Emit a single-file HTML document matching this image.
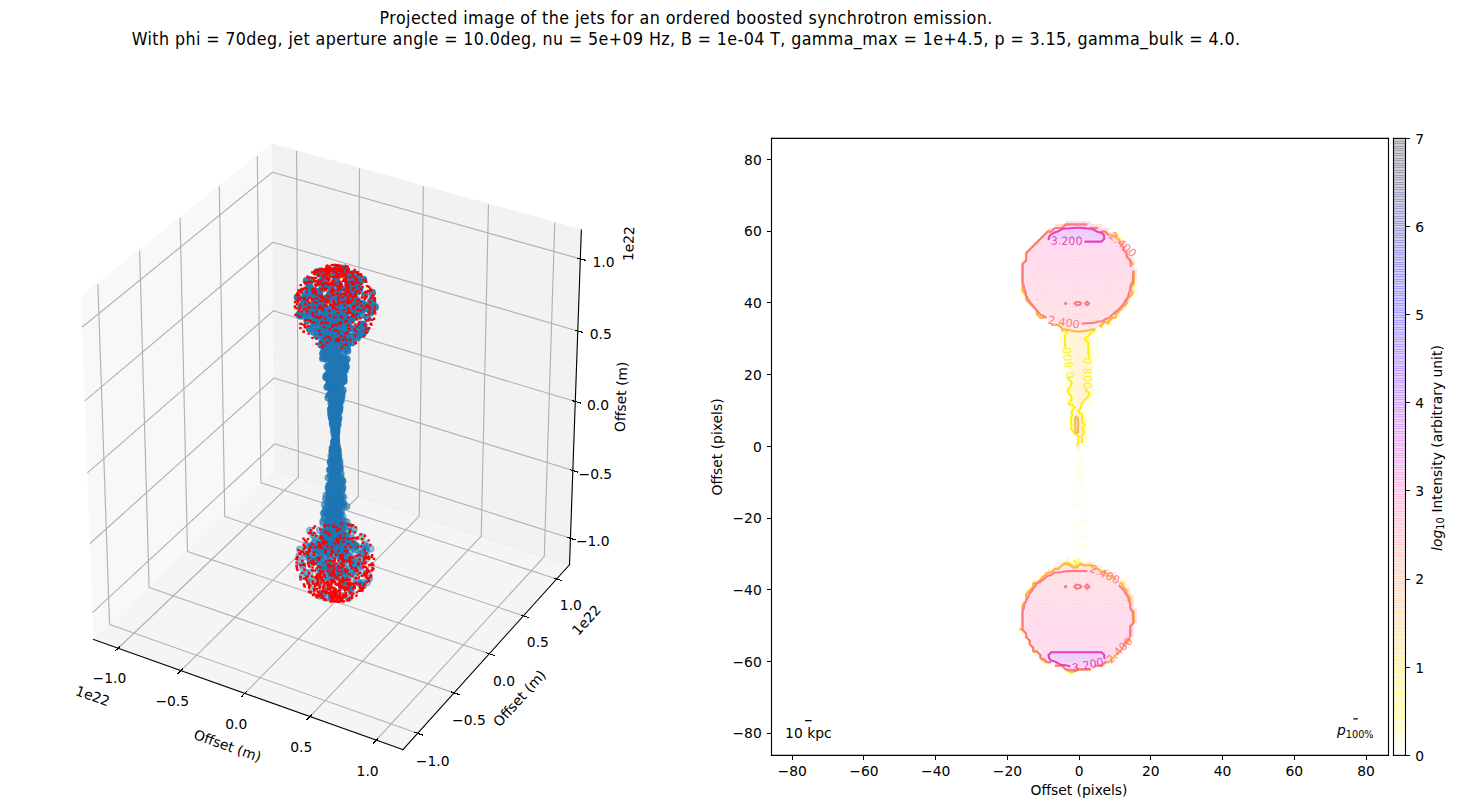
<!DOCTYPE html>
<html lang="en"><head><meta charset="utf-8"><title>Projected image of the jets</title>
<style>html,body{margin:0;padding:0;background:#fff;overflow:hidden}svg{display:block}text{font-family:"DejaVu Sans","Liberation Sans",sans-serif}</style>
</head><body>
<svg width="1457" height="808" viewBox="0 0 1049.04 581.76"> <defs> <style type="text/css">*{stroke-linejoin: round; stroke-linecap: butt}</style> </defs> <g id="figure_1"> <g id="patch_1"> <path d="M 0 581.76 L 1049.04 581.76 L 1049.04 0 L 0 0 z " style="fill: #ffffff"/> </g> <g id="patch_2"> <path d="M -2.86 581.37 L 472.73 581.37 L 472.73 61.42 L -2.86 61.42 z " style="fill: #ffffff"/> </g> <g id="pane3d_1"> <g id="patch_3"> <path d="M 67.36 460.45 L 197.96 338.09 L 195.86 103.87 L 58.29 214.30 " style="fill: #f2f2f2; opacity: 0.5; stroke: #f2f2f2; stroke-linejoin: miter"/> </g> </g> <g id="pane3d_2"> <g id="patch_4"> <path d="M 197.96 338.09 L 410.05 406.58 L 418.57 165.59 L 195.86 103.87 " style="fill: #e6e6e6; opacity: 0.5; stroke: #e6e6e6; stroke-linejoin: miter"/> </g> </g> <g id="pane3d_3"> <g id="patch_5"> <path d="M 67.36 460.45 L 290.07 539.75 L 410.05 406.58 L 197.96 338.09 " style="fill: #ececec; opacity: 0.5; stroke: #ececec; stroke-linejoin: miter"/> </g> </g> <g id="grid3d_1"> <g id="Line3DCollection_1"> <path d="M 85.03 466.74 L 214.83 343.54 L 213.55 108.77 " style="fill: none; stroke: #b0b0b0; stroke-width: 0.8"/> <path d="M 130.23 482.84 L 257.97 357.47 L 258.79 121.31 " style="fill: none; stroke: #b0b0b0; stroke-width: 0.8"/> <path d="M 176.27 499.23 L 301.84 371.64 L 304.83 134.07 " style="fill: none; stroke: #b0b0b0; stroke-width: 0.8"/> <path d="M 223.16 515.93 L 346.47 386.05 L 351.71 147.06 " style="fill: none; stroke: #b0b0b0; stroke-width: 0.8"/> <path d="M 270.92 532.93 L 391.87 400.71 L 399.43 160.28 " style="fill: none; stroke: #b0b0b0; stroke-width: 0.8"/> </g> </g> <g id="grid3d_2"> <g id="Line3DCollection_2"> <path d="M 70.46 204.53 L 78.88 449.66 L 300.68 527.97 " style="fill: none; stroke: #b0b0b0; stroke-width: 0.8"/> <path d="M 100.53 180.39 L 107.36 422.97 L 326.90 498.87 " style="fill: none; stroke: #b0b0b0; stroke-width: 0.8"/> <path d="M 129.66 157.01 L 135.00 397.08 L 352.30 470.68 " style="fill: none; stroke: #b0b0b0; stroke-width: 0.8"/> <path d="M 157.89 134.35 L 161.82 371.95 L 376.92 443.35 " style="fill: none; stroke: #b0b0b0; stroke-width: 0.8"/> <path d="M 185.25 112.38 L 187.86 347.55 L 400.80 416.85 " style="fill: none; stroke: #b0b0b0; stroke-width: 0.8"/> </g> </g> <g id="grid3d_3"> <g id="Line3DCollection_3"> <path d="M 410.73 387.56 L 197.79 319.56 L 66.64 441.05 " style="fill: none; stroke: #b0b0b0; stroke-width: 0.8"/> <path d="M 412.45 338.80 L 197.37 272.12 L 64.81 391.30 " style="fill: none; stroke: #b0b0b0; stroke-width: 0.8"/> <path d="M 414.21 289.05 L 196.93 223.75 L 62.94 340.50 " style="fill: none; stroke: #b0b0b0; stroke-width: 0.8"/> <path d="M 416.00 238.26 L 196.49 174.41 L 61.02 288.61 " style="fill: none; stroke: #b0b0b0; stroke-width: 0.8"/> <path d="M 417.83 186.41 L 196.04 124.08 L 59.07 235.60 " style="fill: none; stroke: #b0b0b0; stroke-width: 0.8"/> </g> </g> <g id="axis3d_1"> <g id="line2d_1"> <path d="M 67.36 460.45 L 290.07 539.75 " style="fill: none; stroke: #000000; stroke-width: 0.8; stroke-linecap: square"/> </g> <g id="xtick_1"> <g shape-rendering="crispEdges" id="line2d_2"> <path d="M 86.14 465.69 L 82.79 468.86 " style="fill: none; stroke: #000000; stroke-width: 0.8; stroke-linecap: square"/> </g> <g id="text_1" transform="translate(-0.36 1.44)"> <text style="font-size: 10px; font-family: 'DejaVu Sans','Liberation Sans',sans-serif; text-anchor: middle" x="79.18" y="490.63" transform="rotate(-0 79.18 490.63)">−1.0</text> </g> </g> <g id="xtick_2"> <g shape-rendering="crispEdges" id="line2d_3"> <path d="M 131.33 481.76 L 128.03 485.00 " style="fill: none; stroke: #000000; stroke-width: 0.8; stroke-linecap: square"/> </g> <g id="text_2" transform="translate(-0.36 1.44)"> <text style="font-size: 10px; font-family: 'DejaVu Sans','Liberation Sans',sans-serif; text-anchor: middle" x="124.38" y="506.90" transform="rotate(-0 124.38 506.90)">−0.5</text> </g> </g> <g id="xtick_3"> <g shape-rendering="crispEdges" id="line2d_4"> <path d="M 177.35 498.13 L 174.11 501.43 " style="fill: none; stroke: #000000; stroke-width: 0.8; stroke-linecap: square"/> </g> <g id="text_3" transform="translate(-0.36 1.44)"> <text style="font-size: 10px; font-family: 'DejaVu Sans','Liberation Sans',sans-serif; text-anchor: middle" x="170.42" y="523.46" transform="rotate(-0 170.42 523.46)">0.0</text> </g> </g> <g id="xtick_4"> <g shape-rendering="crispEdges" id="line2d_5"> <path d="M 224.22 514.81 L 221.03 518.17 " style="fill: none; stroke: #000000; stroke-width: 0.8; stroke-linecap: square"/> </g> <g id="text_4" transform="translate(-0.36 1.44)"> <text style="font-size: 10px; font-family: 'DejaVu Sans','Liberation Sans',sans-serif; text-anchor: middle" x="217.30" y="540.32" transform="rotate(-0 217.30 540.32)">0.5</text> </g> </g> <g id="xtick_5"> <g shape-rendering="crispEdges" id="line2d_6"> <path d="M 271.96 531.79 L 268.83 535.21 " style="fill: none; stroke: #000000; stroke-width: 0.8; stroke-linecap: square"/> </g> <g id="text_5" transform="translate(-0.36 1.44)"> <text style="font-size: 10px; font-family: 'DejaVu Sans','Liberation Sans',sans-serif; text-anchor: middle" x="265.06" y="557.50" transform="rotate(-0 265.06 557.50)">1.0</text> </g> </g> <g id="text_6" transform="translate(0.00 1.87)"> <text style="font-size: 10px; font-family: 'DejaVu Sans','Liberation Sans',sans-serif; text-anchor: start" x="53.70" y="498.37" transform="rotate(-340.40 53.70 498.37)">1e22</text> </g> <g id="text_7" transform="translate(0.00 2.23)"> <text style="font-size: 10px; font-family: 'DejaVu Sans','Liberation Sans',sans-serif; text-anchor: middle" x="162.60" y="538.02" transform="rotate(-340.40 162.60 538.02)">Offset (m)</text> </g> </g> <g id="axis3d_2"> <g id="line2d_7"> <path d="M 410.05 406.58 L 290.07 539.75 " style="fill: none; stroke: #000000; stroke-width: 0.8; stroke-linecap: square"/> </g> <g id="xtick_6"> <g shape-rendering="crispEdges" id="line2d_8"> <path d="M 298.83 527.32 L 304.39 529.28 " style="fill: none; stroke: #000000; stroke-width: 0.8; stroke-linecap: square"/> </g> <g id="text_8" transform="translate(0.72 1.51)"> <text style="font-size: 10px; font-family: 'DejaVu Sans','Liberation Sans',sans-serif; text-anchor: middle" x="310.82" y="549.81" transform="rotate(-0 310.82 549.81)">−1.0</text> </g> </g> <g id="xtick_7"> <g shape-rendering="crispEdges" id="line2d_9"> <path d="M 325.07 498.24 L 330.57 500.14 " style="fill: none; stroke: #000000; stroke-width: 0.8; stroke-linecap: square"/> </g> <g id="text_9" transform="translate(0.72 1.51)"> <text style="font-size: 10px; font-family: 'DejaVu Sans','Liberation Sans',sans-serif; text-anchor: middle" x="336.87" y="520.50" transform="rotate(-0 336.87 520.50)">−0.5</text> </g> </g> <g id="xtick_8"> <g shape-rendering="crispEdges" id="line2d_10"> <path d="M 350.49 470.06 L 355.93 471.91 " style="fill: none; stroke: #000000; stroke-width: 0.8; stroke-linecap: square"/> </g> <g id="text_10" transform="translate(0.72 1.51)"> <text style="font-size: 10px; font-family: 'DejaVu Sans','Liberation Sans',sans-serif; text-anchor: middle" x="362.11" y="492.09" transform="rotate(-0 362.11 492.09)">0.0</text> </g> </g> <g id="xtick_9"> <g shape-rendering="crispEdges" id="line2d_11"> <path d="M 375.13 442.76 L 380.51 444.54 " style="fill: none; stroke: #000000; stroke-width: 0.8; stroke-linecap: square"/> </g> <g id="text_11" transform="translate(0.72 1.51)"> <text style="font-size: 10px; font-family: 'DejaVu Sans','Liberation Sans',sans-serif; text-anchor: middle" x="386.57" y="464.56" transform="rotate(-0 386.57 464.56)">0.5</text> </g> </g> <g id="xtick_10"> <g shape-rendering="crispEdges" id="line2d_12"> <path d="M 399.03 416.28 L 404.35 418.01 " style="fill: none; stroke: #000000; stroke-width: 0.8; stroke-linecap: square"/> </g> <g id="text_12" transform="translate(0.72 1.51)"> <text style="font-size: 10px; font-family: 'DejaVu Sans','Liberation Sans',sans-serif; text-anchor: middle" x="410.30" y="437.87" transform="rotate(-0 410.30 437.87)">1.0</text> </g> </g> <g id="text_13" transform="translate(0.65 2.02)"> <text style="font-size: 10px; font-family: 'DejaVu Sans','Liberation Sans',sans-serif; text-anchor: end" x="432.61" y="437.42" transform="rotate(-47.98 432.61 437.42)">1e22</text> </g> <g id="text_14" transform="translate(1.01 2.66)"> <text style="font-size: 10px; font-family: 'DejaVu Sans','Liberation Sans',sans-serif; text-anchor: middle" x="375.66" y="502.55" transform="rotate(-47.98 375.66 502.55)">Offset (m)</text> </g> </g> <g id="axis3d_3"> <g id="line2d_13"> <path d="M 410.05 406.58 L 418.57 165.59 " style="fill: none; stroke: #000000; stroke-width: 0.8; stroke-linecap: square"/> </g> <g id="xtick_11"> <g shape-rendering="crispEdges" id="line2d_14"> <path d="M 408.95 386.99 L 414.28 388.69 " style="fill: none; stroke: #000000; stroke-width: 0.8; stroke-linecap: square"/> </g> <g id="text_15" transform="translate(1.30 0.50)"> <text style="font-size: 10px; font-family: 'DejaVu Sans','Liberation Sans',sans-serif; text-anchor: middle" x="425.50" y="392.86" transform="rotate(-0 425.50 392.86)">−1.0</text> </g> </g> <g id="xtick_12"> <g shape-rendering="crispEdges" id="line2d_15"> <path d="M 410.65 338.25 L 416.04 339.92 " style="fill: none; stroke: #000000; stroke-width: 0.8; stroke-linecap: square"/> </g> <g id="text_16" transform="translate(1.30 0.50)"> <text style="font-size: 10px; font-family: 'DejaVu Sans','Liberation Sans',sans-serif; text-anchor: middle" x="427.37" y="344.15" transform="rotate(-0 427.37 344.15)">−0.5</text> </g> </g> <g id="xtick_13"> <g shape-rendering="crispEdges" id="line2d_16"> <path d="M 412.39 288.51 L 417.83 290.14 " style="fill: none; stroke: #000000; stroke-width: 0.8; stroke-linecap: square"/> </g> <g id="text_17" transform="translate(1.30 0.50)"> <text style="font-size: 10px; font-family: 'DejaVu Sans','Liberation Sans',sans-serif; text-anchor: middle" x="429.28" y="294.44" transform="rotate(-0 429.28 294.44)">0.0</text> </g> </g> <g id="xtick_14"> <g shape-rendering="crispEdges" id="line2d_17"> <path d="M 414.17 237.73 L 419.66 239.33 " style="fill: none; stroke: #000000; stroke-width: 0.8; stroke-linecap: square"/> </g> <g id="text_18" transform="translate(1.30 0.50)"> <text style="font-size: 10px; font-family: 'DejaVu Sans','Liberation Sans',sans-serif; text-anchor: middle" x="431.23" y="243.70" transform="rotate(-0 431.23 243.70)">0.5</text> </g> </g> <g id="xtick_15"> <g shape-rendering="crispEdges" id="line2d_18"> <path d="M 415.98 185.89 L 421.54 187.45 " style="fill: none; stroke: #000000; stroke-width: 0.8; stroke-linecap: square"/> </g> <g id="text_19" transform="translate(1.30 0.50)"> <text style="font-size: 10px; font-family: 'DejaVu Sans','Liberation Sans',sans-serif; text-anchor: middle" x="433.22" y="191.90" transform="rotate(-0 433.22 191.90)">1.0</text> </g> </g> <g id="text_20" transform="translate(1.80 1.80)"> <text style="font-size: 10px; font-family: 'DejaVu Sans','Liberation Sans',sans-serif; text-anchor: end" x="454.85" y="161.15" transform="rotate(-87.97 454.85 161.15)">1e22</text> </g> <g id="text_21" transform="translate(1.08 1.44)"> <text style="font-size: 10px; font-family: 'DejaVu Sans','Liberation Sans',sans-serif; text-anchor: middle" x="449.68" y="284.36" transform="rotate(-87.97 449.68 284.36)">Offset (m)</text> </g> </g> <g id="axes_1"/> <g id="scatter3d"><g fill="#1f77b4" stroke="#1f77b4" stroke-width="1"><circle cx="237.69" cy="412.72" r="2.24" fill-opacity=".30" stroke-opacity=".30"/><circle cx="230.21" cy="397.5" r="2.24" fill-opacity=".31" stroke-opacity=".31"/><circle cx="249.74" cy="398.08" r="2.24" fill-opacity=".31" stroke-opacity=".31"/><circle cx="236.58" cy="389.41" r="2.24" fill-opacity=".31" stroke-opacity=".31"/><circle cx="248.66" cy="414.49" r="2.24" fill-opacity=".31" stroke-opacity=".31"/><circle cx="248" cy="418.33" r="2.24" fill-opacity=".31" stroke-opacity=".31"/><circle cx="242.74" cy="396.29" r="2.24" fill-opacity=".31" stroke-opacity=".31"/><circle cx="236.86" cy="416.05" r="2.24" fill-opacity=".32" stroke-opacity=".32"/><circle cx="255.34" cy="407.28" r="2.24" fill-opacity=".32" stroke-opacity=".32"/><circle cx="240.26" cy="384.71" r="2.24" fill-opacity=".32" stroke-opacity=".32"/><circle cx="225.39" cy="395.49" r="2.24" fill-opacity=".32" stroke-opacity=".32"/><circle cx="243.39" cy="410.08" r="2.24" fill-opacity=".32" stroke-opacity=".32"/><circle cx="242.5" cy="415.67" r="2.24" fill-opacity=".32" stroke-opacity=".32"/><circle cx="250.22" cy="413.86" r="2.24" fill-opacity=".32" stroke-opacity=".32"/><circle cx="238.46" cy="413.44" r="2.24" fill-opacity=".32" stroke-opacity=".32"/><circle cx="251.17" cy="390.17" r="2.24" fill-opacity=".32" stroke-opacity=".32"/><circle cx="237" cy="390.93" r="2.24" fill-opacity=".32" stroke-opacity=".32"/><circle cx="249.26" cy="385.25" r="2.24" fill-opacity=".33" stroke-opacity=".33"/><circle cx="244.96" cy="395.83" r="2.24" fill-opacity=".33" stroke-opacity=".33"/><circle cx="230.43" cy="394.04" r="2.24" fill-opacity=".33" stroke-opacity=".33"/><circle cx="255.75" cy="406.95" r="2.24" fill-opacity=".33" stroke-opacity=".33"/><circle cx="232.74" cy="415.5" r="2.24" fill-opacity=".33" stroke-opacity=".33"/><circle cx="261.12" cy="398.33" r="2.24" fill-opacity=".33" stroke-opacity=".33"/><circle cx="245.35" cy="414.29" r="2.24" fill-opacity=".33" stroke-opacity=".33"/><circle cx="260.13" cy="411.18" r="2.24" fill-opacity=".33" stroke-opacity=".33"/><circle cx="244.28" cy="382.85" r="2.24" fill-opacity=".33" stroke-opacity=".33"/><circle cx="234.44" cy="408.7" r="2.24" fill-opacity=".33" stroke-opacity=".33"/><circle cx="229.43" cy="412.27" r="2.24" fill-opacity=".34" stroke-opacity=".34"/><circle cx="245.65" cy="413.52" r="2.24" fill-opacity=".34" stroke-opacity=".34"/><circle cx="227.05" cy="394.36" r="2.24" fill-opacity=".34" stroke-opacity=".34"/><circle cx="254.23" cy="410.73" r="2.24" fill-opacity=".34" stroke-opacity=".34"/><circle cx="237.93" cy="393.72" r="2.24" fill-opacity=".34" stroke-opacity=".34"/><circle cx="255.93" cy="393.93" r="2.24" fill-opacity=".34" stroke-opacity=".34"/><circle cx="245.5" cy="404" r="2.24" fill-opacity=".34" stroke-opacity=".34"/><circle cx="227.53" cy="400.6" r="2.24" fill-opacity=".35" stroke-opacity=".35"/><circle cx="249.57" cy="385.88" r="2.24" fill-opacity=".35" stroke-opacity=".35"/><circle cx="237.46" cy="416.76" r="2.24" fill-opacity=".35" stroke-opacity=".35"/><circle cx="263.95" cy="397.32" r="2.24" fill-opacity=".35" stroke-opacity=".35"/><circle cx="230.65" cy="410.53" r="2.24" fill-opacity=".35" stroke-opacity=".35"/><circle cx="257.65" cy="418.6" r="2.24" fill-opacity=".35" stroke-opacity=".35"/><circle cx="258.92" cy="406.07" r="2.24" fill-opacity=".35" stroke-opacity=".35"/><circle cx="253.94" cy="407.35" r="2.24" fill-opacity=".35" stroke-opacity=".35"/><circle cx="258.59" cy="399.46" r="2.24" fill-opacity=".35" stroke-opacity=".35"/><circle cx="233.74" cy="385.38" r="2.24" fill-opacity=".35" stroke-opacity=".35"/><circle cx="224.11" cy="403.91" r="2.24" fill-opacity=".36" stroke-opacity=".36"/><circle cx="248.09" cy="411.06" r="2.24" fill-opacity=".36" stroke-opacity=".36"/><circle cx="226.67" cy="404.5" r="2.24" fill-opacity=".36" stroke-opacity=".36"/><circle cx="253.06" cy="422.45" r="2.24" fill-opacity=".36" stroke-opacity=".36"/><circle cx="248.23" cy="389.46" r="2.24" fill-opacity=".36" stroke-opacity=".36"/><circle cx="247.36" cy="419.77" r="2.24" fill-opacity=".36" stroke-opacity=".36"/><circle cx="246.54" cy="420.01" r="2.24" fill-opacity=".36" stroke-opacity=".36"/><circle cx="239.23" cy="388.88" r="2.24" fill-opacity=".36" stroke-opacity=".36"/><circle cx="236.25" cy="396.21" r="2.24" fill-opacity=".36" stroke-opacity=".36"/><circle cx="235.65" cy="421.58" r="2.24" fill-opacity=".36" stroke-opacity=".36"/><circle cx="252.27" cy="424.69" r="2.24" fill-opacity=".37" stroke-opacity=".37"/><circle cx="243.04" cy="411.46" r="2.24" fill-opacity=".37" stroke-opacity=".37"/><circle cx="245.75" cy="421.43" r="2.24" fill-opacity=".37" stroke-opacity=".37"/><circle cx="226.24" cy="404.2" r="2.24" fill-opacity=".37" stroke-opacity=".37"/><circle cx="261.06" cy="396.16" r="2.24" fill-opacity=".37" stroke-opacity=".37"/><circle cx="229.94" cy="405.85" r="2.24" fill-opacity=".37" stroke-opacity=".37"/><circle cx="218.15" cy="409.16" r="2.24" fill-opacity=".37" stroke-opacity=".37"/><circle cx="237.98" cy="413.26" r="2.24" fill-opacity=".37" stroke-opacity=".37"/><circle cx="255.91" cy="411.77" r="2.24" fill-opacity=".37" stroke-opacity=".37"/><circle cx="244.66" cy="399.3" r="2.24" fill-opacity=".38" stroke-opacity=".38"/><circle cx="217.61" cy="406.88" r="2.24" fill-opacity=".38" stroke-opacity=".38"/><circle cx="263.51" cy="402.64" r="2.24" fill-opacity=".38" stroke-opacity=".38"/><circle cx="230.36" cy="408.97" r="2.24" fill-opacity=".38" stroke-opacity=".38"/><circle cx="227.22" cy="387.5" r="2.24" fill-opacity=".38" stroke-opacity=".38"/><circle cx="241.36" cy="384.16" r="2.24" fill-opacity=".38" stroke-opacity=".38"/><circle cx="246.25" cy="418.85" r="2.24" fill-opacity=".38" stroke-opacity=".38"/><circle cx="255.09" cy="392.62" r="2.24" fill-opacity=".38" stroke-opacity=".38"/><circle cx="238.39" cy="414.13" r="2.24" fill-opacity=".38" stroke-opacity=".38"/><circle cx="239.89" cy="427.63" r="2.24" fill-opacity=".39" stroke-opacity=".39"/><circle cx="250.83" cy="379.44" r="2.24" fill-opacity=".39" stroke-opacity=".39"/><circle cx="245.23" cy="410.98" r="2.24" fill-opacity=".39" stroke-opacity=".39"/><circle cx="232.17" cy="397.44" r="2.24" fill-opacity=".39" stroke-opacity=".39"/><circle cx="226.11" cy="393.7" r="2.24" fill-opacity=".39" stroke-opacity=".39"/><circle cx="229.16" cy="392.1" r="2.24" fill-opacity=".39" stroke-opacity=".39"/><circle cx="246.73" cy="377.71" r="2.24" fill-opacity=".39" stroke-opacity=".39"/><circle cx="235.92" cy="393.48" r="2.24" fill-opacity=".39" stroke-opacity=".39"/><circle cx="254.26" cy="401.66" r="2.24" fill-opacity=".39" stroke-opacity=".39"/><circle cx="233.57" cy="407.1" r="2.24" fill-opacity=".39" stroke-opacity=".39"/><circle cx="241.8" cy="387.76" r="2.24" fill-opacity=".39" stroke-opacity=".39"/><circle cx="220.02" cy="400.97" r="2.24" fill-opacity=".39" stroke-opacity=".39"/><circle cx="248.77" cy="419" r="2.24" fill-opacity=".39" stroke-opacity=".39"/><circle cx="256.12" cy="393.47" r="2.24" fill-opacity=".39" stroke-opacity=".39"/><circle cx="244.16" cy="387.25" r="2.24" fill-opacity=".39" stroke-opacity=".39"/><circle cx="254.13" cy="411.33" r="2.24" fill-opacity=".39" stroke-opacity=".39"/><circle cx="264.43" cy="419.38" r="2.24" fill-opacity=".39" stroke-opacity=".39"/><circle cx="254.31" cy="391.71" r="2.24" fill-opacity=".40" stroke-opacity=".40"/><circle cx="249.11" cy="414.26" r="2.24" fill-opacity=".40" stroke-opacity=".40"/><circle cx="223.11" cy="381.91" r="2.24" fill-opacity=".40" stroke-opacity=".40"/><circle cx="251.66" cy="403.29" r="2.24" fill-opacity=".40" stroke-opacity=".40"/><circle cx="234.01" cy="407.45" r="2.24" fill-opacity=".40" stroke-opacity=".40"/><circle cx="228.81" cy="419.84" r="2.24" fill-opacity=".40" stroke-opacity=".40"/><circle cx="245.15" cy="394.91" r="2.24" fill-opacity=".40" stroke-opacity=".40"/><circle cx="240.95" cy="414.28" r="2.24" fill-opacity=".40" stroke-opacity=".40"/><circle cx="263.29" cy="400.69" r="2.24" fill-opacity=".40" stroke-opacity=".40"/><circle cx="236.96" cy="390.43" r="2.24" fill-opacity=".40" stroke-opacity=".40"/><circle cx="261.6" cy="421.78" r="2.24" fill-opacity=".40" stroke-opacity=".40"/><circle cx="240.08" cy="389.81" r="2.24" fill-opacity=".40" stroke-opacity=".40"/><circle cx="231.52" cy="414.16" r="2.24" fill-opacity=".40" stroke-opacity=".40"/><circle cx="239.92" cy="392.51" r="2.24" fill-opacity=".40" stroke-opacity=".40"/><circle cx="223.66" cy="405.78" r="2.24" fill-opacity=".40" stroke-opacity=".40"/><circle cx="254.88" cy="395.04" r="2.24" fill-opacity=".40" stroke-opacity=".40"/><circle cx="243.26" cy="380.09" r="2.24" fill-opacity=".40" stroke-opacity=".40"/><circle cx="227.68" cy="392.99" r="2.24" fill-opacity=".40" stroke-opacity=".40"/><circle cx="240.81" cy="393.11" r="2.24" fill-opacity=".40" stroke-opacity=".40"/><circle cx="243.19" cy="426.9" r="2.24" fill-opacity=".41" stroke-opacity=".41"/><circle cx="244.5" cy="396.68" r="2.24" fill-opacity=".41" stroke-opacity=".41"/><circle cx="260.55" cy="386.58" r="2.24" fill-opacity=".41" stroke-opacity=".41"/><circle cx="232.34" cy="427.13" r="2.24" fill-opacity=".41" stroke-opacity=".41"/><circle cx="243.22" cy="392.04" r="2.24" fill-opacity=".41" stroke-opacity=".41"/><circle cx="264.97" cy="412.29" r="2.24" fill-opacity=".41" stroke-opacity=".41"/><circle cx="237.99" cy="388.68" r="2.24" fill-opacity=".41" stroke-opacity=".41"/><circle cx="242.44" cy="415.24" r="2.24" fill-opacity=".41" stroke-opacity=".41"/><circle cx="215.82" cy="395.44" r="2.24" fill-opacity=".41" stroke-opacity=".41"/><circle cx="251.61" cy="408.68" r="2.24" fill-opacity=".41" stroke-opacity=".41"/><circle cx="250.87" cy="393.64" r="2.24" fill-opacity=".41" stroke-opacity=".41"/><circle cx="241.53" cy="389.38" r="2.24" fill-opacity=".41" stroke-opacity=".41"/><circle cx="242.3" cy="394.08" r="2.24" fill-opacity=".41" stroke-opacity=".41"/><circle cx="238.18" cy="389.35" r="2.24" fill-opacity=".41" stroke-opacity=".41"/><circle cx="251.41" cy="378.86" r="2.24" fill-opacity=".41" stroke-opacity=".41"/><circle cx="234.9" cy="392.76" r="2.24" fill-opacity=".41" stroke-opacity=".41"/><circle cx="223.3" cy="412.1" r="2.24" fill-opacity=".41" stroke-opacity=".41"/><circle cx="262.64" cy="391.74" r="2.24" fill-opacity=".41" stroke-opacity=".41"/><circle cx="248.35" cy="393.91" r="2.24" fill-opacity=".41" stroke-opacity=".41"/><circle cx="240.27" cy="384.6" r="2.24" fill-opacity=".41" stroke-opacity=".41"/><circle cx="232.03" cy="424.45" r="2.24" fill-opacity=".41" stroke-opacity=".41"/><circle cx="239.72" cy="388.57" r="2.24" fill-opacity=".41" stroke-opacity=".41"/><circle cx="238.75" cy="389.74" r="2.24" fill-opacity=".41" stroke-opacity=".41"/><circle cx="241.65" cy="394.92" r="2.24" fill-opacity=".41" stroke-opacity=".41"/><circle cx="231.68" cy="405.35" r="2.24" fill-opacity=".42" stroke-opacity=".42"/><circle cx="260.62" cy="402.34" r="2.24" fill-opacity=".42" stroke-opacity=".42"/><circle cx="246.52" cy="395.24" r="2.24" fill-opacity=".42" stroke-opacity=".42"/><circle cx="266.98" cy="395.05" r="2.24" fill-opacity=".42" stroke-opacity=".42"/><circle cx="252.63" cy="425.85" r="2.24" fill-opacity=".42" stroke-opacity=".42"/><circle cx="240.05" cy="396.04" r="2.24" fill-opacity=".42" stroke-opacity=".42"/><circle cx="238.24" cy="410.32" r="2.24" fill-opacity=".42" stroke-opacity=".42"/><circle cx="224.65" cy="392.52" r="2.24" fill-opacity=".42" stroke-opacity=".42"/><circle cx="234.3" cy="410.72" r="2.24" fill-opacity=".42" stroke-opacity=".42"/><circle cx="243.75" cy="382.4" r="2.24" fill-opacity=".42" stroke-opacity=".42"/><circle cx="243.15" cy="387.73" r="2.24" fill-opacity=".42" stroke-opacity=".42"/><circle cx="265.95" cy="416.58" r="2.24" fill-opacity=".42" stroke-opacity=".42"/><circle cx="243.41" cy="390.1" r="2.24" fill-opacity=".42" stroke-opacity=".42"/><circle cx="222.58" cy="393.79" r="2.24" fill-opacity=".42" stroke-opacity=".42"/><circle cx="235.5" cy="403.68" r="2.24" fill-opacity=".42" stroke-opacity=".42"/><circle cx="242.12" cy="385.43" r="2.24" fill-opacity=".42" stroke-opacity=".42"/><circle cx="243.82" cy="392.11" r="2.24" fill-opacity=".42" stroke-opacity=".42"/><circle cx="238.42" cy="430.63" r="2.24" fill-opacity=".42" stroke-opacity=".42"/><circle cx="254.52" cy="413.92" r="2.24" fill-opacity=".42" stroke-opacity=".42"/><circle cx="240.61" cy="397.06" r="2.24" fill-opacity=".42" stroke-opacity=".42"/><circle cx="261.91" cy="393.34" r="2.24" fill-opacity=".42" stroke-opacity=".42"/><circle cx="224.02" cy="393.63" r="2.24" fill-opacity=".42" stroke-opacity=".42"/><circle cx="238.26" cy="391.36" r="2.24" fill-opacity=".42" stroke-opacity=".42"/><circle cx="240.37" cy="429.04" r="2.24" fill-opacity=".43" stroke-opacity=".43"/><circle cx="244.63" cy="389.12" r="2.24" fill-opacity=".43" stroke-opacity=".43"/><circle cx="242.72" cy="387.89" r="2.24" fill-opacity=".43" stroke-opacity=".43"/><circle cx="246.33" cy="428.92" r="2.24" fill-opacity=".43" stroke-opacity=".43"/><circle cx="223.1" cy="419.19" r="2.24" fill-opacity=".43" stroke-opacity=".43"/><circle cx="246.46" cy="390.73" r="2.24" fill-opacity=".43" stroke-opacity=".43"/><circle cx="238.13" cy="388.06" r="2.24" fill-opacity=".43" stroke-opacity=".43"/><circle cx="230.65" cy="401.44" r="2.24" fill-opacity=".43" stroke-opacity=".43"/><circle cx="244.43" cy="408.8" r="2.24" fill-opacity=".43" stroke-opacity=".43"/><circle cx="252.44" cy="403.24" r="2.24" fill-opacity=".43" stroke-opacity=".43"/><circle cx="243.78" cy="397.99" r="2.24" fill-opacity=".43" stroke-opacity=".43"/><circle cx="228.18" cy="399.1" r="2.24" fill-opacity=".43" stroke-opacity=".43"/><circle cx="234.63" cy="407.47" r="2.24" fill-opacity=".43" stroke-opacity=".43"/><circle cx="243.34" cy="388.52" r="2.24" fill-opacity=".43" stroke-opacity=".43"/><circle cx="243.64" cy="392.01" r="2.24" fill-opacity=".43" stroke-opacity=".43"/><circle cx="242.54" cy="381.94" r="2.24" fill-opacity=".43" stroke-opacity=".43"/><circle cx="232.79" cy="411.51" r="2.24" fill-opacity=".43" stroke-opacity=".43"/><circle cx="233.53" cy="391.67" r="2.24" fill-opacity=".43" stroke-opacity=".43"/><circle cx="252.42" cy="422.05" r="2.24" fill-opacity=".43" stroke-opacity=".43"/><circle cx="237.09" cy="396.99" r="2.24" fill-opacity=".43" stroke-opacity=".43"/><circle cx="257.49" cy="404.52" r="2.24" fill-opacity=".43" stroke-opacity=".43"/><circle cx="248.59" cy="388.78" r="2.24" fill-opacity=".43" stroke-opacity=".43"/><circle cx="254.92" cy="381.1" r="2.24" fill-opacity=".43" stroke-opacity=".43"/><circle cx="243.71" cy="379.71" r="2.24" fill-opacity=".43" stroke-opacity=".43"/><circle cx="254.21" cy="388.3" r="2.24" fill-opacity=".43" stroke-opacity=".43"/><circle cx="237.85" cy="381.6" r="2.24" fill-opacity=".43" stroke-opacity=".43"/><circle cx="247.86" cy="396.01" r="2.24" fill-opacity=".43" stroke-opacity=".43"/><circle cx="239.82" cy="377.32" r="2.24" fill-opacity=".44" stroke-opacity=".44"/><circle cx="244.43" cy="395.65" r="2.24" fill-opacity=".44" stroke-opacity=".44"/><circle cx="263.3" cy="395.78" r="2.24" fill-opacity=".44" stroke-opacity=".44"/><circle cx="237.35" cy="383.9" r="2.24" fill-opacity=".44" stroke-opacity=".44"/><circle cx="239.89" cy="375.71" r="2.24" fill-opacity=".44" stroke-opacity=".44"/><circle cx="235.17" cy="386.98" r="2.24" fill-opacity=".44" stroke-opacity=".44"/><circle cx="245.63" cy="395.47" r="2.24" fill-opacity=".44" stroke-opacity=".44"/><circle cx="238.3" cy="378.49" r="2.24" fill-opacity=".44" stroke-opacity=".44"/><circle cx="240.45" cy="395.26" r="2.24" fill-opacity=".44" stroke-opacity=".44"/><circle cx="220.49" cy="392.67" r="2.24" fill-opacity=".44" stroke-opacity=".44"/><circle cx="224.71" cy="424.1" r="2.24" fill-opacity=".44" stroke-opacity=".44"/><circle cx="248.61" cy="396.37" r="2.24" fill-opacity=".44" stroke-opacity=".44"/><circle cx="238.2" cy="412.24" r="2.24" fill-opacity=".44" stroke-opacity=".44"/><circle cx="230.15" cy="381.82" r="2.24" fill-opacity=".44" stroke-opacity=".44"/><circle cx="249" cy="402.55" r="2.24" fill-opacity=".44" stroke-opacity=".44"/><circle cx="242.7" cy="389.88" r="2.24" fill-opacity=".44" stroke-opacity=".44"/><circle cx="255.92" cy="402.58" r="2.24" fill-opacity=".44" stroke-opacity=".44"/><circle cx="234.41" cy="383.28" r="2.24" fill-opacity=".44" stroke-opacity=".44"/><circle cx="259.55" cy="420.48" r="2.24" fill-opacity=".44" stroke-opacity=".44"/><circle cx="241.21" cy="375.39" r="2.24" fill-opacity=".44" stroke-opacity=".44"/><circle cx="242.51" cy="384.62" r="2.24" fill-opacity=".44" stroke-opacity=".44"/><circle cx="237.37" cy="390.55" r="2.24" fill-opacity=".44" stroke-opacity=".44"/><circle cx="223.3" cy="402.57" r="2.24" fill-opacity=".44" stroke-opacity=".44"/><circle cx="247.65" cy="387.06" r="2.24" fill-opacity=".44" stroke-opacity=".44"/><circle cx="246.01" cy="376.25" r="2.24" fill-opacity=".44" stroke-opacity=".44"/><circle cx="237.33" cy="394.4" r="2.24" fill-opacity=".44" stroke-opacity=".44"/><circle cx="245.76" cy="390.73" r="2.24" fill-opacity=".44" stroke-opacity=".44"/><circle cx="236.26" cy="382.97" r="2.24" fill-opacity=".44" stroke-opacity=".44"/><circle cx="253.11" cy="422.96" r="2.24" fill-opacity=".44" stroke-opacity=".44"/><circle cx="245.47" cy="397.21" r="2.24" fill-opacity=".44" stroke-opacity=".44"/><circle cx="246.37" cy="381.37" r="2.24" fill-opacity=".44" stroke-opacity=".44"/><circle cx="235.11" cy="422.69" r="2.24" fill-opacity=".44" stroke-opacity=".44"/><circle cx="241.07" cy="378.68" r="2.24" fill-opacity=".44" stroke-opacity=".44"/><circle cx="223.75" cy="403.69" r="2.24" fill-opacity=".44" stroke-opacity=".44"/><circle cx="250.41" cy="391.99" r="2.24" fill-opacity=".45" stroke-opacity=".45"/><circle cx="247.82" cy="377.86" r="2.24" fill-opacity=".45" stroke-opacity=".45"/><circle cx="247.55" cy="397.78" r="2.24" fill-opacity=".45" stroke-opacity=".45"/><circle cx="242.25" cy="383.74" r="2.24" fill-opacity=".45" stroke-opacity=".45"/><circle cx="234.86" cy="389.05" r="2.24" fill-opacity=".45" stroke-opacity=".45"/><circle cx="261.35" cy="419.37" r="2.24" fill-opacity=".45" stroke-opacity=".45"/><circle cx="230.5" cy="429.17" r="2.24" fill-opacity=".45" stroke-opacity=".45"/><circle cx="250.87" cy="422.13" r="2.24" fill-opacity=".45" stroke-opacity=".45"/><circle cx="234.08" cy="400.9" r="2.24" fill-opacity=".45" stroke-opacity=".45"/><circle cx="235.23" cy="377.37" r="2.24" fill-opacity=".45" stroke-opacity=".45"/><circle cx="240.29" cy="395.02" r="2.24" fill-opacity=".45" stroke-opacity=".45"/><circle cx="237.68" cy="383.71" r="2.24" fill-opacity=".45" stroke-opacity=".45"/><circle cx="239.43" cy="379.27" r="2.24" fill-opacity=".45" stroke-opacity=".45"/><circle cx="236.39" cy="374.64" r="2.24" fill-opacity=".45" stroke-opacity=".45"/><circle cx="240.54" cy="370.59" r="2.24" fill-opacity=".45" stroke-opacity=".45"/><circle cx="240.84" cy="393.58" r="2.24" fill-opacity=".45" stroke-opacity=".45"/><circle cx="241.67" cy="372.75" r="2.24" fill-opacity=".45" stroke-opacity=".45"/><circle cx="247.42" cy="385.05" r="2.24" fill-opacity=".45" stroke-opacity=".45"/><circle cx="233.58" cy="397.61" r="2.24" fill-opacity=".45" stroke-opacity=".45"/><circle cx="238.69" cy="376.59" r="2.24" fill-opacity=".45" stroke-opacity=".45"/><circle cx="250.38" cy="390.68" r="2.24" fill-opacity=".45" stroke-opacity=".45"/><circle cx="232.83" cy="395.78" r="2.24" fill-opacity=".45" stroke-opacity=".45"/><circle cx="237.35" cy="377.44" r="2.24" fill-opacity=".45" stroke-opacity=".45"/><circle cx="247.98" cy="403.93" r="2.24" fill-opacity=".45" stroke-opacity=".45"/><circle cx="241.26" cy="400.33" r="2.24" fill-opacity=".45" stroke-opacity=".45"/><circle cx="250.91" cy="430.9" r="2.24" fill-opacity=".45" stroke-opacity=".45"/><circle cx="252.05" cy="389.87" r="2.24" fill-opacity=".45" stroke-opacity=".45"/><circle cx="239.96" cy="384.18" r="2.24" fill-opacity=".45" stroke-opacity=".45"/><circle cx="246.21" cy="380.07" r="2.24" fill-opacity=".45" stroke-opacity=".45"/><circle cx="236.72" cy="398.07" r="2.24" fill-opacity=".45" stroke-opacity=".45"/><circle cx="244.56" cy="372.61" r="2.24" fill-opacity=".45" stroke-opacity=".45"/><circle cx="241.16" cy="378.05" r="2.24" fill-opacity=".45" stroke-opacity=".45"/><circle cx="246.17" cy="422.81" r="2.24" fill-opacity=".45" stroke-opacity=".45"/><circle cx="242.62" cy="392.54" r="2.24" fill-opacity=".45" stroke-opacity=".45"/><circle cx="240.54" cy="411.84" r="2.24" fill-opacity=".45" stroke-opacity=".45"/><circle cx="234.32" cy="391.64" r="2.24" fill-opacity=".45" stroke-opacity=".45"/><circle cx="222.11" cy="399.83" r="2.24" fill-opacity=".45" stroke-opacity=".45"/><circle cx="241.96" cy="393.77" r="2.24" fill-opacity=".45" stroke-opacity=".45"/><circle cx="242.09" cy="390.83" r="2.24" fill-opacity=".45" stroke-opacity=".45"/><circle cx="241.89" cy="369.79" r="2.24" fill-opacity=".45" stroke-opacity=".45"/><circle cx="227.9" cy="404.09" r="2.24" fill-opacity=".45" stroke-opacity=".45"/><circle cx="215.44" cy="400.09" r="2.24" fill-opacity=".45" stroke-opacity=".45"/><circle cx="241.52" cy="407.73" r="2.24" fill-opacity=".46" stroke-opacity=".46"/><circle cx="233.97" cy="398.95" r="2.24" fill-opacity=".46" stroke-opacity=".46"/><circle cx="245.19" cy="390.17" r="2.24" fill-opacity=".46" stroke-opacity=".46"/><circle cx="242.33" cy="391.71" r="2.24" fill-opacity=".46" stroke-opacity=".46"/><circle cx="233.2" cy="394.05" r="2.24" fill-opacity=".46" stroke-opacity=".46"/><circle cx="236.73" cy="385.46" r="2.24" fill-opacity=".46" stroke-opacity=".46"/><circle cx="233.96" cy="383.66" r="2.24" fill-opacity=".46" stroke-opacity=".46"/><circle cx="245.67" cy="395.87" r="2.24" fill-opacity=".46" stroke-opacity=".46"/><circle cx="259.11" cy="408.28" r="2.24" fill-opacity=".46" stroke-opacity=".46"/><circle cx="245.84" cy="368.74" r="2.24" fill-opacity=".46" stroke-opacity=".46"/><circle cx="239.29" cy="381.22" r="2.24" fill-opacity=".46" stroke-opacity=".46"/><circle cx="232.54" cy="383.75" r="2.24" fill-opacity=".46" stroke-opacity=".46"/><circle cx="242.97" cy="371.22" r="2.24" fill-opacity=".46" stroke-opacity=".46"/><circle cx="253.1" cy="383.59" r="2.24" fill-opacity=".46" stroke-opacity=".46"/><circle cx="264.19" cy="393.52" r="2.24" fill-opacity=".46" stroke-opacity=".46"/><circle cx="236.69" cy="391.47" r="2.24" fill-opacity=".46" stroke-opacity=".46"/><circle cx="246.35" cy="388.64" r="2.24" fill-opacity=".46" stroke-opacity=".46"/><circle cx="237.28" cy="398.59" r="2.24" fill-opacity=".46" stroke-opacity=".46"/><circle cx="245.8" cy="403.37" r="2.24" fill-opacity=".46" stroke-opacity=".46"/><circle cx="245.84" cy="395.31" r="2.24" fill-opacity=".46" stroke-opacity=".46"/><circle cx="238.9" cy="407.45" r="2.24" fill-opacity=".46" stroke-opacity=".46"/><circle cx="243.18" cy="399.62" r="2.24" fill-opacity=".46" stroke-opacity=".46"/><circle cx="217.76" cy="414.68" r="2.24" fill-opacity=".46" stroke-opacity=".46"/><circle cx="240.12" cy="392.23" r="2.24" fill-opacity=".46" stroke-opacity=".46"/><circle cx="234.9" cy="392.21" r="2.24" fill-opacity=".46" stroke-opacity=".46"/><circle cx="245.32" cy="386.19" r="2.24" fill-opacity=".46" stroke-opacity=".46"/><circle cx="242.4" cy="391.88" r="2.24" fill-opacity=".46" stroke-opacity=".46"/><circle cx="216.43" cy="404.98" r="2.24" fill-opacity=".46" stroke-opacity=".46"/><circle cx="238.61" cy="428.48" r="2.24" fill-opacity=".46" stroke-opacity=".46"/><circle cx="238.22" cy="411.79" r="2.24" fill-opacity=".46" stroke-opacity=".46"/><circle cx="256.01" cy="395.84" r="2.24" fill-opacity=".46" stroke-opacity=".46"/><circle cx="240.4" cy="383.85" r="2.24" fill-opacity=".46" stroke-opacity=".46"/><circle cx="237.52" cy="400.6" r="2.24" fill-opacity=".46" stroke-opacity=".46"/><circle cx="236.85" cy="388.21" r="2.24" fill-opacity=".46" stroke-opacity=".46"/><circle cx="245.55" cy="397.38" r="2.24" fill-opacity=".46" stroke-opacity=".46"/><circle cx="230.09" cy="389.47" r="2.24" fill-opacity=".47" stroke-opacity=".47"/><circle cx="224.02" cy="417.06" r="2.24" fill-opacity=".47" stroke-opacity=".47"/><circle cx="241.87" cy="389.11" r="2.24" fill-opacity=".47" stroke-opacity=".47"/><circle cx="243.81" cy="368.06" r="2.24" fill-opacity=".47" stroke-opacity=".47"/><circle cx="240.66" cy="364.88" r="2.24" fill-opacity=".47" stroke-opacity=".47"/><circle cx="243.02" cy="379.41" r="2.24" fill-opacity=".47" stroke-opacity=".47"/><circle cx="243.22" cy="369.97" r="2.24" fill-opacity=".47" stroke-opacity=".47"/><circle cx="232.36" cy="428.73" r="2.24" fill-opacity=".47" stroke-opacity=".47"/><circle cx="233.64" cy="372.59" r="2.24" fill-opacity=".47" stroke-opacity=".47"/><circle cx="235.27" cy="380.68" r="2.24" fill-opacity=".47" stroke-opacity=".47"/><circle cx="238.15" cy="369.94" r="2.24" fill-opacity=".47" stroke-opacity=".47"/><circle cx="233.87" cy="384.94" r="2.24" fill-opacity=".47" stroke-opacity=".47"/><circle cx="234.57" cy="390.54" r="2.24" fill-opacity=".47" stroke-opacity=".47"/><circle cx="237.04" cy="393.69" r="2.24" fill-opacity=".47" stroke-opacity=".47"/><circle cx="235.56" cy="430.31" r="2.24" fill-opacity=".47" stroke-opacity=".47"/><circle cx="235.8" cy="366.63" r="2.24" fill-opacity=".47" stroke-opacity=".47"/><circle cx="246.57" cy="388.48" r="2.24" fill-opacity=".47" stroke-opacity=".47"/><circle cx="242.36" cy="379.89" r="2.24" fill-opacity=".47" stroke-opacity=".47"/><circle cx="243.43" cy="388.95" r="2.24" fill-opacity=".47" stroke-opacity=".47"/><circle cx="248.94" cy="411.52" r="2.24" fill-opacity=".47" stroke-opacity=".47"/><circle cx="245.61" cy="396.53" r="2.24" fill-opacity=".47" stroke-opacity=".47"/><circle cx="244.01" cy="372.34" r="2.24" fill-opacity=".47" stroke-opacity=".47"/><circle cx="259.64" cy="398.48" r="2.24" fill-opacity=".47" stroke-opacity=".47"/><circle cx="247.67" cy="386.83" r="2.24" fill-opacity=".47" stroke-opacity=".47"/><circle cx="232.5" cy="375.45" r="2.24" fill-opacity=".47" stroke-opacity=".47"/><circle cx="241.75" cy="361.68" r="2.24" fill-opacity=".47" stroke-opacity=".47"/><circle cx="225.56" cy="385.5" r="2.24" fill-opacity=".47" stroke-opacity=".47"/><circle cx="260.53" cy="406.78" r="2.24" fill-opacity=".47" stroke-opacity=".47"/><circle cx="242.19" cy="366.53" r="2.24" fill-opacity=".47" stroke-opacity=".47"/><circle cx="239.55" cy="388.77" r="2.24" fill-opacity=".47" stroke-opacity=".47"/><circle cx="232.35" cy="388.69" r="2.24" fill-opacity=".47" stroke-opacity=".47"/><circle cx="243.48" cy="379.35" r="2.24" fill-opacity=".47" stroke-opacity=".47"/><circle cx="249.77" cy="382.28" r="2.24" fill-opacity=".48" stroke-opacity=".48"/><circle cx="220.75" cy="398.89" r="2.24" fill-opacity=".48" stroke-opacity=".48"/><circle cx="223.16" cy="399.92" r="2.24" fill-opacity=".48" stroke-opacity=".48"/><circle cx="237.66" cy="387.76" r="2.24" fill-opacity=".48" stroke-opacity=".48"/><circle cx="245.86" cy="374.02" r="2.24" fill-opacity=".48" stroke-opacity=".48"/><circle cx="235.24" cy="418.1" r="2.24" fill-opacity=".48" stroke-opacity=".48"/><circle cx="254.71" cy="408.8" r="2.24" fill-opacity=".48" stroke-opacity=".48"/><circle cx="241.83" cy="385.38" r="2.24" fill-opacity=".48" stroke-opacity=".48"/><circle cx="232.79" cy="388.73" r="2.24" fill-opacity=".48" stroke-opacity=".48"/><circle cx="232.75" cy="376.91" r="2.24" fill-opacity=".48" stroke-opacity=".48"/><circle cx="236.56" cy="389.13" r="2.24" fill-opacity=".48" stroke-opacity=".48"/><circle cx="237.43" cy="367.42" r="2.24" fill-opacity=".48" stroke-opacity=".48"/><circle cx="243.59" cy="387.43" r="2.24" fill-opacity=".48" stroke-opacity=".48"/><circle cx="237.01" cy="407.66" r="2.24" fill-opacity=".48" stroke-opacity=".48"/><circle cx="238.97" cy="367.58" r="2.24" fill-opacity=".48" stroke-opacity=".48"/><circle cx="236.34" cy="381.03" r="2.24" fill-opacity=".48" stroke-opacity=".48"/><circle cx="234.4" cy="365.94" r="2.24" fill-opacity=".48" stroke-opacity=".48"/><circle cx="235.24" cy="383.01" r="2.24" fill-opacity=".48" stroke-opacity=".48"/><circle cx="259.95" cy="420.66" r="2.24" fill-opacity=".48" stroke-opacity=".48"/><circle cx="235.83" cy="369.64" r="2.24" fill-opacity=".48" stroke-opacity=".48"/><circle cx="243.98" cy="386.71" r="2.24" fill-opacity=".48" stroke-opacity=".48"/><circle cx="243.04" cy="359.49" r="2.24" fill-opacity=".48" stroke-opacity=".48"/><circle cx="240.51" cy="363.08" r="2.24" fill-opacity=".48" stroke-opacity=".48"/><circle cx="240.29" cy="362.86" r="2.24" fill-opacity=".48" stroke-opacity=".48"/><circle cx="233.09" cy="382.82" r="2.24" fill-opacity=".48" stroke-opacity=".48"/><circle cx="241.23" cy="386.76" r="2.24" fill-opacity=".48" stroke-opacity=".48"/><circle cx="249.81" cy="386.94" r="2.24" fill-opacity=".48" stroke-opacity=".48"/><circle cx="248.46" cy="398.38" r="2.24" fill-opacity=".48" stroke-opacity=".48"/><circle cx="251.61" cy="420.64" r="2.24" fill-opacity=".49" stroke-opacity=".49"/><circle cx="237.58" cy="403.06" r="2.24" fill-opacity=".49" stroke-opacity=".49"/><circle cx="236.73" cy="398.13" r="2.24" fill-opacity=".49" stroke-opacity=".49"/><circle cx="238.96" cy="361.32" r="2.24" fill-opacity=".49" stroke-opacity=".49"/><circle cx="241.85" cy="368.4" r="2.24" fill-opacity=".49" stroke-opacity=".49"/><circle cx="242.92" cy="383.06" r="2.24" fill-opacity=".49" stroke-opacity=".49"/><circle cx="234.67" cy="368.43" r="2.24" fill-opacity=".49" stroke-opacity=".49"/><circle cx="243.9" cy="367.94" r="2.24" fill-opacity=".49" stroke-opacity=".49"/><circle cx="236.84" cy="378.26" r="2.24" fill-opacity=".49" stroke-opacity=".49"/><circle cx="238.34" cy="383.54" r="2.24" fill-opacity=".49" stroke-opacity=".49"/><circle cx="239.58" cy="390.39" r="2.24" fill-opacity=".49" stroke-opacity=".49"/><circle cx="238.03" cy="386.21" r="2.24" fill-opacity=".49" stroke-opacity=".49"/><circle cx="247.89" cy="375.59" r="2.24" fill-opacity=".49" stroke-opacity=".49"/><circle cx="243.71" cy="374.52" r="2.24" fill-opacity=".49" stroke-opacity=".49"/><circle cx="248.88" cy="409.96" r="2.24" fill-opacity=".49" stroke-opacity=".49"/><circle cx="232.99" cy="369.52" r="2.24" fill-opacity=".49" stroke-opacity=".49"/><circle cx="236.81" cy="358.54" r="2.24" fill-opacity=".49" stroke-opacity=".49"/><circle cx="229.4" cy="402.68" r="2.24" fill-opacity=".49" stroke-opacity=".49"/><circle cx="243.23" cy="391.67" r="2.24" fill-opacity=".49" stroke-opacity=".49"/><circle cx="239.1" cy="378.95" r="2.24" fill-opacity=".49" stroke-opacity=".49"/><circle cx="226.2" cy="390.83" r="2.24" fill-opacity=".49" stroke-opacity=".49"/><circle cx="256.43" cy="418.16" r="2.24" fill-opacity=".49" stroke-opacity=".49"/><circle cx="230.57" cy="396.08" r="2.24" fill-opacity=".49" stroke-opacity=".49"/><circle cx="242.89" cy="372.49" r="2.24" fill-opacity=".49" stroke-opacity=".49"/><circle cx="239.76" cy="359.96" r="2.24" fill-opacity=".49" stroke-opacity=".49"/><circle cx="243.25" cy="372.74" r="2.24" fill-opacity=".49" stroke-opacity=".49"/><circle cx="242.37" cy="368.79" r="2.24" fill-opacity=".49" stroke-opacity=".49"/><circle cx="244.9" cy="377.34" r="2.24" fill-opacity=".49" stroke-opacity=".49"/><circle cx="239.99" cy="360.81" r="2.24" fill-opacity=".49" stroke-opacity=".49"/><circle cx="240.15" cy="388.1" r="2.24" fill-opacity=".49" stroke-opacity=".49"/><circle cx="243.87" cy="359.19" r="2.24" fill-opacity=".49" stroke-opacity=".49"/><circle cx="240.05" cy="389.08" r="2.24" fill-opacity=".49" stroke-opacity=".49"/><circle cx="246.12" cy="380.13" r="2.24" fill-opacity=".49" stroke-opacity=".49"/><circle cx="240.75" cy="369.35" r="2.24" fill-opacity=".49" stroke-opacity=".49"/><circle cx="246.28" cy="377.46" r="2.24" fill-opacity=".49" stroke-opacity=".49"/><circle cx="243.56" cy="381.24" r="2.24" fill-opacity=".49" stroke-opacity=".49"/><circle cx="234.48" cy="386.95" r="2.24" fill-opacity=".49" stroke-opacity=".49"/><circle cx="235.7" cy="370.08" r="2.24" fill-opacity=".49" stroke-opacity=".49"/><circle cx="220.78" cy="412.6" r="2.24" fill-opacity=".50" stroke-opacity=".50"/><circle cx="237.39" cy="374.21" r="2.24" fill-opacity=".50" stroke-opacity=".50"/><circle cx="239.8" cy="371.93" r="2.24" fill-opacity=".50" stroke-opacity=".50"/><circle cx="235.67" cy="369.92" r="2.24" fill-opacity=".50" stroke-opacity=".50"/><circle cx="236.73" cy="366.49" r="2.24" fill-opacity=".50" stroke-opacity=".50"/><circle cx="238.12" cy="387.74" r="2.24" fill-opacity=".50" stroke-opacity=".50"/><circle cx="231.51" cy="403.15" r="2.24" fill-opacity=".50" stroke-opacity=".50"/><circle cx="255.68" cy="392.37" r="2.24" fill-opacity=".50" stroke-opacity=".50"/><circle cx="242.32" cy="374.84" r="2.24" fill-opacity=".50" stroke-opacity=".50"/><circle cx="251.86" cy="397.48" r="2.24" fill-opacity=".50" stroke-opacity=".50"/><circle cx="237.98" cy="378.02" r="2.24" fill-opacity=".50" stroke-opacity=".50"/><circle cx="237.36" cy="381.25" r="2.24" fill-opacity=".50" stroke-opacity=".50"/><circle cx="244.09" cy="354.5" r="2.24" fill-opacity=".50" stroke-opacity=".50"/><circle cx="241.87" cy="396.6" r="2.24" fill-opacity=".50" stroke-opacity=".50"/><circle cx="238.59" cy="385.58" r="2.24" fill-opacity=".50" stroke-opacity=".50"/><circle cx="228.24" cy="399.66" r="2.24" fill-opacity=".50" stroke-opacity=".50"/><circle cx="256.67" cy="393.15" r="2.24" fill-opacity=".50" stroke-opacity=".50"/><circle cx="236.16" cy="373.54" r="2.24" fill-opacity=".50" stroke-opacity=".50"/><circle cx="242.36" cy="358.55" r="2.24" fill-opacity=".50" stroke-opacity=".50"/><circle cx="236.24" cy="390.71" r="2.24" fill-opacity=".50" stroke-opacity=".50"/><circle cx="242.74" cy="356.38" r="2.24" fill-opacity=".50" stroke-opacity=".50"/><circle cx="242.74" cy="383.3" r="2.24" fill-opacity=".50" stroke-opacity=".50"/><circle cx="241.07" cy="414.69" r="2.24" fill-opacity=".50" stroke-opacity=".50"/><circle cx="242.44" cy="359.36" r="2.24" fill-opacity=".50" stroke-opacity=".50"/><circle cx="237.23" cy="359.8" r="2.24" fill-opacity=".50" stroke-opacity=".50"/><circle cx="234.45" cy="359.15" r="2.24" fill-opacity=".50" stroke-opacity=".50"/><circle cx="236.56" cy="355.5" r="2.24" fill-opacity=".50" stroke-opacity=".50"/><circle cx="240.18" cy="365.06" r="2.24" fill-opacity=".50" stroke-opacity=".50"/><circle cx="242.72" cy="385.91" r="2.24" fill-opacity=".50" stroke-opacity=".50"/><circle cx="245.72" cy="377.77" r="2.24" fill-opacity=".50" stroke-opacity=".50"/><circle cx="239.28" cy="411.32" r="2.24" fill-opacity=".50" stroke-opacity=".50"/><circle cx="239.96" cy="384.13" r="2.24" fill-opacity=".50" stroke-opacity=".50"/><circle cx="230.14" cy="418.79" r="2.24" fill-opacity=".51" stroke-opacity=".51"/><circle cx="244.94" cy="361.39" r="2.24" fill-opacity=".51" stroke-opacity=".51"/><circle cx="235.05" cy="380.41" r="2.24" fill-opacity=".51" stroke-opacity=".51"/><circle cx="239.64" cy="406.79" r="2.24" fill-opacity=".51" stroke-opacity=".51"/><circle cx="249.61" cy="375.79" r="2.24" fill-opacity=".51" stroke-opacity=".51"/><circle cx="228.7" cy="395.21" r="2.24" fill-opacity=".51" stroke-opacity=".51"/><circle cx="244.48" cy="355.14" r="2.24" fill-opacity=".51" stroke-opacity=".51"/><circle cx="231.96" cy="392.67" r="2.24" fill-opacity=".51" stroke-opacity=".51"/><circle cx="245.3" cy="412.21" r="2.24" fill-opacity=".51" stroke-opacity=".51"/><circle cx="235.68" cy="364.92" r="2.24" fill-opacity=".51" stroke-opacity=".51"/><circle cx="242.35" cy="353.3" r="2.24" fill-opacity=".51" stroke-opacity=".51"/><circle cx="245.27" cy="407.15" r="2.24" fill-opacity=".51" stroke-opacity=".51"/><circle cx="238.41" cy="353.16" r="2.24" fill-opacity=".51" stroke-opacity=".51"/><circle cx="243.52" cy="359.19" r="2.24" fill-opacity=".51" stroke-opacity=".51"/><circle cx="227.23" cy="396.45" r="2.24" fill-opacity=".51" stroke-opacity=".51"/><circle cx="246.74" cy="380.37" r="2.24" fill-opacity=".51" stroke-opacity=".51"/><circle cx="247.35" cy="357.87" r="2.24" fill-opacity=".51" stroke-opacity=".51"/><circle cx="247.35" cy="362.64" r="2.24" fill-opacity=".51" stroke-opacity=".51"/><circle cx="242.37" cy="358.46" r="2.24" fill-opacity=".51" stroke-opacity=".51"/><circle cx="244.58" cy="383.26" r="2.24" fill-opacity=".51" stroke-opacity=".51"/><circle cx="237.5" cy="382.23" r="2.24" fill-opacity=".51" stroke-opacity=".51"/><circle cx="237.36" cy="353.59" r="2.24" fill-opacity=".51" stroke-opacity=".51"/><circle cx="247.21" cy="362.4" r="2.24" fill-opacity=".51" stroke-opacity=".51"/><circle cx="244.95" cy="370.14" r="2.24" fill-opacity=".51" stroke-opacity=".51"/><circle cx="245.45" cy="358.72" r="2.24" fill-opacity=".51" stroke-opacity=".51"/><circle cx="246.65" cy="399.7" r="2.24" fill-opacity=".51" stroke-opacity=".51"/><circle cx="233.57" cy="369.34" r="2.24" fill-opacity=".51" stroke-opacity=".51"/><circle cx="237.47" cy="366.96" r="2.24" fill-opacity=".51" stroke-opacity=".51"/><circle cx="238.35" cy="361.7" r="2.24" fill-opacity=".51" stroke-opacity=".51"/><circle cx="242.91" cy="363.19" r="2.24" fill-opacity=".51" stroke-opacity=".51"/><circle cx="247.41" cy="405.31" r="2.24" fill-opacity=".51" stroke-opacity=".51"/><circle cx="233.72" cy="363.44" r="2.24" fill-opacity=".52" stroke-opacity=".52"/><circle cx="233.69" cy="373.44" r="2.24" fill-opacity=".52" stroke-opacity=".52"/><circle cx="236.86" cy="380.42" r="2.24" fill-opacity=".52" stroke-opacity=".52"/><circle cx="238.92" cy="361.35" r="2.24" fill-opacity=".52" stroke-opacity=".52"/><circle cx="245.1" cy="364.33" r="2.24" fill-opacity=".52" stroke-opacity=".52"/><circle cx="240.27" cy="349.97" r="2.24" fill-opacity=".52" stroke-opacity=".52"/><circle cx="240.2" cy="356.57" r="2.24" fill-opacity=".52" stroke-opacity=".52"/><circle cx="242.69" cy="377.36" r="2.24" fill-opacity=".52" stroke-opacity=".52"/><circle cx="250.47" cy="414.91" r="2.24" fill-opacity=".52" stroke-opacity=".52"/><circle cx="243.87" cy="381.72" r="2.24" fill-opacity=".52" stroke-opacity=".52"/><circle cx="250.7" cy="400.05" r="2.24" fill-opacity=".52" stroke-opacity=".52"/><circle cx="237.76" cy="362.14" r="2.24" fill-opacity=".52" stroke-opacity=".52"/><circle cx="233.24" cy="406.85" r="2.24" fill-opacity=".52" stroke-opacity=".52"/><circle cx="243.47" cy="355.12" r="2.24" fill-opacity=".52" stroke-opacity=".52"/><circle cx="246.69" cy="372.04" r="2.24" fill-opacity=".52" stroke-opacity=".52"/><circle cx="238.13" cy="379.56" r="2.24" fill-opacity=".52" stroke-opacity=".52"/><circle cx="238.06" cy="378.54" r="2.24" fill-opacity=".52" stroke-opacity=".52"/><circle cx="239.55" cy="375.72" r="2.24" fill-opacity=".52" stroke-opacity=".52"/><circle cx="240.23" cy="353.51" r="2.24" fill-opacity=".52" stroke-opacity=".52"/><circle cx="249.57" cy="364.73" r="2.24" fill-opacity=".52" stroke-opacity=".52"/><circle cx="245.37" cy="351.01" r="2.24" fill-opacity=".52" stroke-opacity=".52"/><circle cx="245.27" cy="361.58" r="2.24" fill-opacity=".52" stroke-opacity=".52"/><circle cx="241.35" cy="354" r="2.24" fill-opacity=".52" stroke-opacity=".52"/><circle cx="238.52" cy="369.22" r="2.24" fill-opacity=".52" stroke-opacity=".52"/><circle cx="246.44" cy="357.48" r="2.24" fill-opacity=".52" stroke-opacity=".52"/><circle cx="237.81" cy="353.99" r="2.24" fill-opacity=".52" stroke-opacity=".52"/><circle cx="239.61" cy="348.13" r="2.24" fill-opacity=".52" stroke-opacity=".52"/><circle cx="240.06" cy="371.46" r="2.24" fill-opacity=".52" stroke-opacity=".52"/><circle cx="246.49" cy="351.8" r="2.24" fill-opacity=".52" stroke-opacity=".52"/><circle cx="237.05" cy="376.56" r="2.24" fill-opacity=".52" stroke-opacity=".52"/><circle cx="245.87" cy="363.6" r="2.24" fill-opacity=".52" stroke-opacity=".52"/><circle cx="242.13" cy="362.95" r="2.24" fill-opacity=".53" stroke-opacity=".53"/><circle cx="243.79" cy="348.96" r="2.24" fill-opacity=".53" stroke-opacity=".53"/><circle cx="244.92" cy="369.21" r="2.24" fill-opacity=".53" stroke-opacity=".53"/><circle cx="240.85" cy="351.41" r="2.24" fill-opacity=".53" stroke-opacity=".53"/><circle cx="241.1" cy="411.18" r="2.24" fill-opacity=".53" stroke-opacity=".53"/><circle cx="247.38" cy="363.98" r="2.24" fill-opacity=".53" stroke-opacity=".53"/><circle cx="242.96" cy="354.89" r="2.24" fill-opacity=".53" stroke-opacity=".53"/><circle cx="234.58" cy="367.82" r="2.24" fill-opacity=".53" stroke-opacity=".53"/><circle cx="246.67" cy="350.54" r="2.24" fill-opacity=".53" stroke-opacity=".53"/><circle cx="234.97" cy="356.67" r="2.24" fill-opacity=".53" stroke-opacity=".53"/><circle cx="244.42" cy="409.6" r="2.24" fill-opacity=".53" stroke-opacity=".53"/><circle cx="238.12" cy="356.11" r="2.24" fill-opacity=".53" stroke-opacity=".53"/><circle cx="241.64" cy="354.79" r="2.24" fill-opacity=".53" stroke-opacity=".53"/><circle cx="238.63" cy="345.16" r="2.24" fill-opacity=".53" stroke-opacity=".53"/><circle cx="238.62" cy="374.47" r="2.24" fill-opacity=".53" stroke-opacity=".53"/><circle cx="237.94" cy="370.94" r="2.24" fill-opacity=".53" stroke-opacity=".53"/><circle cx="239.34" cy="365.85" r="2.24" fill-opacity=".53" stroke-opacity=".53"/><circle cx="244.52" cy="359.03" r="2.24" fill-opacity=".53" stroke-opacity=".53"/><circle cx="237.47" cy="370.7" r="2.24" fill-opacity=".53" stroke-opacity=".53"/><circle cx="239.19" cy="365.55" r="2.24" fill-opacity=".53" stroke-opacity=".53"/><circle cx="236.89" cy="352.81" r="2.24" fill-opacity=".53" stroke-opacity=".53"/><circle cx="235.48" cy="361.36" r="2.24" fill-opacity=".54" stroke-opacity=".54"/><circle cx="235.92" cy="369.29" r="2.24" fill-opacity=".54" stroke-opacity=".54"/><circle cx="240.37" cy="370.57" r="2.24" fill-opacity=".54" stroke-opacity=".54"/><circle cx="236.35" cy="368.61" r="2.24" fill-opacity=".54" stroke-opacity=".54"/><circle cx="237.79" cy="350.34" r="2.24" fill-opacity=".54" stroke-opacity=".54"/><circle cx="244.35" cy="344.45" r="2.24" fill-opacity=".54" stroke-opacity=".54"/><circle cx="237.63" cy="350.53" r="2.24" fill-opacity=".54" stroke-opacity=".54"/><circle cx="243.76" cy="363.33" r="2.24" fill-opacity=".54" stroke-opacity=".54"/><circle cx="243.06" cy="348.73" r="2.24" fill-opacity=".54" stroke-opacity=".54"/><circle cx="245.9" cy="353.8" r="2.24" fill-opacity=".54" stroke-opacity=".54"/><circle cx="238.43" cy="349.11" r="2.24" fill-opacity=".54" stroke-opacity=".54"/><circle cx="243.53" cy="365.07" r="2.24" fill-opacity=".54" stroke-opacity=".54"/><circle cx="239.14" cy="350.68" r="2.24" fill-opacity=".54" stroke-opacity=".54"/><circle cx="237.04" cy="349.29" r="2.24" fill-opacity=".54" stroke-opacity=".54"/><circle cx="240.82" cy="351.35" r="2.24" fill-opacity=".54" stroke-opacity=".54"/><circle cx="238.31" cy="363.34" r="2.24" fill-opacity=".54" stroke-opacity=".54"/><circle cx="238.69" cy="364.63" r="2.24" fill-opacity=".54" stroke-opacity=".54"/><circle cx="245.82" cy="346.49" r="2.24" fill-opacity=".54" stroke-opacity=".54"/><circle cx="242.62" cy="355.11" r="2.24" fill-opacity=".54" stroke-opacity=".54"/><circle cx="245.37" cy="346.15" r="2.24" fill-opacity=".55" stroke-opacity=".55"/><circle cx="244.55" cy="356.83" r="2.24" fill-opacity=".55" stroke-opacity=".55"/><circle cx="242.21" cy="355.46" r="2.24" fill-opacity=".55" stroke-opacity=".55"/><circle cx="237.56" cy="349.18" r="2.24" fill-opacity=".55" stroke-opacity=".55"/><circle cx="240.67" cy="357.61" r="2.24" fill-opacity=".55" stroke-opacity=".55"/><circle cx="237.26" cy="358.3" r="2.24" fill-opacity=".55" stroke-opacity=".55"/><circle cx="242.72" cy="360.08" r="2.24" fill-opacity=".55" stroke-opacity=".55"/><circle cx="242.34" cy="350.4" r="2.24" fill-opacity=".55" stroke-opacity=".55"/><circle cx="241.81" cy="361.17" r="2.24" fill-opacity=".55" stroke-opacity=".55"/><circle cx="241.19" cy="361.93" r="2.24" fill-opacity=".55" stroke-opacity=".55"/><circle cx="237.43" cy="362.59" r="2.24" fill-opacity=".55" stroke-opacity=".55"/><circle cx="245.22" cy="348.55" r="2.24" fill-opacity=".55" stroke-opacity=".55"/><circle cx="242.25" cy="341.14" r="2.24" fill-opacity=".55" stroke-opacity=".55"/><circle cx="240.05" cy="350.87" r="2.24" fill-opacity=".55" stroke-opacity=".55"/><circle cx="241.42" cy="343.51" r="2.24" fill-opacity=".55" stroke-opacity=".55"/><circle cx="245.42" cy="341.4" r="2.24" fill-opacity=".55" stroke-opacity=".55"/><circle cx="243.79" cy="346.47" r="2.24" fill-opacity=".55" stroke-opacity=".55"/><circle cx="239.54" cy="358.65" r="2.24" fill-opacity=".55" stroke-opacity=".55"/><circle cx="244" cy="362.61" r="2.24" fill-opacity=".55" stroke-opacity=".55"/><circle cx="239.75" cy="349.3" r="2.24" fill-opacity=".55" stroke-opacity=".55"/><circle cx="243.79" cy="359.55" r="2.24" fill-opacity=".55" stroke-opacity=".55"/><circle cx="240.53" cy="361.1" r="2.24" fill-opacity=".55" stroke-opacity=".55"/><circle cx="240.92" cy="353.24" r="2.24" fill-opacity=".55" stroke-opacity=".55"/><circle cx="246.72" cy="346.42" r="2.24" fill-opacity=".56" stroke-opacity=".56"/><circle cx="237.49" cy="356.87" r="2.24" fill-opacity=".56" stroke-opacity=".56"/><circle cx="239.55" cy="352.24" r="2.24" fill-opacity=".56" stroke-opacity=".56"/><circle cx="239.41" cy="342.84" r="2.24" fill-opacity=".56" stroke-opacity=".56"/><circle cx="246.28" cy="352.67" r="2.24" fill-opacity=".56" stroke-opacity=".56"/><circle cx="238.21" cy="348.24" r="2.24" fill-opacity=".56" stroke-opacity=".56"/><circle cx="243" cy="359.18" r="2.24" fill-opacity=".56" stroke-opacity=".56"/><circle cx="238.67" cy="345.59" r="2.24" fill-opacity=".56" stroke-opacity=".56"/><circle cx="244.39" cy="342.59" r="2.24" fill-opacity=".56" stroke-opacity=".56"/><circle cx="244.85" cy="350.76" r="2.24" fill-opacity=".56" stroke-opacity=".56"/><circle cx="239.91" cy="340.68" r="2.24" fill-opacity=".56" stroke-opacity=".56"/><circle cx="236.38" cy="344.05" r="2.24" fill-opacity=".56" stroke-opacity=".56"/><circle cx="244.86" cy="357.44" r="2.24" fill-opacity=".56" stroke-opacity=".56"/><circle cx="242.37" cy="338.6" r="2.24" fill-opacity=".56" stroke-opacity=".56"/><circle cx="240.94" cy="356.98" r="2.24" fill-opacity=".56" stroke-opacity=".56"/><circle cx="240.35" cy="341.76" r="2.24" fill-opacity=".56" stroke-opacity=".56"/><circle cx="242.65" cy="358.06" r="2.24" fill-opacity=".56" stroke-opacity=".56"/><circle cx="238.13" cy="337.98" r="2.24" fill-opacity=".56" stroke-opacity=".56"/><circle cx="236.34" cy="351.22" r="2.24" fill-opacity=".56" stroke-opacity=".56"/><circle cx="244.84" cy="338.3" r="2.24" fill-opacity=".56" stroke-opacity=".56"/><circle cx="244.33" cy="344.93" r="2.24" fill-opacity=".56" stroke-opacity=".56"/><circle cx="242.81" cy="344.2" r="2.24" fill-opacity=".56" stroke-opacity=".56"/><circle cx="241.84" cy="340.61" r="2.24" fill-opacity=".56" stroke-opacity=".56"/><circle cx="239.68" cy="342.17" r="2.24" fill-opacity=".56" stroke-opacity=".56"/><circle cx="243.46" cy="356.22" r="2.24" fill-opacity=".56" stroke-opacity=".56"/><circle cx="238.81" cy="336.52" r="2.24" fill-opacity=".56" stroke-opacity=".56"/><circle cx="246.5" cy="346.18" r="2.24" fill-opacity=".57" stroke-opacity=".57"/><circle cx="238.44" cy="352.8" r="2.24" fill-opacity=".57" stroke-opacity=".57"/><circle cx="242.03" cy="341.8" r="2.24" fill-opacity=".57" stroke-opacity=".57"/><circle cx="244.59" cy="337.13" r="2.24" fill-opacity=".57" stroke-opacity=".57"/><circle cx="239.97" cy="339.36" r="2.24" fill-opacity=".57" stroke-opacity=".57"/><circle cx="240.36" cy="337.41" r="2.24" fill-opacity=".57" stroke-opacity=".57"/><circle cx="239.7" cy="355.39" r="2.24" fill-opacity=".57" stroke-opacity=".57"/><circle cx="242.46" cy="353.67" r="2.24" fill-opacity=".57" stroke-opacity=".57"/><circle cx="245.43" cy="344.2" r="2.24" fill-opacity=".57" stroke-opacity=".57"/><circle cx="239.01" cy="346.92" r="2.24" fill-opacity=".57" stroke-opacity=".57"/><circle cx="240.71" cy="345.37" r="2.24" fill-opacity=".57" stroke-opacity=".57"/><circle cx="241.15" cy="333.68" r="2.24" fill-opacity=".57" stroke-opacity=".57"/><circle cx="240.3" cy="332.73" r="2.24" fill-opacity=".57" stroke-opacity=".57"/><circle cx="245.42" cy="348.5" r="2.24" fill-opacity=".57" stroke-opacity=".57"/><circle cx="237.72" cy="342.61" r="2.24" fill-opacity=".57" stroke-opacity=".57"/><circle cx="243.11" cy="336.69" r="2.24" fill-opacity=".57" stroke-opacity=".57"/><circle cx="243.01" cy="338.84" r="2.24" fill-opacity=".57" stroke-opacity=".57"/><circle cx="242" cy="346.74" r="2.24" fill-opacity=".57" stroke-opacity=".57"/><circle cx="238.62" cy="351.15" r="2.24" fill-opacity=".57" stroke-opacity=".57"/><circle cx="238.99" cy="336.27" r="2.24" fill-opacity=".57" stroke-opacity=".57"/><circle cx="239.6" cy="342.6" r="2.24" fill-opacity=".58" stroke-opacity=".58"/><circle cx="240.51" cy="339.65" r="2.24" fill-opacity=".58" stroke-opacity=".58"/><circle cx="242.28" cy="342.36" r="2.24" fill-opacity=".58" stroke-opacity=".58"/><circle cx="242.24" cy="331.15" r="2.24" fill-opacity=".58" stroke-opacity=".58"/><circle cx="244.69" cy="335.83" r="2.24" fill-opacity=".58" stroke-opacity=".58"/><circle cx="238.19" cy="333.36" r="2.24" fill-opacity=".58" stroke-opacity=".58"/><circle cx="243.38" cy="333.19" r="2.24" fill-opacity=".58" stroke-opacity=".58"/><circle cx="240.34" cy="343.04" r="2.24" fill-opacity=".58" stroke-opacity=".58"/><circle cx="240.84" cy="332.87" r="2.24" fill-opacity=".58" stroke-opacity=".58"/><circle cx="242.44" cy="347.94" r="2.24" fill-opacity=".58" stroke-opacity=".58"/><circle cx="241.1" cy="337.81" r="2.24" fill-opacity=".58" stroke-opacity=".58"/><circle cx="243.09" cy="330.59" r="2.24" fill-opacity=".58" stroke-opacity=".58"/><circle cx="240.49" cy="334.5" r="2.24" fill-opacity=".58" stroke-opacity=".58"/><circle cx="240.31" cy="339.79" r="2.24" fill-opacity=".58" stroke-opacity=".58"/><circle cx="237.91" cy="338.43" r="2.24" fill-opacity=".58" stroke-opacity=".58"/><circle cx="237.99" cy="332.48" r="2.24" fill-opacity=".58" stroke-opacity=".58"/><circle cx="239.68" cy="330.01" r="2.24" fill-opacity=".58" stroke-opacity=".58"/><circle cx="240.92" cy="342.06" r="2.24" fill-opacity=".59" stroke-opacity=".59"/><circle cx="240.52" cy="334.64" r="2.24" fill-opacity=".59" stroke-opacity=".59"/><circle cx="237.37" cy="338.34" r="2.24" fill-opacity=".59" stroke-opacity=".59"/><circle cx="244.64" cy="332.71" r="2.24" fill-opacity=".59" stroke-opacity=".59"/><circle cx="238.91" cy="331.45" r="2.24" fill-opacity=".59" stroke-opacity=".59"/><circle cx="242.92" cy="332.37" r="2.24" fill-opacity=".59" stroke-opacity=".59"/><circle cx="244.11" cy="335.59" r="2.24" fill-opacity=".59" stroke-opacity=".59"/><circle cx="240.14" cy="335.56" r="2.24" fill-opacity=".59" stroke-opacity=".59"/><circle cx="243.33" cy="328.09" r="2.24" fill-opacity=".59" stroke-opacity=".59"/><circle cx="243.13" cy="338.01" r="2.24" fill-opacity=".59" stroke-opacity=".59"/><circle cx="238.09" cy="332.22" r="2.24" fill-opacity=".59" stroke-opacity=".59"/><circle cx="242.18" cy="338.41" r="2.24" fill-opacity=".59" stroke-opacity=".59"/><circle cx="239.99" cy="330.25" r="2.24" fill-opacity=".59" stroke-opacity=".59"/><circle cx="241.67" cy="342.08" r="2.24" fill-opacity=".59" stroke-opacity=".59"/><circle cx="239.26" cy="340.49" r="2.24" fill-opacity=".59" stroke-opacity=".59"/><circle cx="244.14" cy="337.42" r="2.24" fill-opacity=".59" stroke-opacity=".59"/><circle cx="243.85" cy="336.2" r="2.24" fill-opacity=".59" stroke-opacity=".59"/><circle cx="242.21" cy="341.22" r="2.24" fill-opacity=".59" stroke-opacity=".59"/><circle cx="241.62" cy="327.88" r="2.24" fill-opacity=".59" stroke-opacity=".59"/><circle cx="242.11" cy="333.25" r="2.24" fill-opacity=".59" stroke-opacity=".59"/><circle cx="242.15" cy="335.38" r="2.24" fill-opacity=".59" stroke-opacity=".59"/><circle cx="241.44" cy="326.85" r="2.24" fill-opacity=".59" stroke-opacity=".59"/><circle cx="241.24" cy="334.41" r="2.24" fill-opacity=".59" stroke-opacity=".59"/><circle cx="243.07" cy="337.53" r="2.24" fill-opacity=".59" stroke-opacity=".59"/><circle cx="240.75" cy="327.97" r="2.24" fill-opacity=".59" stroke-opacity=".59"/><circle cx="243.02" cy="330.3" r="2.24" fill-opacity=".60" stroke-opacity=".60"/><circle cx="240.52" cy="328.81" r="2.24" fill-opacity=".60" stroke-opacity=".60"/><circle cx="241.58" cy="326.32" r="2.24" fill-opacity=".60" stroke-opacity=".60"/><circle cx="242.72" cy="329.71" r="2.24" fill-opacity=".60" stroke-opacity=".60"/><circle cx="241.75" cy="325.83" r="2.24" fill-opacity=".60" stroke-opacity=".60"/><circle cx="241.01" cy="332.06" r="2.24" fill-opacity=".60" stroke-opacity=".60"/><circle cx="240.46" cy="324.82" r="2.24" fill-opacity=".60" stroke-opacity=".60"/><circle cx="243.02" cy="325.79" r="2.24" fill-opacity=".60" stroke-opacity=".60"/><circle cx="243.07" cy="328.58" r="2.24" fill-opacity=".60" stroke-opacity=".60"/><circle cx="242.94" cy="334.53" r="2.24" fill-opacity=".60" stroke-opacity=".60"/><circle cx="239.73" cy="335.23" r="2.24" fill-opacity=".60" stroke-opacity=".60"/><circle cx="239.8" cy="324.16" r="2.24" fill-opacity=".60" stroke-opacity=".60"/><circle cx="242.4" cy="323.56" r="2.24" fill-opacity=".60" stroke-opacity=".60"/><circle cx="242.18" cy="332.36" r="2.24" fill-opacity=".60" stroke-opacity=".60"/><circle cx="244.05" cy="330.62" r="2.24" fill-opacity=".60" stroke-opacity=".60"/><circle cx="238.51" cy="328.34" r="2.24" fill-opacity=".60" stroke-opacity=".60"/><circle cx="242.96" cy="331.49" r="2.24" fill-opacity=".60" stroke-opacity=".60"/><circle cx="239.9" cy="328.52" r="2.24" fill-opacity=".60" stroke-opacity=".60"/><circle cx="240.53" cy="331.13" r="2.24" fill-opacity=".60" stroke-opacity=".60"/><circle cx="242.37" cy="323.72" r="2.24" fill-opacity=".60" stroke-opacity=".60"/><circle cx="243.76" cy="327.6" r="2.24" fill-opacity=".60" stroke-opacity=".60"/><circle cx="241.32" cy="324.12" r="2.24" fill-opacity=".60" stroke-opacity=".60"/><circle cx="242.47" cy="330.4" r="2.24" fill-opacity=".60" stroke-opacity=".60"/><circle cx="241.79" cy="329.92" r="2.24" fill-opacity=".60" stroke-opacity=".60"/><circle cx="239.97" cy="328.82" r="2.24" fill-opacity=".61" stroke-opacity=".61"/><circle cx="239.22" cy="324.84" r="2.24" fill-opacity=".61" stroke-opacity=".61"/><circle cx="239.63" cy="323.92" r="2.24" fill-opacity=".61" stroke-opacity=".61"/><circle cx="239.29" cy="324.68" r="2.24" fill-opacity=".61" stroke-opacity=".61"/><circle cx="239.84" cy="327.59" r="2.24" fill-opacity=".61" stroke-opacity=".61"/><circle cx="241.25" cy="324.52" r="2.24" fill-opacity=".61" stroke-opacity=".61"/><circle cx="240.73" cy="330.59" r="2.24" fill-opacity=".61" stroke-opacity=".61"/><circle cx="239.97" cy="327.93" r="2.24" fill-opacity=".61" stroke-opacity=".61"/><circle cx="242.86" cy="325.87" r="2.24" fill-opacity=".61" stroke-opacity=".61"/><circle cx="240.82" cy="328.4" r="2.24" fill-opacity=".61" stroke-opacity=".61"/><circle cx="239.7" cy="322.54" r="2.24" fill-opacity=".61" stroke-opacity=".61"/><circle cx="240.73" cy="322.26" r="2.24" fill-opacity=".61" stroke-opacity=".61"/><circle cx="242.55" cy="322.55" r="2.24" fill-opacity=".61" stroke-opacity=".61"/><circle cx="241.98" cy="323.19" r="2.24" fill-opacity=".61" stroke-opacity=".61"/><circle cx="243.49" cy="324.27" r="2.24" fill-opacity=".61" stroke-opacity=".61"/><circle cx="240.86" cy="323.11" r="2.24" fill-opacity=".61" stroke-opacity=".61"/><circle cx="240.76" cy="323.52" r="2.24" fill-opacity=".61" stroke-opacity=".61"/><circle cx="239.34" cy="322.59" r="2.24" fill-opacity=".61" stroke-opacity=".61"/><circle cx="241.17" cy="328.28" r="2.24" fill-opacity=".61" stroke-opacity=".61"/><circle cx="242.05" cy="329.54" r="2.24" fill-opacity=".61" stroke-opacity=".61"/><circle cx="239.91" cy="323.52" r="2.24" fill-opacity=".61" stroke-opacity=".61"/><circle cx="243.01" cy="323.82" r="2.24" fill-opacity=".61" stroke-opacity=".61"/><circle cx="241.41" cy="327.48" r="2.24" fill-opacity=".62" stroke-opacity=".62"/><circle cx="241.29" cy="325.03" r="2.24" fill-opacity=".62" stroke-opacity=".62"/><circle cx="240.08" cy="325.82" r="2.24" fill-opacity=".62" stroke-opacity=".62"/><circle cx="241.34" cy="324.7" r="2.24" fill-opacity=".62" stroke-opacity=".62"/><circle cx="241.58" cy="324.75" r="2.24" fill-opacity=".62" stroke-opacity=".62"/><circle cx="240.06" cy="325.33" r="2.24" fill-opacity=".62" stroke-opacity=".62"/><circle cx="240.81" cy="322.06" r="2.24" fill-opacity=".62" stroke-opacity=".62"/><circle cx="240.36" cy="323.81" r="2.24" fill-opacity=".62" stroke-opacity=".62"/><circle cx="241.57" cy="318.8" r="2.24" fill-opacity=".62" stroke-opacity=".62"/><circle cx="240.56" cy="325.4" r="2.24" fill-opacity=".62" stroke-opacity=".62"/><circle cx="242.1" cy="322.86" r="2.24" fill-opacity=".62" stroke-opacity=".62"/><circle cx="240.85" cy="319.84" r="2.24" fill-opacity=".62" stroke-opacity=".62"/><circle cx="242.38" cy="322.94" r="2.24" fill-opacity=".62" stroke-opacity=".62"/><circle cx="241.26" cy="324.4" r="2.24" fill-opacity=".62" stroke-opacity=".62"/><circle cx="242.32" cy="320.34" r="2.24" fill-opacity=".62" stroke-opacity=".62"/><circle cx="241.22" cy="319.48" r="2.24" fill-opacity=".62" stroke-opacity=".62"/><circle cx="241.07" cy="322.72" r="2.24" fill-opacity=".62" stroke-opacity=".62"/><circle cx="241.11" cy="317.74" r="2.24" fill-opacity=".62" stroke-opacity=".62"/><circle cx="241.65" cy="316.76" r="2.24" fill-opacity=".62" stroke-opacity=".62"/><circle cx="242.7" cy="321.38" r="2.24" fill-opacity=".62" stroke-opacity=".62"/><circle cx="240.78" cy="317.47" r="2.24" fill-opacity=".63" stroke-opacity=".63"/><circle cx="240.78" cy="319.1" r="2.24" fill-opacity=".63" stroke-opacity=".63"/><circle cx="241" cy="318.04" r="2.24" fill-opacity=".63" stroke-opacity=".63"/><circle cx="240.85" cy="317.42" r="2.24" fill-opacity=".63" stroke-opacity=".63"/><circle cx="240.46" cy="318.77" r="2.24" fill-opacity=".63" stroke-opacity=".63"/><circle cx="241.66" cy="316.2" r="2.24" fill-opacity=".63" stroke-opacity=".63"/><circle cx="242" cy="317.3" r="2.24" fill-opacity=".63" stroke-opacity=".63"/><circle cx="241.67" cy="317.06" r="2.24" fill-opacity=".63" stroke-opacity=".63"/><circle cx="241.74" cy="316.2" r="2.24" fill-opacity=".63" stroke-opacity=".63"/><circle cx="240.4" cy="319.01" r="2.24" fill-opacity=".63" stroke-opacity=".63"/><circle cx="241.6" cy="318.11" r="2.24" fill-opacity=".63" stroke-opacity=".63"/><circle cx="241.33" cy="317.47" r="2.24" fill-opacity=".63" stroke-opacity=".63"/><circle cx="240.7" cy="317.52" r="2.24" fill-opacity=".63" stroke-opacity=".63"/><circle cx="242.13" cy="319.13" r="2.24" fill-opacity=".63" stroke-opacity=".63"/><circle cx="242.04" cy="315.47" r="2.24" fill-opacity=".63" stroke-opacity=".63"/><circle cx="242.26" cy="317.31" r="2.24" fill-opacity=".63" stroke-opacity=".63"/><circle cx="241.43" cy="315.57" r="2.24" fill-opacity=".63" stroke-opacity=".63"/><circle cx="241.82" cy="316.37" r="2.24" fill-opacity=".63" stroke-opacity=".63"/><circle cx="241.63" cy="313.94" r="2.24" fill-opacity=".63" stroke-opacity=".63"/><circle cx="241.68" cy="312.26" r="2.24" fill-opacity=".64" stroke-opacity=".64"/><circle cx="240.7" cy="313.04" r="2.24" fill-opacity=".64" stroke-opacity=".64"/><circle cx="241.99" cy="312.92" r="2.24" fill-opacity=".64" stroke-opacity=".64"/><circle cx="241.99" cy="310.38" r="2.24" fill-opacity=".64" stroke-opacity=".64"/><circle cx="242.08" cy="311.34" r="2.24" fill-opacity=".64" stroke-opacity=".64"/><circle cx="242.17" cy="312.91" r="2.24" fill-opacity=".64" stroke-opacity=".64"/><circle cx="242.09" cy="312.19" r="2.24" fill-opacity=".64" stroke-opacity=".64"/><circle cx="241.46" cy="309.61" r="2.24" fill-opacity=".64" stroke-opacity=".64"/><circle cx="242.48" cy="310.28" r="2.24" fill-opacity=".64" stroke-opacity=".64"/><circle cx="240.2" cy="310.44" r="2.24" fill-opacity=".64" stroke-opacity=".64"/><circle cx="241.88" cy="310.11" r="2.24" fill-opacity=".64" stroke-opacity=".64"/><circle cx="242.18" cy="307.73" r="2.24" fill-opacity=".65" stroke-opacity=".65"/><circle cx="241.59" cy="307.99" r="2.24" fill-opacity=".65" stroke-opacity=".65"/><circle cx="241.71" cy="312.45" r="2.24" fill-opacity=".65" stroke-opacity=".65"/><circle cx="240.7" cy="308.71" r="2.24" fill-opacity=".65" stroke-opacity=".65"/><circle cx="241" cy="308.69" r="2.24" fill-opacity=".65" stroke-opacity=".65"/><circle cx="241.48" cy="309.28" r="2.24" fill-opacity=".65" stroke-opacity=".65"/><circle cx="240.82" cy="307.14" r="2.24" fill-opacity=".65" stroke-opacity=".65"/><circle cx="240.83" cy="305.89" r="2.24" fill-opacity=".65" stroke-opacity=".65"/><circle cx="241.49" cy="305.86" r="2.24" fill-opacity=".65" stroke-opacity=".65"/><circle cx="240.72" cy="306.17" r="2.24" fill-opacity=".65" stroke-opacity=".65"/><circle cx="241.21" cy="304.71" r="2.24" fill-opacity=".65" stroke-opacity=".65"/><circle cx="240.81" cy="307.94" r="2.24" fill-opacity=".65" stroke-opacity=".65"/><circle cx="242.5" cy="308.53" r="2.24" fill-opacity=".65" stroke-opacity=".65"/><circle cx="241.66" cy="302.91" r="2.24" fill-opacity=".65" stroke-opacity=".65"/><circle cx="240.83" cy="306.56" r="2.24" fill-opacity=".65" stroke-opacity=".65"/><circle cx="242.41" cy="304.69" r="2.24" fill-opacity=".65" stroke-opacity=".65"/><circle cx="242.2" cy="307.86" r="2.24" fill-opacity=".65" stroke-opacity=".65"/><circle cx="239.85" cy="306.64" r="2.24" fill-opacity=".65" stroke-opacity=".65"/><circle cx="243.29" cy="305.78" r="2.24" fill-opacity=".65" stroke-opacity=".65"/><circle cx="240.84" cy="305.28" r="2.24" fill-opacity=".65" stroke-opacity=".65"/><circle cx="241.72" cy="301.12" r="2.24" fill-opacity=".66" stroke-opacity=".66"/><circle cx="240.71" cy="301.24" r="2.24" fill-opacity=".66" stroke-opacity=".66"/><circle cx="242.47" cy="303.33" r="2.24" fill-opacity=".66" stroke-opacity=".66"/><circle cx="241.77" cy="300.64" r="2.24" fill-opacity=".66" stroke-opacity=".66"/><circle cx="240.06" cy="300.62" r="2.24" fill-opacity=".66" stroke-opacity=".66"/><circle cx="240.26" cy="301.86" r="2.24" fill-opacity=".66" stroke-opacity=".66"/><circle cx="240.97" cy="300.64" r="2.24" fill-opacity=".66" stroke-opacity=".66"/><circle cx="242.83" cy="300.74" r="2.24" fill-opacity=".66" stroke-opacity=".66"/><circle cx="242.66" cy="304.85" r="2.24" fill-opacity=".66" stroke-opacity=".66"/><circle cx="239.25" cy="302.07" r="2.24" fill-opacity=".66" stroke-opacity=".66"/><circle cx="241.25" cy="306.16" r="2.24" fill-opacity=".66" stroke-opacity=".66"/><circle cx="242.11" cy="302.48" r="2.24" fill-opacity=".66" stroke-opacity=".66"/><circle cx="243.16" cy="302.43" r="2.24" fill-opacity=".66" stroke-opacity=".66"/><circle cx="241.2" cy="307.32" r="2.24" fill-opacity=".66" stroke-opacity=".66"/><circle cx="239.41" cy="300.71" r="2.24" fill-opacity=".66" stroke-opacity=".66"/><circle cx="239.38" cy="304.88" r="2.24" fill-opacity=".66" stroke-opacity=".66"/><circle cx="242.41" cy="306.44" r="2.24" fill-opacity=".66" stroke-opacity=".66"/><circle cx="238.98" cy="300.43" r="2.24" fill-opacity=".67" stroke-opacity=".67"/><circle cx="241.55" cy="301.33" r="2.24" fill-opacity=".67" stroke-opacity=".67"/><circle cx="243.89" cy="300.75" r="2.24" fill-opacity=".67" stroke-opacity=".67"/><circle cx="239.93" cy="305.31" r="2.24" fill-opacity=".67" stroke-opacity=".67"/><circle cx="241.03" cy="293.37" r="2.24" fill-opacity=".67" stroke-opacity=".67"/><circle cx="238.49" cy="299.13" r="2.24" fill-opacity=".67" stroke-opacity=".67"/><circle cx="239.9" cy="295.4" r="2.24" fill-opacity=".67" stroke-opacity=".67"/><circle cx="239.51" cy="303.31" r="2.24" fill-opacity=".67" stroke-opacity=".67"/><circle cx="240.83" cy="299.94" r="2.24" fill-opacity=".67" stroke-opacity=".67"/><circle cx="241.06" cy="303.79" r="2.24" fill-opacity=".67" stroke-opacity=".67"/><circle cx="239.93" cy="292.65" r="2.24" fill-opacity=".67" stroke-opacity=".67"/><circle cx="241.77" cy="301.3" r="2.24" fill-opacity=".67" stroke-opacity=".67"/><circle cx="239.46" cy="294.58" r="2.24" fill-opacity=".67" stroke-opacity=".67"/><circle cx="240.26" cy="298.96" r="2.24" fill-opacity=".67" stroke-opacity=".67"/><circle cx="241.14" cy="292.79" r="2.24" fill-opacity=".67" stroke-opacity=".67"/><circle cx="243.24" cy="302.19" r="2.24" fill-opacity=".67" stroke-opacity=".67"/><circle cx="243.32" cy="292.25" r="2.24" fill-opacity=".67" stroke-opacity=".67"/><circle cx="239.9" cy="303.07" r="2.24" fill-opacity=".67" stroke-opacity=".67"/><circle cx="239.33" cy="301.64" r="2.24" fill-opacity=".67" stroke-opacity=".67"/><circle cx="244.51" cy="295.04" r="2.24" fill-opacity=".67" stroke-opacity=".67"/><circle cx="239.77" cy="292.17" r="2.24" fill-opacity=".67" stroke-opacity=".67"/><circle cx="239.79" cy="294.3" r="2.24" fill-opacity=".67" stroke-opacity=".67"/><circle cx="242.82" cy="299.32" r="2.24" fill-opacity=".67" stroke-opacity=".67"/><circle cx="239.07" cy="301.09" r="2.24" fill-opacity=".67" stroke-opacity=".67"/><circle cx="243.36" cy="302.6" r="2.24" fill-opacity=".68" stroke-opacity=".68"/><circle cx="240.62" cy="292.2" r="2.24" fill-opacity=".68" stroke-opacity=".68"/><circle cx="241.87" cy="297.23" r="2.24" fill-opacity=".68" stroke-opacity=".68"/><circle cx="241.72" cy="302.31" r="2.24" fill-opacity=".68" stroke-opacity=".68"/><circle cx="239.16" cy="300.41" r="2.24" fill-opacity=".68" stroke-opacity=".68"/><circle cx="241.38" cy="297.17" r="2.24" fill-opacity=".68" stroke-opacity=".68"/><circle cx="243.05" cy="295.11" r="2.24" fill-opacity=".68" stroke-opacity=".68"/><circle cx="239.17" cy="293.19" r="2.24" fill-opacity=".68" stroke-opacity=".68"/><circle cx="242.08" cy="299.54" r="2.24" fill-opacity=".68" stroke-opacity=".68"/><circle cx="243.78" cy="293.35" r="2.24" fill-opacity=".68" stroke-opacity=".68"/><circle cx="242.93" cy="287.9" r="2.24" fill-opacity=".68" stroke-opacity=".68"/><circle cx="241.67" cy="296.49" r="2.24" fill-opacity=".68" stroke-opacity=".68"/><circle cx="238.28" cy="297.71" r="2.24" fill-opacity=".68" stroke-opacity=".68"/><circle cx="242.34" cy="293.53" r="2.24" fill-opacity=".68" stroke-opacity=".68"/><circle cx="240.97" cy="290.61" r="2.24" fill-opacity=".68" stroke-opacity=".68"/><circle cx="243.76" cy="289.37" r="2.24" fill-opacity=".68" stroke-opacity=".68"/><circle cx="244.65" cy="292.84" r="2.24" fill-opacity=".68" stroke-opacity=".68"/><circle cx="242.57" cy="299.02" r="2.24" fill-opacity=".68" stroke-opacity=".68"/><circle cx="238.83" cy="297.14" r="2.24" fill-opacity=".68" stroke-opacity=".68"/><circle cx="244.04" cy="289.73" r="2.24" fill-opacity=".69" stroke-opacity=".69"/><circle cx="240.41" cy="286.43" r="2.24" fill-opacity=".69" stroke-opacity=".69"/><circle cx="244.36" cy="292.98" r="2.24" fill-opacity=".69" stroke-opacity=".69"/><circle cx="242.11" cy="282.89" r="2.24" fill-opacity=".69" stroke-opacity=".69"/><circle cx="242.45" cy="288.62" r="2.24" fill-opacity=".69" stroke-opacity=".69"/><circle cx="242.61" cy="282.04" r="2.24" fill-opacity=".69" stroke-opacity=".69"/><circle cx="238.31" cy="294.18" r="2.24" fill-opacity=".69" stroke-opacity=".69"/><circle cx="242.85" cy="298.64" r="2.24" fill-opacity=".69" stroke-opacity=".69"/><circle cx="244.31" cy="286.4" r="2.24" fill-opacity=".69" stroke-opacity=".69"/><circle cx="242.52" cy="294.03" r="2.24" fill-opacity=".69" stroke-opacity=".69"/><circle cx="241.27" cy="282.28" r="2.24" fill-opacity=".69" stroke-opacity=".69"/><circle cx="242.4" cy="290.91" r="2.24" fill-opacity=".69" stroke-opacity=".69"/><circle cx="241.28" cy="290.49" r="2.24" fill-opacity=".69" stroke-opacity=".69"/><circle cx="238.88" cy="293.09" r="2.24" fill-opacity=".69" stroke-opacity=".69"/><circle cx="241.51" cy="297.33" r="2.24" fill-opacity=".69" stroke-opacity=".69"/><circle cx="238.06" cy="295.13" r="2.24" fill-opacity=".69" stroke-opacity=".69"/><circle cx="240.1" cy="292.62" r="2.24" fill-opacity=".69" stroke-opacity=".69"/><circle cx="243.39" cy="289.79" r="2.24" fill-opacity=".69" stroke-opacity=".69"/><circle cx="242.87" cy="294.65" r="2.24" fill-opacity=".69" stroke-opacity=".69"/><circle cx="244.01" cy="296.81" r="2.24" fill-opacity=".69" stroke-opacity=".69"/><circle cx="241.96" cy="293.99" r="2.24" fill-opacity=".69" stroke-opacity=".69"/><circle cx="240.62" cy="282.72" r="2.24" fill-opacity=".69" stroke-opacity=".69"/><circle cx="238.4" cy="289.98" r="2.24" fill-opacity=".69" stroke-opacity=".69"/><circle cx="241.31" cy="292.01" r="2.24" fill-opacity=".69" stroke-opacity=".69"/><circle cx="239.94" cy="294.71" r="2.24" fill-opacity=".70" stroke-opacity=".70"/><circle cx="241.96" cy="291.07" r="2.24" fill-opacity=".70" stroke-opacity=".70"/><circle cx="239.23" cy="287.63" r="2.24" fill-opacity=".70" stroke-opacity=".70"/><circle cx="246.09" cy="285.29" r="2.24" fill-opacity=".70" stroke-opacity=".70"/><circle cx="243" cy="292.45" r="2.24" fill-opacity=".70" stroke-opacity=".70"/><circle cx="243.43" cy="292.54" r="2.24" fill-opacity=".70" stroke-opacity=".70"/><circle cx="242.29" cy="284.7" r="2.24" fill-opacity=".70" stroke-opacity=".70"/><circle cx="243.2" cy="291.82" r="2.24" fill-opacity=".70" stroke-opacity=".70"/><circle cx="241.72" cy="281.8" r="2.24" fill-opacity=".70" stroke-opacity=".70"/><circle cx="242.59" cy="294.61" r="2.24" fill-opacity=".70" stroke-opacity=".70"/><circle cx="240.55" cy="293.27" r="2.24" fill-opacity=".70" stroke-opacity=".70"/><circle cx="241.09" cy="293.94" r="2.24" fill-opacity=".70" stroke-opacity=".70"/><circle cx="245.54" cy="288.74" r="2.24" fill-opacity=".70" stroke-opacity=".70"/><circle cx="239.31" cy="281.68" r="2.24" fill-opacity=".70" stroke-opacity=".70"/><circle cx="239.26" cy="289.48" r="2.24" fill-opacity=".70" stroke-opacity=".70"/><circle cx="240.14" cy="291.09" r="2.24" fill-opacity=".70" stroke-opacity=".70"/><circle cx="242.03" cy="291.22" r="2.24" fill-opacity=".70" stroke-opacity=".70"/><circle cx="239.09" cy="282.56" r="2.24" fill-opacity=".70" stroke-opacity=".70"/><circle cx="241.95" cy="294.51" r="2.24" fill-opacity=".71" stroke-opacity=".71"/><circle cx="243.11" cy="280.83" r="2.24" fill-opacity=".71" stroke-opacity=".71"/><circle cx="237.04" cy="284.66" r="2.24" fill-opacity=".71" stroke-opacity=".71"/><circle cx="236.35" cy="286.29" r="2.24" fill-opacity=".71" stroke-opacity=".71"/><circle cx="244.04" cy="287" r="2.24" fill-opacity=".71" stroke-opacity=".71"/><circle cx="238.19" cy="278.06" r="2.24" fill-opacity=".71" stroke-opacity=".71"/><circle cx="239.09" cy="280.34" r="2.24" fill-opacity=".71" stroke-opacity=".71"/><circle cx="246.26" cy="282.58" r="2.24" fill-opacity=".71" stroke-opacity=".71"/><circle cx="245.31" cy="287.37" r="2.24" fill-opacity=".71" stroke-opacity=".71"/><circle cx="238.79" cy="275.72" r="2.24" fill-opacity=".71" stroke-opacity=".71"/><circle cx="244.51" cy="286.24" r="2.24" fill-opacity=".71" stroke-opacity=".71"/><circle cx="238.61" cy="279.86" r="2.24" fill-opacity=".71" stroke-opacity=".71"/><circle cx="241.79" cy="289.13" r="2.24" fill-opacity=".71" stroke-opacity=".71"/><circle cx="239.23" cy="286.32" r="2.24" fill-opacity=".71" stroke-opacity=".71"/><circle cx="244.32" cy="283.09" r="2.24" fill-opacity=".71" stroke-opacity=".71"/><circle cx="239.49" cy="278.24" r="2.24" fill-opacity=".71" stroke-opacity=".71"/><circle cx="239.35" cy="278.04" r="2.24" fill-opacity=".71" stroke-opacity=".71"/><circle cx="243.88" cy="289.96" r="2.24" fill-opacity=".71" stroke-opacity=".71"/><circle cx="244.09" cy="287.14" r="2.24" fill-opacity=".71" stroke-opacity=".71"/><circle cx="244.22" cy="283.78" r="2.24" fill-opacity=".71" stroke-opacity=".71"/><circle cx="242.62" cy="268.95" r="2.24" fill-opacity=".71" stroke-opacity=".71"/><circle cx="245.8" cy="283.79" r="2.24" fill-opacity=".71" stroke-opacity=".71"/><circle cx="238.12" cy="275.61" r="2.24" fill-opacity=".71" stroke-opacity=".71"/><circle cx="245.74" cy="284.49" r="2.24" fill-opacity=".71" stroke-opacity=".71"/><circle cx="243.47" cy="282.56" r="2.24" fill-opacity=".71" stroke-opacity=".71"/><circle cx="244.74" cy="268.13" r="2.24" fill-opacity=".71" stroke-opacity=".71"/><circle cx="241.01" cy="271.63" r="2.24" fill-opacity=".71" stroke-opacity=".71"/><circle cx="240.3" cy="287.01" r="2.24" fill-opacity=".71" stroke-opacity=".71"/><circle cx="243.46" cy="280.86" r="2.24" fill-opacity=".71" stroke-opacity=".71"/><circle cx="244.67" cy="272.69" r="2.24" fill-opacity=".72" stroke-opacity=".72"/><circle cx="239.44" cy="285.95" r="2.24" fill-opacity=".72" stroke-opacity=".72"/><circle cx="242.91" cy="270.09" r="2.24" fill-opacity=".72" stroke-opacity=".72"/><circle cx="240.94" cy="289.2" r="2.24" fill-opacity=".72" stroke-opacity=".72"/><circle cx="243.08" cy="285.43" r="2.24" fill-opacity=".72" stroke-opacity=".72"/><circle cx="237.94" cy="265.24" r="2.24" fill-opacity=".72" stroke-opacity=".72"/><circle cx="239.98" cy="281.62" r="2.24" fill-opacity=".72" stroke-opacity=".72"/><circle cx="241.67" cy="283.97" r="2.24" fill-opacity=".72" stroke-opacity=".72"/><circle cx="238.34" cy="266.82" r="2.24" fill-opacity=".72" stroke-opacity=".72"/><circle cx="244.89" cy="285.98" r="2.24" fill-opacity=".72" stroke-opacity=".72"/><circle cx="242.34" cy="268.6" r="2.24" fill-opacity=".72" stroke-opacity=".72"/><circle cx="244.88" cy="278.8" r="2.24" fill-opacity=".72" stroke-opacity=".72"/><circle cx="238.23" cy="279.64" r="2.24" fill-opacity=".72" stroke-opacity=".72"/><circle cx="244.44" cy="265.47" r="2.24" fill-opacity=".72" stroke-opacity=".72"/><circle cx="243.64" cy="279.1" r="2.24" fill-opacity=".72" stroke-opacity=".72"/><circle cx="244.85" cy="287.39" r="2.24" fill-opacity=".72" stroke-opacity=".72"/><circle cx="237.82" cy="283.81" r="2.24" fill-opacity=".72" stroke-opacity=".72"/><circle cx="243.35" cy="287.55" r="2.24" fill-opacity=".72" stroke-opacity=".72"/><circle cx="241.57" cy="288.67" r="2.24" fill-opacity=".73" stroke-opacity=".73"/><circle cx="245.5" cy="275.86" r="2.24" fill-opacity=".73" stroke-opacity=".73"/><circle cx="239.92" cy="283.1" r="2.24" fill-opacity=".73" stroke-opacity=".73"/><circle cx="241.64" cy="282.3" r="2.24" fill-opacity=".73" stroke-opacity=".73"/><circle cx="246.9" cy="280.84" r="2.24" fill-opacity=".73" stroke-opacity=".73"/><circle cx="239.51" cy="283.41" r="2.24" fill-opacity=".73" stroke-opacity=".73"/><circle cx="245.03" cy="284.43" r="2.24" fill-opacity=".73" stroke-opacity=".73"/><circle cx="239.61" cy="262.26" r="2.24" fill-opacity=".73" stroke-opacity=".73"/><circle cx="238.9" cy="260.61" r="2.24" fill-opacity=".73" stroke-opacity=".73"/><circle cx="241.15" cy="276.46" r="2.24" fill-opacity=".73" stroke-opacity=".73"/><circle cx="243.81" cy="262.65" r="2.24" fill-opacity=".73" stroke-opacity=".73"/><circle cx="240.12" cy="286.66" r="2.24" fill-opacity=".73" stroke-opacity=".73"/><circle cx="237.34" cy="263.78" r="2.24" fill-opacity=".73" stroke-opacity=".73"/><circle cx="235.5" cy="264.08" r="2.24" fill-opacity=".73" stroke-opacity=".73"/><circle cx="245.38" cy="267.57" r="2.24" fill-opacity=".73" stroke-opacity=".73"/><circle cx="247.1" cy="274.52" r="2.24" fill-opacity=".73" stroke-opacity=".73"/><circle cx="243.89" cy="265.69" r="2.24" fill-opacity=".73" stroke-opacity=".73"/><circle cx="240.73" cy="270.83" r="2.24" fill-opacity=".73" stroke-opacity=".73"/><circle cx="235.07" cy="272" r="2.24" fill-opacity=".73" stroke-opacity=".73"/><circle cx="245.59" cy="259.98" r="2.24" fill-opacity=".73" stroke-opacity=".73"/><circle cx="244.49" cy="282.14" r="2.24" fill-opacity=".73" stroke-opacity=".73"/><circle cx="244.97" cy="271.34" r="2.24" fill-opacity=".73" stroke-opacity=".73"/><circle cx="238.27" cy="277" r="2.24" fill-opacity=".73" stroke-opacity=".73"/><circle cx="241.9" cy="285.81" r="2.24" fill-opacity=".73" stroke-opacity=".73"/><circle cx="238.85" cy="269.22" r="2.24" fill-opacity=".73" stroke-opacity=".73"/><circle cx="247.63" cy="271.41" r="2.24" fill-opacity=".73" stroke-opacity=".73"/><circle cx="236.91" cy="268.53" r="2.24" fill-opacity=".73" stroke-opacity=".73"/><circle cx="246.25" cy="215.38" r="2.24" fill-opacity=".73" stroke-opacity=".73"/><circle cx="242.57" cy="283.66" r="2.24" fill-opacity=".73" stroke-opacity=".73"/><circle cx="240.48" cy="276.71" r="2.24" fill-opacity=".73" stroke-opacity=".73"/><circle cx="235.55" cy="278.7" r="2.24" fill-opacity=".74" stroke-opacity=".74"/><circle cx="245.31" cy="272.79" r="2.24" fill-opacity=".74" stroke-opacity=".74"/><circle cx="244.39" cy="283.68" r="2.24" fill-opacity=".74" stroke-opacity=".74"/><circle cx="233.2" cy="221.29" r="2.24" fill-opacity=".74" stroke-opacity=".74"/><circle cx="239.08" cy="273.16" r="2.24" fill-opacity=".74" stroke-opacity=".74"/><circle cx="240.3" cy="272.51" r="2.24" fill-opacity=".74" stroke-opacity=".74"/><circle cx="247.7" cy="274.39" r="2.24" fill-opacity=".74" stroke-opacity=".74"/><circle cx="241.27" cy="271.2" r="2.24" fill-opacity=".74" stroke-opacity=".74"/><circle cx="242.39" cy="262.95" r="2.24" fill-opacity=".74" stroke-opacity=".74"/><circle cx="249.29" cy="213.16" r="2.24" fill-opacity=".74" stroke-opacity=".74"/><circle cx="248.35" cy="266.78" r="2.24" fill-opacity=".74" stroke-opacity=".74"/><circle cx="242.35" cy="263.24" r="2.24" fill-opacity=".74" stroke-opacity=".74"/><circle cx="245.83" cy="266.64" r="2.24" fill-opacity=".74" stroke-opacity=".74"/><circle cx="242.46" cy="277.45" r="2.24" fill-opacity=".74" stroke-opacity=".74"/><circle cx="240.6" cy="266.76" r="2.24" fill-opacity=".74" stroke-opacity=".74"/><circle cx="239.56" cy="264.75" r="2.24" fill-opacity=".74" stroke-opacity=".74"/><circle cx="242.32" cy="276.35" r="2.24" fill-opacity=".74" stroke-opacity=".74"/><circle cx="237.5" cy="276.93" r="2.24" fill-opacity=".74" stroke-opacity=".74"/><circle cx="240.11" cy="264.13" r="2.24" fill-opacity=".74" stroke-opacity=".74"/><circle cx="245.98" cy="258.13" r="2.24" fill-opacity=".74" stroke-opacity=".74"/><circle cx="235.97" cy="259.2" r="2.24" fill-opacity=".74" stroke-opacity=".74"/><circle cx="241.22" cy="275.62" r="2.24" fill-opacity=".74" stroke-opacity=".74"/><circle cx="237.99" cy="272.62" r="2.24" fill-opacity=".74" stroke-opacity=".74"/><circle cx="244.29" cy="279.67" r="2.24" fill-opacity=".74" stroke-opacity=".74"/><circle cx="237.85" cy="275.44" r="2.24" fill-opacity=".75" stroke-opacity=".75"/><circle cx="241.5" cy="208.29" r="2.24" fill-opacity=".75" stroke-opacity=".75"/><circle cx="236.94" cy="273.5" r="2.24" fill-opacity=".75" stroke-opacity=".75"/><circle cx="238.58" cy="270.63" r="2.24" fill-opacity=".75" stroke-opacity=".75"/><circle cx="241.41" cy="273.28" r="2.24" fill-opacity=".75" stroke-opacity=".75"/><circle cx="239.78" cy="263" r="2.24" fill-opacity=".75" stroke-opacity=".75"/><circle cx="247.11" cy="232.31" r="2.24" fill-opacity=".75" stroke-opacity=".75"/><circle cx="253.83" cy="223.38" r="2.24" fill-opacity=".75" stroke-opacity=".75"/><circle cx="249.67" cy="224.69" r="2.24" fill-opacity=".75" stroke-opacity=".75"/><circle cx="247.75" cy="226.18" r="2.24" fill-opacity=".75" stroke-opacity=".75"/><circle cx="236.39" cy="278.05" r="2.24" fill-opacity=".75" stroke-opacity=".75"/><circle cx="245.3" cy="265.97" r="2.24" fill-opacity=".75" stroke-opacity=".75"/><circle cx="237.14" cy="268.03" r="2.24" fill-opacity=".75" stroke-opacity=".75"/><circle cx="237" cy="275.37" r="2.24" fill-opacity=".75" stroke-opacity=".75"/><circle cx="242.68" cy="278.97" r="2.24" fill-opacity=".75" stroke-opacity=".75"/><circle cx="245.91" cy="270.36" r="2.24" fill-opacity=".75" stroke-opacity=".75"/><circle cx="240.77" cy="250.4" r="2.24" fill-opacity=".75" stroke-opacity=".75"/><circle cx="234.73" cy="271.17" r="2.24" fill-opacity=".75" stroke-opacity=".75"/><circle cx="239.21" cy="214.28" r="2.24" fill-opacity=".75" stroke-opacity=".75"/><circle cx="239.77" cy="274.86" r="2.24" fill-opacity=".75" stroke-opacity=".75"/><circle cx="235.83" cy="251.53" r="2.24" fill-opacity=".75" stroke-opacity=".75"/><circle cx="242.74" cy="265.5" r="2.24" fill-opacity=".75" stroke-opacity=".75"/><circle cx="238.76" cy="273.85" r="2.24" fill-opacity=".75" stroke-opacity=".75"/><circle cx="238.37" cy="272.61" r="2.24" fill-opacity=".75" stroke-opacity=".75"/><circle cx="246.37" cy="266.04" r="2.24" fill-opacity=".76" stroke-opacity=".76"/><circle cx="226.34" cy="220.44" r="2.24" fill-opacity=".76" stroke-opacity=".76"/><circle cx="241.44" cy="270.34" r="2.24" fill-opacity=".76" stroke-opacity=".76"/><circle cx="245.19" cy="278.31" r="2.24" fill-opacity=".76" stroke-opacity=".76"/><circle cx="248.47" cy="260.76" r="2.24" fill-opacity=".76" stroke-opacity=".76"/><circle cx="246.02" cy="249.99" r="2.24" fill-opacity=".76" stroke-opacity=".76"/><circle cx="243.21" cy="258.94" r="2.24" fill-opacity=".76" stroke-opacity=".76"/><circle cx="245.67" cy="220.14" r="2.24" fill-opacity=".76" stroke-opacity=".76"/><circle cx="238.04" cy="273.45" r="2.24" fill-opacity=".76" stroke-opacity=".76"/><circle cx="236.78" cy="270.23" r="2.24" fill-opacity=".76" stroke-opacity=".76"/><circle cx="245.42" cy="250.58" r="2.24" fill-opacity=".76" stroke-opacity=".76"/><circle cx="246.96" cy="248.51" r="2.24" fill-opacity=".76" stroke-opacity=".76"/><circle cx="239.22" cy="269.82" r="2.24" fill-opacity=".76" stroke-opacity=".76"/><circle cx="244.25" cy="265.37" r="2.24" fill-opacity=".76" stroke-opacity=".76"/><circle cx="245.59" cy="273.17" r="2.24" fill-opacity=".76" stroke-opacity=".76"/><circle cx="238.78" cy="221.85" r="2.24" fill-opacity=".76" stroke-opacity=".76"/><circle cx="247.18" cy="271.62" r="2.24" fill-opacity=".76" stroke-opacity=".76"/><circle cx="248.28" cy="259.54" r="2.24" fill-opacity=".76" stroke-opacity=".76"/><circle cx="243.22" cy="252" r="2.24" fill-opacity=".76" stroke-opacity=".76"/><circle cx="243.59" cy="267.78" r="2.24" fill-opacity=".76" stroke-opacity=".76"/><circle cx="241.51" cy="275.39" r="2.24" fill-opacity=".76" stroke-opacity=".76"/><circle cx="249.71" cy="258.59" r="2.24" fill-opacity=".76" stroke-opacity=".76"/><circle cx="237.33" cy="246.17" r="2.24" fill-opacity=".76" stroke-opacity=".76"/><circle cx="247.4" cy="256.98" r="2.24" fill-opacity=".76" stroke-opacity=".76"/><circle cx="247.22" cy="268.11" r="2.24" fill-opacity=".76" stroke-opacity=".76"/><circle cx="239.79" cy="263.9" r="2.24" fill-opacity=".76" stroke-opacity=".76"/><circle cx="248.62" cy="262.62" r="2.24" fill-opacity=".76" stroke-opacity=".76"/><circle cx="248.28" cy="259.81" r="2.24" fill-opacity=".77" stroke-opacity=".77"/><circle cx="235.38" cy="270.28" r="2.24" fill-opacity=".77" stroke-opacity=".77"/><circle cx="235.35" cy="255.07" r="2.24" fill-opacity=".77" stroke-opacity=".77"/><circle cx="239.22" cy="243.26" r="2.24" fill-opacity=".77" stroke-opacity=".77"/><circle cx="246.52" cy="273.5" r="2.24" fill-opacity=".77" stroke-opacity=".77"/><circle cx="236.53" cy="271.65" r="2.24" fill-opacity=".77" stroke-opacity=".77"/><circle cx="232.43" cy="258.13" r="2.24" fill-opacity=".77" stroke-opacity=".77"/><circle cx="249.27" cy="264.06" r="2.24" fill-opacity=".77" stroke-opacity=".77"/><circle cx="230.01" cy="218.09" r="2.24" fill-opacity=".77" stroke-opacity=".77"/><circle cx="233.18" cy="256.91" r="2.24" fill-opacity=".77" stroke-opacity=".77"/><circle cx="240.7" cy="264.72" r="2.24" fill-opacity=".77" stroke-opacity=".77"/><circle cx="245.5" cy="248.79" r="2.24" fill-opacity=".77" stroke-opacity=".77"/><circle cx="240.56" cy="258.78" r="2.24" fill-opacity=".77" stroke-opacity=".77"/><circle cx="241.14" cy="228.03" r="2.24" fill-opacity=".77" stroke-opacity=".77"/><circle cx="227.74" cy="214.88" r="2.24" fill-opacity=".77" stroke-opacity=".77"/><circle cx="247.23" cy="221.72" r="2.24" fill-opacity=".77" stroke-opacity=".77"/><circle cx="240.49" cy="273.81" r="2.24" fill-opacity=".77" stroke-opacity=".77"/><circle cx="240.78" cy="274.36" r="2.24" fill-opacity=".77" stroke-opacity=".77"/><circle cx="237.27" cy="225.48" r="2.24" fill-opacity=".77" stroke-opacity=".77"/><circle cx="253.86" cy="228.96" r="2.24" fill-opacity=".77" stroke-opacity=".77"/><circle cx="239.05" cy="254.37" r="2.24" fill-opacity=".77" stroke-opacity=".77"/><circle cx="239.16" cy="266.77" r="2.24" fill-opacity=".77" stroke-opacity=".77"/><circle cx="246.48" cy="260.87" r="2.24" fill-opacity=".77" stroke-opacity=".77"/><circle cx="245.24" cy="239.31" r="2.24" fill-opacity=".77" stroke-opacity=".77"/><circle cx="237.3" cy="266.77" r="2.24" fill-opacity=".78" stroke-opacity=".78"/><circle cx="240.07" cy="210.56" r="2.24" fill-opacity=".78" stroke-opacity=".78"/><circle cx="232.41" cy="254.49" r="2.24" fill-opacity=".78" stroke-opacity=".78"/><circle cx="248.47" cy="265.32" r="2.24" fill-opacity=".78" stroke-opacity=".78"/><circle cx="236.32" cy="242.3" r="2.24" fill-opacity=".78" stroke-opacity=".78"/><circle cx="240.8" cy="264.37" r="2.24" fill-opacity=".78" stroke-opacity=".78"/><circle cx="237.12" cy="253.16" r="2.24" fill-opacity=".78" stroke-opacity=".78"/><circle cx="238.81" cy="265.46" r="2.24" fill-opacity=".78" stroke-opacity=".78"/><circle cx="241" cy="258.65" r="2.24" fill-opacity=".78" stroke-opacity=".78"/><circle cx="246.61" cy="243.51" r="2.24" fill-opacity=".78" stroke-opacity=".78"/><circle cx="245.51" cy="257.96" r="2.24" fill-opacity=".78" stroke-opacity=".78"/><circle cx="244.31" cy="263.42" r="2.24" fill-opacity=".78" stroke-opacity=".78"/><circle cx="245.94" cy="268.7" r="2.24" fill-opacity=".78" stroke-opacity=".78"/><circle cx="236.73" cy="264.49" r="2.24" fill-opacity=".78" stroke-opacity=".78"/><circle cx="246.88" cy="242.65" r="2.24" fill-opacity=".78" stroke-opacity=".78"/><circle cx="233.43" cy="249.65" r="2.24" fill-opacity=".78" stroke-opacity=".78"/><circle cx="232.69" cy="200.66" r="2.24" fill-opacity=".78" stroke-opacity=".78"/><circle cx="245.23" cy="264.2" r="2.24" fill-opacity=".78" stroke-opacity=".78"/><circle cx="234.5" cy="243.7" r="2.24" fill-opacity=".78" stroke-opacity=".78"/><circle cx="240.32" cy="255.49" r="2.24" fill-opacity=".78" stroke-opacity=".78"/><circle cx="246.53" cy="227.31" r="2.24" fill-opacity=".78" stroke-opacity=".78"/><circle cx="243.82" cy="252" r="2.24" fill-opacity=".78" stroke-opacity=".78"/><circle cx="261.43" cy="218.49" r="2.24" fill-opacity=".78" stroke-opacity=".78"/><circle cx="248.29" cy="252.2" r="2.24" fill-opacity=".78" stroke-opacity=".78"/><circle cx="237.82" cy="251.28" r="2.24" fill-opacity=".78" stroke-opacity=".78"/><circle cx="235.36" cy="233.1" r="2.24" fill-opacity=".78" stroke-opacity=".78"/><circle cx="250.17" cy="252.65" r="2.24" fill-opacity=".78" stroke-opacity=".78"/><circle cx="256.39" cy="226.17" r="2.24" fill-opacity=".78" stroke-opacity=".78"/><circle cx="240.29" cy="236.8" r="2.24" fill-opacity=".78" stroke-opacity=".78"/><circle cx="240.8" cy="237.03" r="2.24" fill-opacity=".78" stroke-opacity=".78"/><circle cx="220.06" cy="225.44" r="2.24" fill-opacity=".78" stroke-opacity=".78"/><circle cx="238.09" cy="244.43" r="2.24" fill-opacity=".78" stroke-opacity=".78"/><circle cx="239.15" cy="242.64" r="2.24" fill-opacity=".79" stroke-opacity=".79"/><circle cx="243.23" cy="240.39" r="2.24" fill-opacity=".79" stroke-opacity=".79"/><circle cx="247.2" cy="261.63" r="2.24" fill-opacity=".79" stroke-opacity=".79"/><circle cx="234.79" cy="250.85" r="2.24" fill-opacity=".79" stroke-opacity=".79"/><circle cx="242.89" cy="239.1" r="2.24" fill-opacity=".79" stroke-opacity=".79"/><circle cx="239.94" cy="237.04" r="2.24" fill-opacity=".79" stroke-opacity=".79"/><circle cx="249.41" cy="247.49" r="2.24" fill-opacity=".79" stroke-opacity=".79"/><circle cx="229.91" cy="203.67" r="2.24" fill-opacity=".79" stroke-opacity=".79"/><circle cx="247.74" cy="260.93" r="2.24" fill-opacity=".79" stroke-opacity=".79"/><circle cx="241.32" cy="268.19" r="2.24" fill-opacity=".79" stroke-opacity=".79"/><circle cx="233.09" cy="232.98" r="2.24" fill-opacity=".79" stroke-opacity=".79"/><circle cx="234.39" cy="250.49" r="2.24" fill-opacity=".79" stroke-opacity=".79"/><circle cx="236.42" cy="251.94" r="2.24" fill-opacity=".79" stroke-opacity=".79"/><circle cx="241.13" cy="233.34" r="2.24" fill-opacity=".79" stroke-opacity=".79"/><circle cx="232.95" cy="219.61" r="2.24" fill-opacity=".79" stroke-opacity=".79"/><circle cx="247.43" cy="231.43" r="2.24" fill-opacity=".79" stroke-opacity=".79"/><circle cx="250.1" cy="248.16" r="2.24" fill-opacity=".79" stroke-opacity=".79"/><circle cx="234.49" cy="257.45" r="2.24" fill-opacity=".79" stroke-opacity=".79"/><circle cx="245.72" cy="241.51" r="2.24" fill-opacity=".79" stroke-opacity=".79"/><circle cx="241.24" cy="221.8" r="2.24" fill-opacity=".79" stroke-opacity=".79"/><circle cx="237.95" cy="244.56" r="2.24" fill-opacity=".79" stroke-opacity=".79"/><circle cx="236.31" cy="234.24" r="2.24" fill-opacity=".79" stroke-opacity=".79"/><circle cx="250.07" cy="202.58" r="2.24" fill-opacity=".79" stroke-opacity=".79"/><circle cx="232.98" cy="244.87" r="2.24" fill-opacity=".79" stroke-opacity=".79"/><circle cx="238.37" cy="237.14" r="2.24" fill-opacity=".79" stroke-opacity=".79"/><circle cx="237.62" cy="244.46" r="2.24" fill-opacity=".79" stroke-opacity=".79"/><circle cx="245.85" cy="234.89" r="2.24" fill-opacity=".79" stroke-opacity=".79"/><circle cx="236.59" cy="234.56" r="2.24" fill-opacity=".79" stroke-opacity=".79"/><circle cx="244.41" cy="196.6" r="2.24" fill-opacity=".79" stroke-opacity=".79"/><circle cx="227.26" cy="232.36" r="2.24" fill-opacity=".79" stroke-opacity=".79"/><circle cx="241.26" cy="264.51" r="2.24" fill-opacity=".79" stroke-opacity=".79"/><circle cx="244.81" cy="234.35" r="2.24" fill-opacity=".79" stroke-opacity=".79"/><circle cx="229.61" cy="221.78" r="2.24" fill-opacity=".80" stroke-opacity=".80"/><circle cx="240.56" cy="234.62" r="2.24" fill-opacity=".80" stroke-opacity=".80"/><circle cx="247.4" cy="264.15" r="2.24" fill-opacity=".80" stroke-opacity=".80"/><circle cx="234.19" cy="241.22" r="2.24" fill-opacity=".80" stroke-opacity=".80"/><circle cx="236.2" cy="243.12" r="2.24" fill-opacity=".80" stroke-opacity=".80"/><circle cx="233.91" cy="244.35" r="2.24" fill-opacity=".80" stroke-opacity=".80"/><circle cx="242.95" cy="229.33" r="2.24" fill-opacity=".80" stroke-opacity=".80"/><circle cx="241.03" cy="232.43" r="2.24" fill-opacity=".80" stroke-opacity=".80"/><circle cx="241.16" cy="202.71" r="2.24" fill-opacity=".80" stroke-opacity=".80"/><circle cx="244.71" cy="245.56" r="2.24" fill-opacity=".80" stroke-opacity=".80"/><circle cx="241.11" cy="255.64" r="2.24" fill-opacity=".80" stroke-opacity=".80"/><circle cx="238.89" cy="245.79" r="2.24" fill-opacity=".80" stroke-opacity=".80"/><circle cx="238.4" cy="251.03" r="2.24" fill-opacity=".80" stroke-opacity=".80"/><circle cx="235.5" cy="198.99" r="2.24" fill-opacity=".80" stroke-opacity=".80"/><circle cx="242.79" cy="234.94" r="2.24" fill-opacity=".80" stroke-opacity=".80"/><circle cx="244.41" cy="257.81" r="2.24" fill-opacity=".80" stroke-opacity=".80"/><circle cx="242.73" cy="231.7" r="2.24" fill-opacity=".80" stroke-opacity=".80"/><circle cx="251.4" cy="204.24" r="2.24" fill-opacity=".80" stroke-opacity=".80"/><circle cx="247.52" cy="261.2" r="2.24" fill-opacity=".80" stroke-opacity=".80"/><circle cx="260.19" cy="226.76" r="2.24" fill-opacity=".80" stroke-opacity=".80"/><circle cx="238.68" cy="259.14" r="2.24" fill-opacity=".80" stroke-opacity=".80"/><circle cx="244.72" cy="239.13" r="2.24" fill-opacity=".80" stroke-opacity=".80"/><circle cx="230.14" cy="234.81" r="2.24" fill-opacity=".80" stroke-opacity=".80"/><circle cx="249.62" cy="210.59" r="2.24" fill-opacity=".80" stroke-opacity=".80"/><circle cx="241.65" cy="229.99" r="2.24" fill-opacity=".80" stroke-opacity=".80"/><circle cx="235.15" cy="256.34" r="2.24" fill-opacity=".80" stroke-opacity=".80"/><circle cx="244.85" cy="245.75" r="2.24" fill-opacity=".80" stroke-opacity=".80"/><circle cx="239.52" cy="219.56" r="2.24" fill-opacity=".80" stroke-opacity=".80"/><circle cx="241.01" cy="262.17" r="2.24" fill-opacity=".80" stroke-opacity=".80"/><circle cx="233.11" cy="253.22" r="2.24" fill-opacity=".81" stroke-opacity=".81"/><circle cx="239.14" cy="229.07" r="2.24" fill-opacity=".81" stroke-opacity=".81"/><circle cx="247.54" cy="241.08" r="2.24" fill-opacity=".81" stroke-opacity=".81"/><circle cx="249.22" cy="239.58" r="2.24" fill-opacity=".81" stroke-opacity=".81"/><circle cx="240.7" cy="264.9" r="2.24" fill-opacity=".81" stroke-opacity=".81"/><circle cx="234.06" cy="252.06" r="2.24" fill-opacity=".81" stroke-opacity=".81"/><circle cx="221.18" cy="230.91" r="2.24" fill-opacity=".81" stroke-opacity=".81"/><circle cx="243.45" cy="254.74" r="2.24" fill-opacity=".81" stroke-opacity=".81"/><circle cx="246.7" cy="234.01" r="2.24" fill-opacity=".81" stroke-opacity=".81"/><circle cx="248.92" cy="236.37" r="2.24" fill-opacity=".81" stroke-opacity=".81"/><circle cx="225.44" cy="235.12" r="2.24" fill-opacity=".81" stroke-opacity=".81"/><circle cx="235.51" cy="237.28" r="2.24" fill-opacity=".81" stroke-opacity=".81"/><circle cx="236.01" cy="235.25" r="2.24" fill-opacity=".81" stroke-opacity=".81"/><circle cx="237.44" cy="225.38" r="2.24" fill-opacity=".81" stroke-opacity=".81"/><circle cx="236.37" cy="247.22" r="2.24" fill-opacity=".81" stroke-opacity=".81"/><circle cx="227.18" cy="224.58" r="2.24" fill-opacity=".81" stroke-opacity=".81"/><circle cx="238.02" cy="206.83" r="2.24" fill-opacity=".81" stroke-opacity=".81"/><circle cx="237.4" cy="234.62" r="2.24" fill-opacity=".81" stroke-opacity=".81"/><circle cx="232" cy="245.98" r="2.24" fill-opacity=".81" stroke-opacity=".81"/><circle cx="236.77" cy="248.9" r="2.24" fill-opacity=".81" stroke-opacity=".81"/><circle cx="243.58" cy="257.3" r="2.24" fill-opacity=".81" stroke-opacity=".81"/><circle cx="250.73" cy="247.14" r="2.24" fill-opacity=".81" stroke-opacity=".81"/><circle cx="244.76" cy="240.51" r="2.24" fill-opacity=".81" stroke-opacity=".81"/><circle cx="240.58" cy="247.46" r="2.24" fill-opacity=".81" stroke-opacity=".81"/><circle cx="241.39" cy="239.43" r="2.24" fill-opacity=".81" stroke-opacity=".81"/><circle cx="225.82" cy="239.05" r="2.24" fill-opacity=".81" stroke-opacity=".81"/><circle cx="239.86" cy="246.66" r="2.24" fill-opacity=".81" stroke-opacity=".81"/><circle cx="234.89" cy="230" r="2.24" fill-opacity=".81" stroke-opacity=".81"/><circle cx="244.44" cy="223.75" r="2.24" fill-opacity=".81" stroke-opacity=".81"/><circle cx="233.07" cy="232.32" r="2.24" fill-opacity=".81" stroke-opacity=".81"/><circle cx="250.63" cy="245.93" r="2.24" fill-opacity=".81" stroke-opacity=".81"/><circle cx="227.61" cy="232.39" r="2.24" fill-opacity=".81" stroke-opacity=".81"/><circle cx="247.64" cy="244.98" r="2.24" fill-opacity=".81" stroke-opacity=".81"/><circle cx="251.61" cy="235.56" r="2.24" fill-opacity=".81" stroke-opacity=".81"/><circle cx="246.9" cy="234.02" r="2.24" fill-opacity=".81" stroke-opacity=".81"/><circle cx="260.31" cy="240.73" r="2.24" fill-opacity=".81" stroke-opacity=".81"/><circle cx="232.61" cy="223.14" r="2.24" fill-opacity=".81" stroke-opacity=".81"/><circle cx="245.08" cy="239.33" r="2.24" fill-opacity=".81" stroke-opacity=".81"/><circle cx="249.91" cy="251.09" r="2.24" fill-opacity=".81" stroke-opacity=".81"/><circle cx="248.32" cy="228.32" r="2.24" fill-opacity=".82" stroke-opacity=".82"/><circle cx="245.15" cy="235.65" r="2.24" fill-opacity=".82" stroke-opacity=".82"/><circle cx="244.11" cy="234.4" r="2.24" fill-opacity=".82" stroke-opacity=".82"/><circle cx="215.39" cy="226.54" r="2.24" fill-opacity=".82" stroke-opacity=".82"/><circle cx="244.2" cy="234.09" r="2.24" fill-opacity=".82" stroke-opacity=".82"/><circle cx="252.98" cy="230.32" r="2.24" fill-opacity=".82" stroke-opacity=".82"/><circle cx="251.42" cy="197.49" r="2.24" fill-opacity=".82" stroke-opacity=".82"/><circle cx="234.26" cy="227.79" r="2.24" fill-opacity=".82" stroke-opacity=".82"/><circle cx="236.91" cy="257.86" r="2.24" fill-opacity=".82" stroke-opacity=".82"/><circle cx="245.08" cy="219.97" r="2.24" fill-opacity=".82" stroke-opacity=".82"/><circle cx="237.75" cy="247.3" r="2.24" fill-opacity=".82" stroke-opacity=".82"/><circle cx="249.99" cy="241.77" r="2.24" fill-opacity=".82" stroke-opacity=".82"/><circle cx="218.08" cy="209.68" r="2.24" fill-opacity=".82" stroke-opacity=".82"/><circle cx="248.83" cy="214.54" r="2.24" fill-opacity=".82" stroke-opacity=".82"/><circle cx="240.12" cy="250.96" r="2.24" fill-opacity=".82" stroke-opacity=".82"/><circle cx="238.71" cy="238.41" r="2.24" fill-opacity=".82" stroke-opacity=".82"/><circle cx="246.95" cy="249.03" r="2.24" fill-opacity=".82" stroke-opacity=".82"/><circle cx="243.46" cy="232.2" r="2.24" fill-opacity=".82" stroke-opacity=".82"/><circle cx="241.36" cy="231.38" r="2.24" fill-opacity=".82" stroke-opacity=".82"/><circle cx="248.82" cy="230.9" r="2.24" fill-opacity=".82" stroke-opacity=".82"/><circle cx="240.91" cy="255.64" r="2.24" fill-opacity=".82" stroke-opacity=".82"/><circle cx="240.75" cy="228.04" r="2.24" fill-opacity=".82" stroke-opacity=".82"/><circle cx="250.22" cy="241.72" r="2.24" fill-opacity=".82" stroke-opacity=".82"/><circle cx="239.74" cy="255.09" r="2.24" fill-opacity=".83" stroke-opacity=".83"/><circle cx="235.24" cy="253.29" r="2.24" fill-opacity=".83" stroke-opacity=".83"/><circle cx="240.61" cy="240.49" r="2.24" fill-opacity=".83" stroke-opacity=".83"/><circle cx="239.3" cy="230.49" r="2.24" fill-opacity=".83" stroke-opacity=".83"/><circle cx="235.64" cy="238.29" r="2.24" fill-opacity=".83" stroke-opacity=".83"/><circle cx="249.49" cy="237.59" r="2.24" fill-opacity=".83" stroke-opacity=".83"/><circle cx="239.34" cy="234.2" r="2.24" fill-opacity=".83" stroke-opacity=".83"/><circle cx="234.87" cy="233.59" r="2.24" fill-opacity=".83" stroke-opacity=".83"/><circle cx="248.55" cy="238.43" r="2.24" fill-opacity=".83" stroke-opacity=".83"/><circle cx="247.06" cy="236.49" r="2.24" fill-opacity=".83" stroke-opacity=".83"/><circle cx="241.48" cy="231.07" r="2.24" fill-opacity=".83" stroke-opacity=".83"/><circle cx="222.27" cy="210.52" r="2.24" fill-opacity=".83" stroke-opacity=".83"/><circle cx="229.37" cy="217.71" r="2.24" fill-opacity=".83" stroke-opacity=".83"/><circle cx="248.37" cy="229.34" r="2.24" fill-opacity=".83" stroke-opacity=".83"/><circle cx="240.82" cy="252.56" r="2.24" fill-opacity=".83" stroke-opacity=".83"/><circle cx="225.3" cy="226.28" r="2.24" fill-opacity=".83" stroke-opacity=".83"/><circle cx="239.1" cy="225.45" r="2.24" fill-opacity=".83" stroke-opacity=".83"/><circle cx="235.6" cy="252.81" r="2.24" fill-opacity=".83" stroke-opacity=".83"/><circle cx="228.79" cy="217.62" r="2.24" fill-opacity=".83" stroke-opacity=".83"/><circle cx="243.66" cy="212.09" r="2.24" fill-opacity=".83" stroke-opacity=".83"/><circle cx="239.4" cy="233.36" r="2.24" fill-opacity=".83" stroke-opacity=".83"/><circle cx="242.84" cy="250.13" r="2.24" fill-opacity=".83" stroke-opacity=".83"/><circle cx="267.04" cy="225.01" r="2.24" fill-opacity=".83" stroke-opacity=".83"/><circle cx="247.45" cy="248.59" r="2.24" fill-opacity=".83" stroke-opacity=".83"/><circle cx="234.96" cy="195.35" r="2.24" fill-opacity=".83" stroke-opacity=".83"/><circle cx="241.83" cy="253.73" r="2.24" fill-opacity=".83" stroke-opacity=".83"/><circle cx="237.43" cy="252.96" r="2.24" fill-opacity=".83" stroke-opacity=".83"/><circle cx="237.47" cy="240.78" r="2.24" fill-opacity=".83" stroke-opacity=".83"/><circle cx="238.26" cy="226.75" r="2.24" fill-opacity=".83" stroke-opacity=".83"/><circle cx="241.07" cy="235.29" r="2.24" fill-opacity=".83" stroke-opacity=".83"/><circle cx="250.57" cy="215.98" r="2.24" fill-opacity=".83" stroke-opacity=".83"/><circle cx="249.56" cy="195.8" r="2.24" fill-opacity=".83" stroke-opacity=".83"/><circle cx="239.15" cy="245.05" r="2.24" fill-opacity=".83" stroke-opacity=".83"/><circle cx="223.7" cy="212.33" r="2.24" fill-opacity=".83" stroke-opacity=".83"/><circle cx="244.28" cy="243.11" r="2.24" fill-opacity=".83" stroke-opacity=".83"/><circle cx="249.33" cy="239.2" r="2.24" fill-opacity=".83" stroke-opacity=".83"/><circle cx="241.09" cy="228.44" r="2.24" fill-opacity=".83" stroke-opacity=".83"/><circle cx="233.76" cy="241.12" r="2.24" fill-opacity=".83" stroke-opacity=".83"/><circle cx="241.8" cy="229.38" r="2.24" fill-opacity=".83" stroke-opacity=".83"/><circle cx="254.96" cy="228.4" r="2.24" fill-opacity=".84" stroke-opacity=".84"/><circle cx="243.31" cy="229.44" r="2.24" fill-opacity=".84" stroke-opacity=".84"/><circle cx="261.67" cy="221.3" r="2.24" fill-opacity=".84" stroke-opacity=".84"/><circle cx="247.85" cy="213.46" r="2.24" fill-opacity=".84" stroke-opacity=".84"/><circle cx="259.42" cy="235.16" r="2.24" fill-opacity=".84" stroke-opacity=".84"/><circle cx="250.46" cy="210.07" r="2.24" fill-opacity=".84" stroke-opacity=".84"/><circle cx="251.83" cy="212.55" r="2.24" fill-opacity=".84" stroke-opacity=".84"/><circle cx="241.34" cy="248.45" r="2.24" fill-opacity=".84" stroke-opacity=".84"/><circle cx="246.58" cy="233.22" r="2.24" fill-opacity=".84" stroke-opacity=".84"/><circle cx="251.61" cy="198.6" r="2.24" fill-opacity=".84" stroke-opacity=".84"/><circle cx="239.31" cy="248.05" r="2.24" fill-opacity=".84" stroke-opacity=".84"/><circle cx="230.72" cy="227.67" r="2.24" fill-opacity=".84" stroke-opacity=".84"/><circle cx="257.67" cy="237.62" r="2.24" fill-opacity=".84" stroke-opacity=".84"/><circle cx="231.8" cy="208.04" r="2.24" fill-opacity=".84" stroke-opacity=".84"/><circle cx="238.27" cy="247.51" r="2.24" fill-opacity=".84" stroke-opacity=".84"/><circle cx="256.79" cy="226.63" r="2.24" fill-opacity=".84" stroke-opacity=".84"/><circle cx="257.77" cy="204.73" r="2.24" fill-opacity=".84" stroke-opacity=".84"/><circle cx="260.19" cy="223.35" r="2.24" fill-opacity=".84" stroke-opacity=".84"/><circle cx="246.14" cy="240.17" r="2.24" fill-opacity=".84" stroke-opacity=".84"/><circle cx="261.46" cy="239.68" r="2.24" fill-opacity=".84" stroke-opacity=".84"/><circle cx="233.69" cy="241.97" r="2.24" fill-opacity=".84" stroke-opacity=".84"/><circle cx="223.79" cy="223.17" r="2.24" fill-opacity=".84" stroke-opacity=".84"/><circle cx="238.85" cy="235.92" r="2.24" fill-opacity=".84" stroke-opacity=".84"/><circle cx="255.83" cy="197.37" r="2.24" fill-opacity=".84" stroke-opacity=".84"/><circle cx="244.81" cy="239.15" r="2.24" fill-opacity=".84" stroke-opacity=".84"/><circle cx="248.5" cy="233.46" r="2.24" fill-opacity=".84" stroke-opacity=".84"/><circle cx="243.23" cy="219.12" r="2.24" fill-opacity=".84" stroke-opacity=".84"/><circle cx="219.11" cy="214.73" r="2.24" fill-opacity=".84" stroke-opacity=".84"/><circle cx="236.54" cy="232.79" r="2.24" fill-opacity=".84" stroke-opacity=".84"/><circle cx="244.72" cy="245.9" r="2.24" fill-opacity=".84" stroke-opacity=".84"/><circle cx="220.01" cy="215.24" r="2.24" fill-opacity=".84" stroke-opacity=".84"/><circle cx="253.35" cy="204.78" r="2.24" fill-opacity=".84" stroke-opacity=".84"/><circle cx="239.41" cy="241.9" r="2.24" fill-opacity=".85" stroke-opacity=".85"/><circle cx="228.37" cy="195.97" r="2.24" fill-opacity=".85" stroke-opacity=".85"/><circle cx="236.99" cy="237.19" r="2.24" fill-opacity=".85" stroke-opacity=".85"/><circle cx="247.74" cy="230.54" r="2.24" fill-opacity=".85" stroke-opacity=".85"/><circle cx="248.15" cy="232.15" r="2.24" fill-opacity=".85" stroke-opacity=".85"/><circle cx="254.4" cy="218.53" r="2.24" fill-opacity=".85" stroke-opacity=".85"/><circle cx="237.97" cy="238.74" r="2.24" fill-opacity=".85" stroke-opacity=".85"/><circle cx="241.45" cy="228.04" r="2.24" fill-opacity=".85" stroke-opacity=".85"/><circle cx="249.08" cy="237.72" r="2.24" fill-opacity=".85" stroke-opacity=".85"/><circle cx="251.5" cy="220.88" r="2.24" fill-opacity=".85" stroke-opacity=".85"/><circle cx="233.53" cy="222.8" r="2.24" fill-opacity=".85" stroke-opacity=".85"/><circle cx="248.12" cy="193.22" r="2.24" fill-opacity=".85" stroke-opacity=".85"/><circle cx="270.13" cy="221.08" r="2.24" fill-opacity=".85" stroke-opacity=".85"/><circle cx="232.97" cy="228.28" r="2.24" fill-opacity=".85" stroke-opacity=".85"/><circle cx="226.96" cy="232.54" r="2.24" fill-opacity=".85" stroke-opacity=".85"/><circle cx="253.75" cy="246.68" r="2.24" fill-opacity=".85" stroke-opacity=".85"/><circle cx="248.66" cy="238.84" r="2.24" fill-opacity=".85" stroke-opacity=".85"/><circle cx="244.06" cy="241.24" r="2.24" fill-opacity=".85" stroke-opacity=".85"/><circle cx="230.07" cy="212.1" r="2.24" fill-opacity=".85" stroke-opacity=".85"/><circle cx="238.9" cy="236.5" r="2.24" fill-opacity=".85" stroke-opacity=".85"/><circle cx="242.21" cy="230.81" r="2.24" fill-opacity=".85" stroke-opacity=".85"/><circle cx="227.03" cy="209.91" r="2.24" fill-opacity=".85" stroke-opacity=".85"/><circle cx="246.67" cy="236.36" r="2.24" fill-opacity=".85" stroke-opacity=".85"/><circle cx="237.31" cy="228.61" r="2.24" fill-opacity=".85" stroke-opacity=".85"/><circle cx="237.02" cy="234.54" r="2.24" fill-opacity=".85" stroke-opacity=".85"/><circle cx="220.67" cy="202.24" r="2.24" fill-opacity=".85" stroke-opacity=".85"/><circle cx="234.94" cy="231.15" r="2.24" fill-opacity=".85" stroke-opacity=".85"/><circle cx="245.44" cy="234.58" r="2.24" fill-opacity=".85" stroke-opacity=".85"/><circle cx="249.26" cy="224.81" r="2.24" fill-opacity=".85" stroke-opacity=".85"/><circle cx="247.88" cy="237.79" r="2.24" fill-opacity=".85" stroke-opacity=".85"/><circle cx="225.39" cy="227.23" r="2.24" fill-opacity=".85" stroke-opacity=".85"/><circle cx="263.27" cy="237.75" r="2.24" fill-opacity=".85" stroke-opacity=".85"/><circle cx="236.11" cy="242.04" r="2.24" fill-opacity=".85" stroke-opacity=".85"/><circle cx="244.39" cy="245.98" r="2.24" fill-opacity=".86" stroke-opacity=".86"/><circle cx="242.06" cy="237.2" r="2.24" fill-opacity=".86" stroke-opacity=".86"/><circle cx="239.58" cy="195.24" r="2.24" fill-opacity=".86" stroke-opacity=".86"/><circle cx="262.4" cy="222.5" r="2.24" fill-opacity=".86" stroke-opacity=".86"/><circle cx="257.23" cy="243.17" r="2.24" fill-opacity=".86" stroke-opacity=".86"/><circle cx="262.69" cy="212.38" r="2.24" fill-opacity=".86" stroke-opacity=".86"/><circle cx="268.02" cy="210.69" r="2.24" fill-opacity=".86" stroke-opacity=".86"/><circle cx="238.03" cy="248.34" r="2.24" fill-opacity=".86" stroke-opacity=".86"/><circle cx="237.19" cy="230.94" r="2.24" fill-opacity=".86" stroke-opacity=".86"/><circle cx="223.78" cy="224.25" r="2.24" fill-opacity=".86" stroke-opacity=".86"/><circle cx="243.9" cy="248.55" r="2.24" fill-opacity=".86" stroke-opacity=".86"/><circle cx="239.29" cy="242.86" r="2.24" fill-opacity=".86" stroke-opacity=".86"/><circle cx="250.3" cy="230.67" r="2.24" fill-opacity=".86" stroke-opacity=".86"/><circle cx="261.98" cy="234.18" r="2.24" fill-opacity=".86" stroke-opacity=".86"/><circle cx="239.19" cy="241.74" r="2.24" fill-opacity=".86" stroke-opacity=".86"/><circle cx="233.74" cy="234.42" r="2.24" fill-opacity=".86" stroke-opacity=".86"/><circle cx="217.06" cy="220.68" r="2.24" fill-opacity=".86" stroke-opacity=".86"/><circle cx="239.94" cy="230.52" r="2.24" fill-opacity=".86" stroke-opacity=".86"/><circle cx="237.55" cy="237.83" r="2.24" fill-opacity=".86" stroke-opacity=".86"/><circle cx="236.76" cy="236.41" r="2.24" fill-opacity=".86" stroke-opacity=".86"/><circle cx="241.48" cy="242.55" r="2.24" fill-opacity=".86" stroke-opacity=".86"/><circle cx="231.28" cy="248.42" r="2.24" fill-opacity=".86" stroke-opacity=".86"/><circle cx="240.38" cy="242.04" r="2.24" fill-opacity=".86" stroke-opacity=".86"/><circle cx="238.91" cy="234.35" r="2.24" fill-opacity=".86" stroke-opacity=".86"/><circle cx="241.79" cy="239.93" r="2.24" fill-opacity=".86" stroke-opacity=".86"/><circle cx="237.37" cy="233.86" r="2.24" fill-opacity=".86" stroke-opacity=".86"/><circle cx="232.84" cy="229.51" r="2.24" fill-opacity=".86" stroke-opacity=".86"/><circle cx="230.64" cy="195.42" r="2.24" fill-opacity=".87" stroke-opacity=".87"/><circle cx="229.54" cy="210.18" r="2.24" fill-opacity=".87" stroke-opacity=".87"/><circle cx="235.39" cy="231.91" r="2.24" fill-opacity=".87" stroke-opacity=".87"/><circle cx="237.52" cy="211.53" r="2.24" fill-opacity=".87" stroke-opacity=".87"/><circle cx="236.67" cy="231.51" r="2.24" fill-opacity=".87" stroke-opacity=".87"/><circle cx="246.48" cy="230.45" r="2.24" fill-opacity=".87" stroke-opacity=".87"/><circle cx="259.63" cy="240.93" r="2.24" fill-opacity=".87" stroke-opacity=".87"/><circle cx="258.01" cy="224.16" r="2.24" fill-opacity=".87" stroke-opacity=".87"/><circle cx="236.61" cy="231.29" r="2.24" fill-opacity=".87" stroke-opacity=".87"/><circle cx="235.97" cy="232.28" r="2.24" fill-opacity=".87" stroke-opacity=".87"/><circle cx="259.8" cy="234.34" r="2.24" fill-opacity=".87" stroke-opacity=".87"/><circle cx="226.57" cy="230.89" r="2.24" fill-opacity=".88" stroke-opacity=".88"/><circle cx="238.53" cy="244.25" r="2.24" fill-opacity=".88" stroke-opacity=".88"/><circle cx="261.69" cy="201.29" r="2.24" fill-opacity=".88" stroke-opacity=".88"/><circle cx="255.79" cy="206.59" r="2.24" fill-opacity=".88" stroke-opacity=".88"/><circle cx="253.3" cy="210.65" r="2.24" fill-opacity=".88" stroke-opacity=".88"/><circle cx="239.62" cy="238.61" r="2.24" fill-opacity=".88" stroke-opacity=".88"/><circle cx="249.2" cy="198.59" r="2.24" fill-opacity=".88" stroke-opacity=".88"/><circle cx="261.41" cy="234.11" r="2.24" fill-opacity=".88" stroke-opacity=".88"/><circle cx="220.89" cy="218.94" r="2.24" fill-opacity=".88" stroke-opacity=".88"/><circle cx="220.75" cy="227.91" r="2.24" fill-opacity=".88" stroke-opacity=".88"/><circle cx="232.42" cy="217.53" r="2.24" fill-opacity=".88" stroke-opacity=".88"/><circle cx="237.59" cy="212.44" r="2.24" fill-opacity=".88" stroke-opacity=".88"/><circle cx="239.23" cy="232.71" r="2.24" fill-opacity=".88" stroke-opacity=".88"/><circle cx="231.55" cy="197.16" r="2.24" fill-opacity=".89" stroke-opacity=".89"/><circle cx="227.91" cy="238.47" r="2.24" fill-opacity=".89" stroke-opacity=".89"/><circle cx="214.16" cy="214.14" r="2.24" fill-opacity=".89" stroke-opacity=".89"/><circle cx="253.42" cy="199.18" r="2.24" fill-opacity=".89" stroke-opacity=".89"/><circle cx="240.61" cy="214.83" r="2.24" fill-opacity=".89" stroke-opacity=".89"/><circle cx="267.84" cy="215.67" r="2.24" fill-opacity=".89" stroke-opacity=".89"/><circle cx="260.89" cy="219.4" r="2.24" fill-opacity=".89" stroke-opacity=".89"/><circle cx="268.43" cy="218.62" r="2.24" fill-opacity=".89" stroke-opacity=".89"/><circle cx="264.6" cy="229.12" r="2.24" fill-opacity=".89" stroke-opacity=".89"/><circle cx="261.47" cy="236.29" r="2.24" fill-opacity=".89" stroke-opacity=".89"/><circle cx="230.56" cy="203.02" r="2.24" fill-opacity=".90" stroke-opacity=".90"/><circle cx="216.39" cy="227.37" r="2.24" fill-opacity=".90" stroke-opacity=".90"/><circle cx="244.15" cy="205.08" r="2.24" fill-opacity=".90" stroke-opacity=".90"/><circle cx="267.76" cy="223.63" r="2.24" fill-opacity=".90" stroke-opacity=".90"/><circle cx="250.13" cy="208.16" r="2.24" fill-opacity=".90" stroke-opacity=".90"/><circle cx="227.2" cy="212.63" r="2.24" fill-opacity=".90" stroke-opacity=".90"/><circle cx="235.74" cy="216.07" r="2.24" fill-opacity=".90" stroke-opacity=".90"/><circle cx="223.36" cy="207.21" r="2.24" fill-opacity=".90" stroke-opacity=".90"/><circle cx="251.56" cy="209.01" r="2.24" fill-opacity=".90" stroke-opacity=".90"/><circle cx="226.3" cy="209.36" r="2.24" fill-opacity=".90" stroke-opacity=".90"/><circle cx="220.06" cy="213.59" r="2.24" fill-opacity=".90" stroke-opacity=".90"/><circle cx="248.21" cy="223.17" r="2.24" fill-opacity=".90" stroke-opacity=".90"/><circle cx="225.1" cy="219.74" r="2.24" fill-opacity=".90" stroke-opacity=".90"/><circle cx="265.66" cy="219.97" r="2.24" fill-opacity=".91" stroke-opacity=".91"/><circle cx="242.24" cy="201.68" r="2.24" fill-opacity=".91" stroke-opacity=".91"/><circle cx="228.55" cy="230.88" r="2.24" fill-opacity=".91" stroke-opacity=".91"/><circle cx="228.81" cy="227.39" r="2.24" fill-opacity=".91" stroke-opacity=".91"/><circle cx="232.91" cy="201.1" r="2.24" fill-opacity=".91" stroke-opacity=".91"/><circle cx="257.91" cy="200.32" r="2.24" fill-opacity=".91" stroke-opacity=".91"/><circle cx="242.7" cy="193.04" r="2.24" fill-opacity=".91" stroke-opacity=".91"/><circle cx="222.46" cy="205.76" r="2.24" fill-opacity=".91" stroke-opacity=".91"/><circle cx="257.01" cy="202.9" r="2.24" fill-opacity=".91" stroke-opacity=".91"/><circle cx="260.43" cy="233.47" r="2.24" fill-opacity=".91" stroke-opacity=".91"/><circle cx="241.82" cy="227.32" r="2.24" fill-opacity=".91" stroke-opacity=".91"/><circle cx="251.94" cy="210.1" r="2.24" fill-opacity=".91" stroke-opacity=".91"/><circle cx="249.62" cy="247.03" r="2.24" fill-opacity=".91" stroke-opacity=".91"/><circle cx="228.82" cy="213.75" r="2.24" fill-opacity=".91" stroke-opacity=".91"/><circle cx="253.97" cy="242.25" r="2.24" fill-opacity=".91" stroke-opacity=".91"/><circle cx="222.88" cy="236.66" r="2.24" fill-opacity=".92" stroke-opacity=".92"/><circle cx="252.62" cy="210.15" r="2.24" fill-opacity=".92" stroke-opacity=".92"/><circle cx="244.51" cy="240.63" r="2.24" fill-opacity=".92" stroke-opacity=".92"/><circle cx="247.85" cy="220.79" r="2.24" fill-opacity=".92" stroke-opacity=".92"/><circle cx="244.13" cy="214.86" r="2.24" fill-opacity=".92" stroke-opacity=".92"/><circle cx="239.83" cy="243.06" r="2.24" fill-opacity=".92" stroke-opacity=".92"/><circle cx="223.78" cy="202.04" r="2.24" fill-opacity=".92" stroke-opacity=".92"/><circle cx="244.34" cy="219.32" r="2.24" fill-opacity=".92" stroke-opacity=".92"/><circle cx="234.61" cy="228.6" r="2.24" fill-opacity=".92" stroke-opacity=".92"/><circle cx="226.08" cy="213.75" r="2.24" fill-opacity=".92" stroke-opacity=".92"/><circle cx="241.29" cy="198.23" r="2.24" fill-opacity=".92" stroke-opacity=".92"/><circle cx="218.2" cy="218.78" r="2.24" fill-opacity=".92" stroke-opacity=".92"/><circle cx="252.96" cy="217.1" r="2.24" fill-opacity=".92" stroke-opacity=".92"/><circle cx="242.63" cy="235.44" r="2.24" fill-opacity=".92" stroke-opacity=".92"/><circle cx="253.82" cy="205.98" r="2.24" fill-opacity=".92" stroke-opacity=".92"/><circle cx="245.32" cy="207.51" r="2.24" fill-opacity=".92" stroke-opacity=".92"/><circle cx="221.96" cy="223.38" r="2.24" fill-opacity=".93" stroke-opacity=".93"/><circle cx="253.9" cy="236.92" r="2.24" fill-opacity=".93" stroke-opacity=".93"/><circle cx="256.98" cy="241.21" r="2.24" fill-opacity=".93" stroke-opacity=".93"/><circle cx="257.21" cy="210.04" r="2.24" fill-opacity=".93" stroke-opacity=".93"/><circle cx="244.71" cy="241.64" r="2.24" fill-opacity=".93" stroke-opacity=".93"/><circle cx="225.91" cy="226.92" r="2.24" fill-opacity=".93" stroke-opacity=".93"/><circle cx="247.36" cy="218.71" r="2.24" fill-opacity=".93" stroke-opacity=".93"/><circle cx="230.76" cy="217.84" r="2.24" fill-opacity=".93" stroke-opacity=".93"/><circle cx="241.49" cy="231.92" r="2.24" fill-opacity=".93" stroke-opacity=".93"/><circle cx="228.41" cy="241.79" r="2.24" fill-opacity=".93" stroke-opacity=".93"/><circle cx="234.06" cy="205.94" r="2.24" fill-opacity=".93" stroke-opacity=".93"/><circle cx="253.68" cy="205.42" r="2.24" fill-opacity=".94" stroke-opacity=".94"/><circle cx="255.09" cy="204.54" r="2.24" fill-opacity=".94" stroke-opacity=".94"/><circle cx="236.11" cy="227.3" r="2.24" fill-opacity=".94" stroke-opacity=".94"/><circle cx="245.01" cy="242.87" r="2.24" fill-opacity=".94" stroke-opacity=".94"/><circle cx="258.85" cy="208.06" r="2.24" fill-opacity=".94" stroke-opacity=".94"/><circle cx="241.63" cy="238.73" r="2.24" fill-opacity=".94" stroke-opacity=".94"/><circle cx="226.51" cy="217.22" r="2.24" fill-opacity=".94" stroke-opacity=".94"/><circle cx="222.42" cy="223.85" r="2.24" fill-opacity=".94" stroke-opacity=".94"/><circle cx="248.14" cy="243.11" r="2.24" fill-opacity=".94" stroke-opacity=".94"/><circle cx="254.74" cy="203.49" r="2.24" fill-opacity=".95" stroke-opacity=".95"/><circle cx="238.86" cy="224.57" r="2.24" fill-opacity=".95" stroke-opacity=".95"/><circle cx="234.75" cy="224.39" r="2.24" fill-opacity=".95" stroke-opacity=".95"/><circle cx="221.21" cy="220.62" r="2.24" fill-opacity=".95" stroke-opacity=".95"/><circle cx="228.58" cy="228.3" r="2.24" fill-opacity=".95" stroke-opacity=".95"/><circle cx="234.16" cy="222.04" r="2.24" fill-opacity=".95" stroke-opacity=".95"/><circle cx="234.6" cy="242" r="2.24" fill-opacity=".95" stroke-opacity=".95"/><circle cx="236.04" cy="214.19" r="2.24" fill-opacity=".96" stroke-opacity=".96"/><circle cx="235.27" cy="206.09" r="2.24" fill-opacity=".96" stroke-opacity=".96"/><circle cx="257.32" cy="206.98" r="2.24" fill-opacity=".96" stroke-opacity=".96"/><circle cx="246.69" cy="217.14" r="2.24" fill-opacity=".96" stroke-opacity=".96"/><circle cx="246.97" cy="228.5" r="2.24" fill-opacity=".96" stroke-opacity=".96"/><circle cx="251.38" cy="208.32" r="2.24" fill-opacity=".96" stroke-opacity=".96"/><circle cx="230.01" cy="238.87" r="2.24" fill-opacity=".96" stroke-opacity=".96"/><circle cx="235.14" cy="214.81" r="2.24" fill-opacity=".96" stroke-opacity=".96"/><circle cx="243.47" cy="210.23" r="2.24" fill-opacity=".96" stroke-opacity=".96"/><circle cx="242" cy="203.5" r="2.24" fill-opacity=".97" stroke-opacity=".97"/><circle cx="255.47" cy="223.51" r="2.24" fill-opacity=".97" stroke-opacity=".97"/><circle cx="252.04" cy="214.62" r="2.24" fill-opacity=".97" stroke-opacity=".97"/><circle cx="256.34" cy="215.91" r="2.24" fill-opacity=".97" stroke-opacity=".97"/><circle cx="232.35" cy="235.39" r="2.24" fill-opacity=".97" stroke-opacity=".97"/><circle cx="250.94" cy="210.27" r="2.24" fill-opacity=".98" stroke-opacity=".98"/><circle cx="258.37" cy="218.11" r="2.24" fill-opacity=".98" stroke-opacity=".98"/><circle cx="257.16" cy="220.96" r="2.24" fill-opacity=".98" stroke-opacity=".98"/><circle cx="227.93" cy="227.54" r="2.24" fill-opacity=".98" stroke-opacity=".98"/><circle cx="245.73" cy="223.67" r="2.24" fill-opacity="1.00" stroke-opacity="1.00"/></g><path d="M255.37 212.26h1.8v1.65h-1.8zM232.84 203.08h1.8v1.65h-1.8zM247.76 211.58h1.8v1.65h-1.8zM237.21 204.1h1.8v1.65h-1.8zM255.63 199.57h1.8v1.65h-1.8zM225.24 196.55h1.8v1.65h-1.8zM234.21 191h1.8v1.65h-1.8zM250.66 212.13h1.8v1.65h-1.8zM234.02 219.03h1.8v1.65h-1.8zM246.04 244.02h1.8v1.65h-1.8zM258.44 228.34h1.8v1.65h-1.8zM223.91 195.27h1.8v1.65h-1.8zM247.56 230.78h1.8v1.65h-1.8zM224.23 210.06h1.8v1.65h-1.8zM226.56 205.17h1.8v1.65h-1.8zM244.63 204.27h1.8v1.65h-1.8zM237.08 192.47h1.8v1.65h-1.8zM236.54 193.33h1.8v1.65h-1.8zM249.75 213.21h1.8v1.65h-1.8zM252.93 196.35h1.8v1.65h-1.8zM232 247.91h1.8v1.65h-1.8zM230.22 207.24h1.8v1.65h-1.8zM239.14 201.59h1.8v1.65h-1.8zM246.8 207.87h1.8v1.65h-1.8zM220.26 223.46h1.8v1.65h-1.8zM265.04 224.9h1.8v1.65h-1.8zM257.32 232.45h1.8v1.65h-1.8zM234.06 197.57h1.8v1.65h-1.8zM252.76 226.81h1.8v1.65h-1.8zM245.56 192.46h1.8v1.65h-1.8zM267.75 212.07h1.8v1.65h-1.8zM239.25 204.21h1.8v1.65h-1.8zM215.64 204.42h1.8v1.65h-1.8zM254.3 206.61h1.8v1.65h-1.8zM230.45 226.87h1.8v1.65h-1.8zM255.95 208.87h1.8v1.65h-1.8zM238 211.81h1.8v1.65h-1.8zM242.4 224.51h1.8v1.65h-1.8zM213.98 208.17h1.8v1.65h-1.8zM227.01 243.04h1.8v1.65h-1.8zM232.42 234.63h1.8v1.65h-1.8zM255.16 200.15h1.8v1.65h-1.8zM265.97 208.05h1.8v1.65h-1.8zM265.57 216.95h1.8v1.65h-1.8zM268.87 213.8h1.8v1.65h-1.8zM263.42 205.17h1.8v1.65h-1.8zM229.09 227.8h1.8v1.65h-1.8zM269.01 220.4h1.8v1.65h-1.8zM221.94 220.27h1.8v1.65h-1.8zM219.66 215.39h1.8v1.65h-1.8zM244.08 232.54h1.8v1.65h-1.8zM229.07 196.74h1.8v1.65h-1.8zM264.92 235.46h1.8v1.65h-1.8zM244.54 231.31h1.8v1.65h-1.8zM239.24 233.06h1.8v1.65h-1.8zM264.44 235.77h1.8v1.65h-1.8zM242.52 243.26h1.8v1.65h-1.8zM249.5 208.53h1.8v1.65h-1.8zM218.06 221.72h1.8v1.65h-1.8zM212.66 225.7h1.8v1.65h-1.8zM249.11 205.22h1.8v1.65h-1.8zM240.5 203.66h1.8v1.65h-1.8zM230.98 220.67h1.8v1.65h-1.8zM215.46 232.32h1.8v1.65h-1.8zM248.45 243.87h1.8v1.65h-1.8zM248.32 247.29h1.8v1.65h-1.8zM261.8 214.32h1.8v1.65h-1.8zM220.79 215.16h1.8v1.65h-1.8zM215.4 235.36h1.8v1.65h-1.8zM253.63 221.02h1.8v1.65h-1.8zM236.69 197.61h1.8v1.65h-1.8zM241.73 244.06h1.8v1.65h-1.8zM249.38 191.29h1.8v1.65h-1.8zM260.9 221.31h1.8v1.65h-1.8zM215.02 221.24h1.8v1.65h-1.8zM241.14 233.35h1.8v1.65h-1.8zM223.23 202.18h1.8v1.65h-1.8zM244.24 192.33h1.8v1.65h-1.8zM260.79 200.57h1.8v1.65h-1.8zM253.44 220.21h1.8v1.65h-1.8zM230.98 231.19h1.8v1.65h-1.8zM244.47 202.88h1.8v1.65h-1.8zM248.7 216.53h1.8v1.65h-1.8zM260.11 205.94h1.8v1.65h-1.8zM234.52 199.13h1.8v1.65h-1.8zM247.93 216.42h1.8v1.65h-1.8zM232.63 193.02h1.8v1.65h-1.8zM214.73 214.99h1.8v1.65h-1.8zM225.64 195.41h1.8v1.65h-1.8zM265.3 221.86h1.8v1.65h-1.8zM218.64 234.8h1.8v1.65h-1.8zM227.94 201.81h1.8v1.65h-1.8zM264.22 208.57h1.8v1.65h-1.8zM236.27 223.08h1.8v1.65h-1.8zM226.31 193.9h1.8v1.65h-1.8zM253.1 195.06h1.8v1.65h-1.8zM254.61 245.72h1.8v1.65h-1.8zM231.43 203.76h1.8v1.65h-1.8zM253.73 203.34h1.8v1.65h-1.8zM246.23 197.79h1.8v1.65h-1.8zM241 243.74h1.8v1.65h-1.8zM239.56 217.32h1.8v1.65h-1.8zM251.88 212h1.8v1.65h-1.8zM241.44 196.38h1.8v1.65h-1.8zM248.77 230.15h1.8v1.65h-1.8zM230.26 232.02h1.8v1.65h-1.8zM245.17 249.55h1.8v1.65h-1.8zM243.25 194.11h1.8v1.65h-1.8zM248.06 209.99h1.8v1.65h-1.8zM250.97 198.84h1.8v1.65h-1.8zM262.11 233.52h1.8v1.65h-1.8zM228.25 197.2h1.8v1.65h-1.8zM252.76 194.83h1.8v1.65h-1.8zM235.45 216.55h1.8v1.65h-1.8zM250.25 209.47h1.8v1.65h-1.8zM231.6 213.82h1.8v1.65h-1.8zM225.66 194.7h1.8v1.65h-1.8zM235.47 200.56h1.8v1.65h-1.8zM229.1 221.09h1.8v1.65h-1.8zM214.56 226.82h1.8v1.65h-1.8zM249.86 194.53h1.8v1.65h-1.8zM230.87 249.1h1.8v1.65h-1.8zM269.24 224.85h1.8v1.65h-1.8zM216.22 207.77h1.8v1.65h-1.8zM264.94 229.19h1.8v1.65h-1.8zM238.15 206.27h1.8v1.65h-1.8zM264.78 205.79h1.8v1.65h-1.8zM232.62 219.17h1.8v1.65h-1.8zM250.47 209.2h1.8v1.65h-1.8zM266.55 213.61h1.8v1.65h-1.8zM220.46 202.89h1.8v1.65h-1.8zM230.29 213.11h1.8v1.65h-1.8zM259.65 213.48h1.8v1.65h-1.8zM227.03 217.01h1.8v1.65h-1.8zM241.89 218.31h1.8v1.65h-1.8zM247.08 191.93h1.8v1.65h-1.8zM234.22 193.26h1.8v1.65h-1.8zM226.71 193.61h1.8v1.65h-1.8zM224.06 242.52h1.8v1.65h-1.8zM265.27 220.46h1.8v1.65h-1.8zM225.32 216.92h1.8v1.65h-1.8zM236.45 204.07h1.8v1.65h-1.8zM242.24 205.19h1.8v1.65h-1.8zM253.37 225.48h1.8v1.65h-1.8zM246.8 200.12h1.8v1.65h-1.8zM250.03 222.33h1.8v1.65h-1.8zM254.04 219.51h1.8v1.65h-1.8zM244.17 204.37h1.8v1.65h-1.8zM217.67 238.1h1.8v1.65h-1.8zM218.98 217.99h1.8v1.65h-1.8zM249.96 227.6h1.8v1.65h-1.8zM211.58 216.68h1.8v1.65h-1.8zM213.24 210.61h1.8v1.65h-1.8zM240.61 203.66h1.8v1.65h-1.8zM264.06 220.09h1.8v1.65h-1.8zM239.09 207.69h1.8v1.65h-1.8zM241.99 237.19h1.8v1.65h-1.8zM232.64 194.48h1.8v1.65h-1.8zM264.43 223.87h1.8v1.65h-1.8zM226.41 204.5h1.8v1.65h-1.8zM213.64 213.52h1.8v1.65h-1.8zM245.77 216.86h1.8v1.65h-1.8zM244.28 190.93h1.8v1.65h-1.8zM225.35 231.27h1.8v1.65h-1.8zM228.22 220.9h1.8v1.65h-1.8zM242.27 190.04h1.8v1.65h-1.8zM266.52 232.86h1.8v1.65h-1.8zM217.2 207.25h1.8v1.65h-1.8zM255.82 234.27h1.8v1.65h-1.8zM241.9 222.1h1.8v1.65h-1.8zM249.97 204.12h1.8v1.65h-1.8zM231.47 222.39h1.8v1.65h-1.8zM261.96 209.85h1.8v1.65h-1.8zM236.24 241.91h1.8v1.65h-1.8zM222.86 230.03h1.8v1.65h-1.8zM215.37 208.33h1.8v1.65h-1.8zM211.84 225.84h1.8v1.65h-1.8zM262.13 201.04h1.8v1.65h-1.8zM219.98 207.02h1.8v1.65h-1.8zM256.13 195.07h1.8v1.65h-1.8zM258.85 207.37h1.8v1.65h-1.8zM248.55 207.03h1.8v1.65h-1.8zM252.69 215.18h1.8v1.65h-1.8zM226.07 208.38h1.8v1.65h-1.8zM263.48 209.58h1.8v1.65h-1.8zM269.03 215.45h1.8v1.65h-1.8zM235.85 212.93h1.8v1.65h-1.8zM236.53 236.19h1.8v1.65h-1.8zM219.07 229.84h1.8v1.65h-1.8zM240.57 189.92h1.8v1.65h-1.8zM225.74 207.68h1.8v1.65h-1.8zM262.5 219.58h1.8v1.65h-1.8zM238.24 234.57h1.8v1.65h-1.8zM248.88 194.88h1.8v1.65h-1.8zM255.41 209.91h1.8v1.65h-1.8zM248.01 197.52h1.8v1.65h-1.8zM231 207.57h1.8v1.65h-1.8zM241.35 198.71h1.8v1.65h-1.8zM217.93 233.28h1.8v1.65h-1.8zM218.71 232.66h1.8v1.65h-1.8zM233.83 195.81h1.8v1.65h-1.8zM248.74 195.26h1.8v1.65h-1.8zM225.05 199.52h1.8v1.65h-1.8zM243.21 243.22h1.8v1.65h-1.8zM248.71 191.16h1.8v1.65h-1.8zM251.47 202.37h1.8v1.65h-1.8zM224.35 224.61h1.8v1.65h-1.8zM255.7 225.86h1.8v1.65h-1.8zM250.08 233.63h1.8v1.65h-1.8zM249.88 217.43h1.8v1.65h-1.8zM218.91 203.17h1.8v1.65h-1.8zM247.34 219.27h1.8v1.65h-1.8zM242.89 217.65h1.8v1.65h-1.8zM219.92 209.09h1.8v1.65h-1.8zM250.52 236.14h1.8v1.65h-1.8zM263.7 218.84h1.8v1.65h-1.8zM243.21 231.79h1.8v1.65h-1.8zM254.83 210.97h1.8v1.65h-1.8zM262.7 229.79h1.8v1.65h-1.8zM249.45 209.33h1.8v1.65h-1.8zM220.41 220.86h1.8v1.65h-1.8zM229.49 215.8h1.8v1.65h-1.8zM242.39 210.71h1.8v1.65h-1.8zM215.4 219.33h1.8v1.65h-1.8zM231.36 215.94h1.8v1.65h-1.8zM253.11 213.38h1.8v1.65h-1.8zM211.43 219.74h1.8v1.65h-1.8zM239.39 189.98h1.8v1.65h-1.8zM254.43 212.81h1.8v1.65h-1.8zM234.64 194.67h1.8v1.65h-1.8zM257.76 231.31h1.8v1.65h-1.8zM214.31 211.49h1.8v1.65h-1.8zM218.42 213.59h1.8v1.65h-1.8zM247.8 239.32h1.8v1.65h-1.8zM234.68 195.89h1.8v1.65h-1.8zM254.87 240.85h1.8v1.65h-1.8zM244.54 212.02h1.8v1.65h-1.8zM256.15 200.8h1.8v1.65h-1.8zM242.12 196.48h1.8v1.65h-1.8zM240.06 227.75h1.8v1.65h-1.8zM215.21 214.13h1.8v1.65h-1.8zM224.63 226.43h1.8v1.65h-1.8zM232.95 206.66h1.8v1.65h-1.8zM234.77 245.61h1.8v1.65h-1.8zM258.84 216.64h1.8v1.65h-1.8zM263.71 219.77h1.8v1.65h-1.8zM236.91 193.79h1.8v1.65h-1.8zM258.79 222.8h1.8v1.65h-1.8zM242.75 193.28h1.8v1.65h-1.8zM242.92 213.47h1.8v1.65h-1.8zM213.52 210h1.8v1.65h-1.8zM249.93 220.91h1.8v1.65h-1.8zM242.97 244.88h1.8v1.65h-1.8zM223.91 207.55h1.8v1.65h-1.8zM248.47 190.97h1.8v1.65h-1.8zM233.01 228.37h1.8v1.65h-1.8zM240.58 221.33h1.8v1.65h-1.8zM224.72 214.6h1.8v1.65h-1.8zM235.36 199.28h1.8v1.65h-1.8zM240.64 189.99h1.8v1.65h-1.8zM220.72 233.79h1.8v1.65h-1.8zM254.42 206.4h1.8v1.65h-1.8zM257.52 205.3h1.8v1.65h-1.8zM236.43 190.96h1.8v1.65h-1.8zM258.54 196.68h1.8v1.65h-1.8zM247.08 242.1h1.8v1.65h-1.8zM235.1 231.71h1.8v1.65h-1.8zM245.65 228.05h1.8v1.65h-1.8zM268.37 228.68h1.8v1.65h-1.8zM215.91 209.23h1.8v1.65h-1.8zM217.86 214.1h1.8v1.65h-1.8zM214.35 222.81h1.8v1.65h-1.8zM226.75 195.68h1.8v1.65h-1.8zM225.7 201.41h1.8v1.65h-1.8zM239.54 203.7h1.8v1.65h-1.8zM249.53 214.88h1.8v1.65h-1.8zM228.32 197.97h1.8v1.65h-1.8zM222.14 229.7h1.8v1.65h-1.8zM229.56 203.17h1.8v1.65h-1.8zM241.81 244.27h1.8v1.65h-1.8zM259.46 203.56h1.8v1.65h-1.8zM240.63 198.44h1.8v1.65h-1.8zM251.75 224.72h1.8v1.65h-1.8zM244.47 191.18h1.8v1.65h-1.8zM252.79 231.25h1.8v1.65h-1.8zM231.28 212.87h1.8v1.65h-1.8zM233.42 192.97h1.8v1.65h-1.8zM253.08 207.62h1.8v1.65h-1.8zM216.46 223.36h1.8v1.65h-1.8zM232.06 199.22h1.8v1.65h-1.8zM251.01 216.08h1.8v1.65h-1.8zM254.4 193.53h1.8v1.65h-1.8zM244.9 203.72h1.8v1.65h-1.8zM256.2 218.43h1.8v1.65h-1.8zM246.2 201.47h1.8v1.65h-1.8zM239.18 216.08h1.8v1.65h-1.8zM229.18 212.2h1.8v1.65h-1.8zM239.03 219.48h1.8v1.65h-1.8zM240.72 195.76h1.8v1.65h-1.8zM225.99 204.15h1.8v1.65h-1.8zM262.79 225.92h1.8v1.65h-1.8zM255.99 215.27h1.8v1.65h-1.8zM238.14 218.72h1.8v1.65h-1.8zM228.91 203.42h1.8v1.65h-1.8zM228.87 237.43h1.8v1.65h-1.8zM250.27 206.37h1.8v1.65h-1.8zM244.76 216.53h1.8v1.65h-1.8zM257.3 202.79h1.8v1.65h-1.8zM251.66 210.99h1.8v1.65h-1.8zM212.83 215.66h1.8v1.65h-1.8zM248.28 210.78h1.8v1.65h-1.8zM269.13 222.77h1.8v1.65h-1.8zM258.25 210.12h1.8v1.65h-1.8zM251.34 243.76h1.8v1.65h-1.8zM242.84 239.23h1.8v1.65h-1.8zM254.88 232.73h1.8v1.65h-1.8zM247.92 204.69h1.8v1.65h-1.8zM247.47 191.7h1.8v1.65h-1.8zM239.07 221.14h1.8v1.65h-1.8zM223.51 214.9h1.8v1.65h-1.8zM264.39 215.63h1.8v1.65h-1.8zM236.6 226.33h1.8v1.65h-1.8zM249.12 238.61h1.8v1.65h-1.8zM254.13 226.88h1.8v1.65h-1.8zM259.5 219.3h1.8v1.65h-1.8zM226.52 199.27h1.8v1.65h-1.8zM213.67 216.76h1.8v1.65h-1.8zM233.51 231.56h1.8v1.65h-1.8zM225.4 194.67h1.8v1.65h-1.8zM221.35 239.35h1.8v1.65h-1.8zM213.02 218.4h1.8v1.65h-1.8zM251.78 216.89h1.8v1.65h-1.8zM256.7 222.22h1.8v1.65h-1.8zM262.74 202.16h1.8v1.65h-1.8zM242.43 211.05h1.8v1.65h-1.8zM227.13 223.35h1.8v1.65h-1.8zM261.24 241.14h1.8v1.65h-1.8zM237.95 202.68h1.8v1.65h-1.8zM223.42 231.34h1.8v1.65h-1.8zM257.5 215h1.8v1.65h-1.8zM244.62 226.77h1.8v1.65h-1.8zM244.72 241.25h1.8v1.65h-1.8zM246.06 194.85h1.8v1.65h-1.8zM250.39 216.58h1.8v1.65h-1.8zM266.54 208.85h1.8v1.65h-1.8zM236.73 218.59h1.8v1.65h-1.8zM243.73 202.19h1.8v1.65h-1.8zM257.06 196.81h1.8v1.65h-1.8zM233.52 208.05h1.8v1.65h-1.8zM262.99 238.81h1.8v1.65h-1.8zM217.79 237.73h1.8v1.65h-1.8zM255.7 202.54h1.8v1.65h-1.8zM256.76 195.04h1.8v1.65h-1.8zM242.07 211.11h1.8v1.65h-1.8zM254.52 236.14h1.8v1.65h-1.8zM267.86 211.43h1.8v1.65h-1.8zM240.12 237.03h1.8v1.65h-1.8zM262.61 213.19h1.8v1.65h-1.8zM250.22 192.91h1.8v1.65h-1.8zM212.91 221.22h1.8v1.65h-1.8zM229.48 219.3h1.8v1.65h-1.8zM240.88 218.35h1.8v1.65h-1.8zM249.45 216.62h1.8v1.65h-1.8zM266.05 232.27h1.8v1.65h-1.8zM253.06 198.16h1.8v1.65h-1.8zM215.08 227.31h1.8v1.65h-1.8zM221.41 198.96h1.8v1.65h-1.8zM238.68 204.06h1.8v1.65h-1.8zM253.24 204.14h1.8v1.65h-1.8zM234.66 190.4h1.8v1.65h-1.8zM227.05 213.97h1.8v1.65h-1.8zM233.66 216.43h1.8v1.65h-1.8zM230.53 194.66h1.8v1.65h-1.8zM224.79 207.4h1.8v1.65h-1.8zM227.96 194.5h1.8v1.65h-1.8zM242.63 215.55h1.8v1.65h-1.8zM227.79 227.64h1.8v1.65h-1.8zM243.79 203.39h1.8v1.65h-1.8zM225.33 220.36h1.8v1.65h-1.8zM229.74 239.99h1.8v1.65h-1.8zM262.81 209.21h1.8v1.65h-1.8zM244.84 205.56h1.8v1.65h-1.8zM233.02 214.18h1.8v1.65h-1.8zM238.48 208.65h1.8v1.65h-1.8zM211.58 220.44h1.8v1.65h-1.8zM237.04 209.24h1.8v1.65h-1.8zM249.94 207.91h1.8v1.65h-1.8zM245.7 210.65h1.8v1.65h-1.8zM238.25 208.11h1.8v1.65h-1.8zM236.92 243.77h1.8v1.65h-1.8zM265.63 207.03h1.8v1.65h-1.8zM267.04 229.51h1.8v1.65h-1.8zM253 202.66h1.8v1.65h-1.8zM233.64 215.5h1.8v1.65h-1.8zM225.94 201.75h1.8v1.65h-1.8zM242.9 205.77h1.8v1.65h-1.8zM250.58 223.3h1.8v1.65h-1.8zM261.92 212.19h1.8v1.65h-1.8zM223.38 199.01h1.8v1.65h-1.8zM258.77 196.65h1.8v1.65h-1.8zM230 245.45h1.8v1.65h-1.8zM234.9 241.51h1.8v1.65h-1.8zM246.81 247.32h1.8v1.65h-1.8zM259.35 197.56h1.8v1.65h-1.8zM246.67 222.44h1.8v1.65h-1.8zM235.32 202.32h1.8v1.65h-1.8zM261.61 232.66h1.8v1.65h-1.8zM218.41 214h1.8v1.65h-1.8zM237.45 202.5h1.8v1.65h-1.8zM254.6 211.91h1.8v1.65h-1.8zM226.15 194.27h1.8v1.65h-1.8zM221.11 229.68h1.8v1.65h-1.8zM244.2 190.49h1.8v1.65h-1.8zM218.93 206.51h1.8v1.65h-1.8zM255.46 237.7h1.8v1.65h-1.8zM262.63 236.43h1.8v1.65h-1.8zM262.42 238.49h1.8v1.65h-1.8zM239.25 192.79h1.8v1.65h-1.8zM240.42 227.76h1.8v1.65h-1.8zM227.1 227.38h1.8v1.65h-1.8zM268.52 223.83h1.8v1.65h-1.8zM238.74 194.04h1.8v1.65h-1.8zM256.1 229.04h1.8v1.65h-1.8zM233.07 242.57h1.8v1.65h-1.8zM220.51 198.3h1.8v1.65h-1.8zM230.71 192.84h1.8v1.65h-1.8zM249.17 224.56h1.8v1.65h-1.8zM227.07 246.8h1.8v1.65h-1.8zM256.79 208.53h1.8v1.65h-1.8zM249.91 214.47h1.8v1.65h-1.8zM226.47 209.28h1.8v1.65h-1.8zM251.44 195.05h1.8v1.65h-1.8zM226.65 211.14h1.8v1.65h-1.8zM227.9 204.03h1.8v1.65h-1.8zM221.42 202.17h1.8v1.65h-1.8zM244.56 207.18h1.8v1.65h-1.8zM212.59 211.67h1.8v1.65h-1.8zM221.87 217.14h1.8v1.65h-1.8zM248.37 194.56h1.8v1.65h-1.8zM238.36 198.6h1.8v1.65h-1.8zM222.12 213.4h1.8v1.65h-1.8zM218.78 202.07h1.8v1.65h-1.8zM216.19 232.3h1.8v1.65h-1.8zM241.86 190.53h1.8v1.65h-1.8zM230.86 212.06h1.8v1.65h-1.8zM228.17 194.1h1.8v1.65h-1.8zM250.33 232.69h1.8v1.65h-1.8zM231.44 221.43h1.8v1.65h-1.8zM249.2 216.32h1.8v1.65h-1.8zM248 200.87h1.8v1.65h-1.8zM224.4 209.06h1.8v1.65h-1.8zM255.34 246.14h1.8v1.65h-1.8zM234.13 207.36h1.8v1.65h-1.8zM237.37 193.74h1.8v1.65h-1.8zM244.18 190.84h1.8v1.65h-1.8zM242.84 197.45h1.8v1.65h-1.8zM239.79 192.61h1.8v1.65h-1.8zM235.8 192.92h1.8v1.65h-1.8zM243.34 206.94h1.8v1.65h-1.8zM254.03 198.54h1.8v1.65h-1.8zM238.91 203.83h1.8v1.65h-1.8zM234.1 192.23h1.8v1.65h-1.8zM241.78 193.78h1.8v1.65h-1.8zM245.84 197.52h1.8v1.65h-1.8zM236.81 192.53h1.8v1.65h-1.8zM236.23 199.8h1.8v1.65h-1.8zM248.86 202.04h1.8v1.65h-1.8zM234.38 200.21h1.8v1.65h-1.8zM245.87 193.36h1.8v1.65h-1.8zM230.07 201.3h1.8v1.65h-1.8zM231.94 197.34h1.8v1.65h-1.8zM235.93 195.42h1.8v1.65h-1.8zM234.15 196.92h1.8v1.65h-1.8zM248.95 193.76h1.8v1.65h-1.8zM234.83 212.17h1.8v1.65h-1.8zM237.73 192.99h1.8v1.65h-1.8zM233.98 195.8h1.8v1.65h-1.8zM242.52 198.91h1.8v1.65h-1.8zM245.44 194.76h1.8v1.65h-1.8zM242.74 214.36h1.8v1.65h-1.8zM248.58 199.46h1.8v1.65h-1.8zM235.02 196.62h1.8v1.65h-1.8zM231.46 197.59h1.8v1.65h-1.8zM238.74 209.31h1.8v1.65h-1.8zM241.73 193.92h1.8v1.65h-1.8zM244.46 198.73h1.8v1.65h-1.8zM244.28 194.35h1.8v1.65h-1.8zM233.15 207.07h1.8v1.65h-1.8zM231.5 205.06h1.8v1.65h-1.8zM239.01 194.52h1.8v1.65h-1.8zM244.35 190.46h1.8v1.65h-1.8zM246.28 192.62h1.8v1.65h-1.8zM243.39 192.55h1.8v1.65h-1.8zM242.32 207.82h1.8v1.65h-1.8zM215.74 213.74h1.8v1.65h-1.8zM241.21 192.21h1.8v1.65h-1.8zM242.28 197.82h1.8v1.65h-1.8zM241.74 198.8h1.8v1.65h-1.8zM241.71 195.07h1.8v1.65h-1.8zM248.33 202.52h1.8v1.65h-1.8zM234.18 194.47h1.8v1.65h-1.8zM240.35 194.87h1.8v1.65h-1.8zM243.83 204.97h1.8v1.65h-1.8zM249.37 194.35h1.8v1.65h-1.8zM236.07 200.74h1.8v1.65h-1.8zM239.41 198.57h1.8v1.65h-1.8zM234.99 191.39h1.8v1.65h-1.8zM242.32 192.81h1.8v1.65h-1.8zM241.32 197.13h1.8v1.65h-1.8zM245.14 193.85h1.8v1.65h-1.8zM245.82 213.22h1.8v1.65h-1.8zM244.85 191.67h1.8v1.65h-1.8zM239.25 207.66h1.8v1.65h-1.8zM253.35 202.13h1.8v1.65h-1.8zM255.35 195.32h1.8v1.65h-1.8zM238.07 190.06h1.8v1.65h-1.8zM242.94 196.84h1.8v1.65h-1.8zM235.11 215.13h1.8v1.65h-1.8zM241.25 193.27h1.8v1.65h-1.8zM238.61 198.51h1.8v1.65h-1.8zM234.26 203.29h1.8v1.65h-1.8zM239.52 211.28h1.8v1.65h-1.8zM238.67 193.28h1.8v1.65h-1.8zM236.34 195.02h1.8v1.65h-1.8zM244.13 196.27h1.8v1.65h-1.8zM243.96 202.15h1.8v1.65h-1.8zM232.12 192.95h1.8v1.65h-1.8zM238.21 207.57h1.8v1.65h-1.8zM241.81 197.42h1.8v1.65h-1.8zM256.29 217.74h1.8v1.65h-1.8zM228.85 193.51h1.8v1.65h-1.8zM248.2 203.22h1.8v1.65h-1.8zM246.65 196.33h1.8v1.65h-1.8zM238.7 192.65h1.8v1.65h-1.8zM230.49 200.86h1.8v1.65h-1.8zM234.5 193.48h1.8v1.65h-1.8zM234.92 194.14h1.8v1.65h-1.8zM238.98 201.31h1.8v1.65h-1.8zM241.82 193.27h1.8v1.65h-1.8zM235.69 203.93h1.8v1.65h-1.8zM265.07 406.05h1.8v1.65h-1.8zM213.23 409.45h1.8v1.65h-1.8zM262.81 400.79h1.8v1.65h-1.8zM227.07 408.44h1.8v1.65h-1.8zM222.34 425.85h1.8v1.65h-1.8zM252.34 400.46h1.8v1.65h-1.8zM250.85 412.63h1.8v1.65h-1.8zM234.81 417.98h1.8v1.65h-1.8zM230.69 415.89h1.8v1.65h-1.8zM235.82 420.11h1.8v1.65h-1.8zM241.89 381.44h1.8v1.65h-1.8zM242.55 410.23h1.8v1.65h-1.8zM228.38 406.81h1.8v1.65h-1.8zM231.96 410.5h1.8v1.65h-1.8zM241.98 424.8h1.8v1.65h-1.8zM246.91 386.55h1.8v1.65h-1.8zM240.91 398.75h1.8v1.65h-1.8zM256.44 386.94h1.8v1.65h-1.8zM239.25 425.2h1.8v1.65h-1.8zM262.78 413.01h1.8v1.65h-1.8zM243.68 426.88h1.8v1.65h-1.8zM245.68 431.43h1.8v1.65h-1.8zM233.72 431.2h1.8v1.65h-1.8zM229.66 400.42h1.8v1.65h-1.8zM230.75 411.22h1.8v1.65h-1.8zM224.91 396.66h1.8v1.65h-1.8zM261.69 411.44h1.8v1.65h-1.8zM235.85 409.96h1.8v1.65h-1.8zM248.49 427.8h1.8v1.65h-1.8zM251.26 406.08h1.8v1.65h-1.8zM221.8 407.05h1.8v1.65h-1.8zM240.56 424.22h1.8v1.65h-1.8zM261.06 421.78h1.8v1.65h-1.8zM251.73 406.84h1.8v1.65h-1.8zM218.07 405.39h1.8v1.65h-1.8zM260.11 405.07h1.8v1.65h-1.8zM218.22 415.78h1.8v1.65h-1.8zM228.65 407.3h1.8v1.65h-1.8zM244.83 410.69h1.8v1.65h-1.8zM218.25 409.21h1.8v1.65h-1.8zM220.82 398.3h1.8v1.65h-1.8zM266.97 409.84h1.8v1.65h-1.8zM220.28 396.7h1.8v1.65h-1.8zM231.98 417.72h1.8v1.65h-1.8zM227.15 423.26h1.8v1.65h-1.8zM218.39 421.52h1.8v1.65h-1.8zM242.71 406.72h1.8v1.65h-1.8zM246.42 389.15h1.8v1.65h-1.8zM222.54 382.87h1.8v1.65h-1.8zM253.56 400.51h1.8v1.65h-1.8zM259.07 392.61h1.8v1.65h-1.8zM224.47 419.37h1.8v1.65h-1.8zM225.95 421.27h1.8v1.65h-1.8zM258.82 383.89h1.8v1.65h-1.8zM243.18 408.03h1.8v1.65h-1.8zM246.55 406.42h1.8v1.65h-1.8zM244.89 421.11h1.8v1.65h-1.8zM235.64 377.21h1.8v1.65h-1.8zM258.37 411.68h1.8v1.65h-1.8zM220.82 404.44h1.8v1.65h-1.8zM267.32 408.32h1.8v1.65h-1.8zM245.76 406.94h1.8v1.65h-1.8zM227.84 401.05h1.8v1.65h-1.8zM254.39 422.6h1.8v1.65h-1.8zM263.43 401.05h1.8v1.65h-1.8zM267.91 408.75h1.8v1.65h-1.8zM229.67 380.36h1.8v1.65h-1.8zM223.78 404.67h1.8v1.65h-1.8zM247.52 402.68h1.8v1.65h-1.8zM214.82 398.02h1.8v1.65h-1.8zM226.13 419.82h1.8v1.65h-1.8zM237.38 402.9h1.8v1.65h-1.8zM223.94 390.85h1.8v1.65h-1.8zM241.68 386.86h1.8v1.65h-1.8zM233.74 426.27h1.8v1.65h-1.8zM264.7 417.48h1.8v1.65h-1.8zM217.74 391.46h1.8v1.65h-1.8zM250.56 377.49h1.8v1.65h-1.8zM246.68 432.1h1.8v1.65h-1.8zM240.1 422.77h1.8v1.65h-1.8zM267.32 409.12h1.8v1.65h-1.8zM222.73 380.84h1.8v1.65h-1.8zM249.75 386.94h1.8v1.65h-1.8zM228.58 428.56h1.8v1.65h-1.8zM214.01 395.15h1.8v1.65h-1.8zM221.55 425.09h1.8v1.65h-1.8zM263.23 418.36h1.8v1.65h-1.8zM221.46 401h1.8v1.65h-1.8zM261.61 419.94h1.8v1.65h-1.8zM224.48 427.57h1.8v1.65h-1.8zM264.57 415.54h1.8v1.65h-1.8zM221.78 394.63h1.8v1.65h-1.8zM257.36 405.59h1.8v1.65h-1.8zM238.16 395.88h1.8v1.65h-1.8zM250.26 430.61h1.8v1.65h-1.8zM247.16 383.44h1.8v1.65h-1.8zM239.29 413.16h1.8v1.65h-1.8zM253.05 404.49h1.8v1.65h-1.8zM255.42 418.92h1.8v1.65h-1.8zM231.79 424.56h1.8v1.65h-1.8zM241.86 415.36h1.8v1.65h-1.8zM213.34 400.28h1.8v1.65h-1.8zM215.48 414.5h1.8v1.65h-1.8zM249.01 396.33h1.8v1.65h-1.8zM244.27 407.79h1.8v1.65h-1.8zM254.61 421.48h1.8v1.65h-1.8zM260.66 407.53h1.8v1.65h-1.8zM245.94 432.27h1.8v1.65h-1.8zM218.5 392.83h1.8v1.65h-1.8zM237.11 432.38h1.8v1.65h-1.8zM234.34 389.6h1.8v1.65h-1.8zM242.01 430.31h1.8v1.65h-1.8zM233.06 413.08h1.8v1.65h-1.8zM239.26 411.85h1.8v1.65h-1.8zM216.86 405.85h1.8v1.65h-1.8zM254.67 382.48h1.8v1.65h-1.8zM225.73 409.99h1.8v1.65h-1.8zM229.85 407.82h1.8v1.65h-1.8zM235.35 418.92h1.8v1.65h-1.8zM242.24 390.26h1.8v1.65h-1.8zM262.89 397.38h1.8v1.65h-1.8zM218.32 397.89h1.8v1.65h-1.8zM236.37 421.64h1.8v1.65h-1.8zM250 430.2h1.8v1.65h-1.8zM236.09 405.28h1.8v1.65h-1.8zM236.65 412.7h1.8v1.65h-1.8zM218.43 406.28h1.8v1.65h-1.8zM257.11 404.7h1.8v1.65h-1.8zM262.24 403.89h1.8v1.65h-1.8zM247.66 395.6h1.8v1.65h-1.8zM264.56 399.89h1.8v1.65h-1.8zM246.9 402.52h1.8v1.65h-1.8zM258.25 401.99h1.8v1.65h-1.8zM229.14 393.27h1.8v1.65h-1.8zM265.86 414.91h1.8v1.65h-1.8zM230.48 428.63h1.8v1.65h-1.8zM248.27 422.25h1.8v1.65h-1.8zM224.79 402.63h1.8v1.65h-1.8zM242.54 388.59h1.8v1.65h-1.8zM267.8 405.96h1.8v1.65h-1.8zM226.95 428.62h1.8v1.65h-1.8zM255.23 408.2h1.8v1.65h-1.8zM243.6 424.12h1.8v1.65h-1.8zM251.07 401.57h1.8v1.65h-1.8zM251.32 393.24h1.8v1.65h-1.8zM257.06 412.95h1.8v1.65h-1.8zM235.28 406.02h1.8v1.65h-1.8zM227.82 425.13h1.8v1.65h-1.8zM231.5 428.67h1.8v1.65h-1.8zM236.61 384.53h1.8v1.65h-1.8zM223.08 403.69h1.8v1.65h-1.8zM220.65 414.11h1.8v1.65h-1.8zM243.47 380.08h1.8v1.65h-1.8zM227.2 415.9h1.8v1.65h-1.8zM236.75 420.8h1.8v1.65h-1.8zM242.32 432.15h1.8v1.65h-1.8zM260.63 422.48h1.8v1.65h-1.8zM222.74 425.25h1.8v1.65h-1.8zM262.24 414.32h1.8v1.65h-1.8zM225.15 405.64h1.8v1.65h-1.8zM237.65 393.32h1.8v1.65h-1.8zM250.98 404.04h1.8v1.65h-1.8zM244.81 405.2h1.8v1.65h-1.8zM221.84 420.68h1.8v1.65h-1.8zM226.47 427.74h1.8v1.65h-1.8zM228.39 427.37h1.8v1.65h-1.8zM232.57 388.95h1.8v1.65h-1.8zM237.65 420.59h1.8v1.65h-1.8zM245.95 398.8h1.8v1.65h-1.8zM226 420.85h1.8v1.65h-1.8zM233 414.51h1.8v1.65h-1.8zM224.93 398.62h1.8v1.65h-1.8zM229.85 411.38h1.8v1.65h-1.8zM221.65 422.32h1.8v1.65h-1.8zM246.18 417.86h1.8v1.65h-1.8zM221.3 405.7h1.8v1.65h-1.8zM264.84 399.97h1.8v1.65h-1.8zM244.04 400.27h1.8v1.65h-1.8zM237.59 413.32h1.8v1.65h-1.8zM261.82 384.91h1.8v1.65h-1.8zM261.97 404.87h1.8v1.65h-1.8zM229.58 386.21h1.8v1.65h-1.8zM243.49 418.5h1.8v1.65h-1.8zM239.49 409.95h1.8v1.65h-1.8zM241.09 404.88h1.8v1.65h-1.8zM252.03 377.44h1.8v1.65h-1.8zM225.84 378.15h1.8v1.65h-1.8zM242.68 395.86h1.8v1.65h-1.8zM246.13 402.29h1.8v1.65h-1.8zM244.85 399.32h1.8v1.65h-1.8zM233.25 381.97h1.8v1.65h-1.8zM238.96 427.52h1.8v1.65h-1.8zM265.8 391.56h1.8v1.65h-1.8zM217.99 420.02h1.8v1.65h-1.8zM235.58 407.43h1.8v1.65h-1.8zM238.92 406.21h1.8v1.65h-1.8zM217.91 420.1h1.8v1.65h-1.8zM239.42 417.94h1.8v1.65h-1.8zM223.76 409.81h1.8v1.65h-1.8zM255.92 399.37h1.8v1.65h-1.8zM242.89 416.42h1.8v1.65h-1.8zM245.08 416.38h1.8v1.65h-1.8zM244.09 431.61h1.8v1.65h-1.8zM215.54 406.11h1.8v1.65h-1.8zM227.6 428.18h1.8v1.65h-1.8zM251.28 403.12h1.8v1.65h-1.8zM230.88 386.17h1.8v1.65h-1.8zM222.66 382.58h1.8v1.65h-1.8zM241.44 426.97h1.8v1.65h-1.8zM216.74 403.06h1.8v1.65h-1.8zM253.21 386.63h1.8v1.65h-1.8zM249.05 422.89h1.8v1.65h-1.8zM219.83 396.57h1.8v1.65h-1.8zM243.87 399.13h1.8v1.65h-1.8zM244.31 431.78h1.8v1.65h-1.8zM239.43 406.94h1.8v1.65h-1.8zM250.02 390.91h1.8v1.65h-1.8zM231.5 387.81h1.8v1.65h-1.8zM262.15 399.31h1.8v1.65h-1.8zM228.12 420.07h1.8v1.65h-1.8zM255.12 410.08h1.8v1.65h-1.8zM249.93 418.98h1.8v1.65h-1.8zM233.63 395.31h1.8v1.65h-1.8zM245.14 376.24h1.8v1.65h-1.8zM222.64 392.76h1.8v1.65h-1.8zM238.8 396.59h1.8v1.65h-1.8zM264.69 410.48h1.8v1.65h-1.8zM227.24 429.13h1.8v1.65h-1.8zM267.02 404.81h1.8v1.65h-1.8zM241.7 388.49h1.8v1.65h-1.8zM251.09 420.15h1.8v1.65h-1.8zM239.23 431.98h1.8v1.65h-1.8zM261.28 401.28h1.8v1.65h-1.8zM252.36 419.57h1.8v1.65h-1.8zM264.31 410.92h1.8v1.65h-1.8zM230 385.18h1.8v1.65h-1.8zM218.07 394.61h1.8v1.65h-1.8zM228.43 393.36h1.8v1.65h-1.8zM229.69 413.36h1.8v1.65h-1.8zM212.5 401.36h1.8v1.65h-1.8zM221.64 411.92h1.8v1.65h-1.8zM249.71 376.61h1.8v1.65h-1.8zM217.67 405.39h1.8v1.65h-1.8zM263.3 415.15h1.8v1.65h-1.8zM242.18 419.93h1.8v1.65h-1.8zM232.16 390.6h1.8v1.65h-1.8zM219.78 389.21h1.8v1.65h-1.8zM255.27 415.3h1.8v1.65h-1.8zM237.42 398.94h1.8v1.65h-1.8zM261.31 413.07h1.8v1.65h-1.8zM225.97 393.08h1.8v1.65h-1.8zM237.75 418.69h1.8v1.65h-1.8zM264.24 415.98h1.8v1.65h-1.8zM228.75 425.54h1.8v1.65h-1.8zM233.14 396.83h1.8v1.65h-1.8zM222.33 420.76h1.8v1.65h-1.8zM249.63 416.9h1.8v1.65h-1.8zM259.75 413.85h1.8v1.65h-1.8zM217.62 386.91h1.8v1.65h-1.8zM254.17 420.83h1.8v1.65h-1.8zM220.83 387.39h1.8v1.65h-1.8zM240.09 390.41h1.8v1.65h-1.8zM227.36 413.36h1.8v1.65h-1.8zM260.07 424.33h1.8v1.65h-1.8zM260.14 423.94h1.8v1.65h-1.8zM263.31 410.06h1.8v1.65h-1.8zM232.35 430.83h1.8v1.65h-1.8zM212.6 406.52h1.8v1.65h-1.8zM258.54 419.56h1.8v1.65h-1.8zM240.22 402.71h1.8v1.65h-1.8zM239.69 407.94h1.8v1.65h-1.8zM237.51 425.44h1.8v1.65h-1.8zM261.18 402.38h1.8v1.65h-1.8zM233.11 377.01h1.8v1.65h-1.8zM237.81 413.46h1.8v1.65h-1.8zM231.19 429.68h1.8v1.65h-1.8zM256.52 410.6h1.8v1.65h-1.8zM228.17 416.45h1.8v1.65h-1.8zM235.94 402.76h1.8v1.65h-1.8zM243.92 430.01h1.8v1.65h-1.8zM215.51 397.63h1.8v1.65h-1.8zM245.85 418.24h1.8v1.65h-1.8zM237.57 419.83h1.8v1.65h-1.8zM266.86 400.2h1.8v1.65h-1.8zM231.89 416.87h1.8v1.65h-1.8zM255.66 408.92h1.8v1.65h-1.8zM224.03 403.11h1.8v1.65h-1.8zM244.63 386.56h1.8v1.65h-1.8zM230.74 414.83h1.8v1.65h-1.8zM252.61 428.21h1.8v1.65h-1.8zM251.21 416.51h1.8v1.65h-1.8zM241.47 426.54h1.8v1.65h-1.8zM218.37 421.4h1.8v1.65h-1.8zM232.38 413.38h1.8v1.65h-1.8zM227.87 419.81h1.8v1.65h-1.8zM224.13 407.77h1.8v1.65h-1.8zM229.48 391.77h1.8v1.65h-1.8zM255.17 386.64h1.8v1.65h-1.8zM247.74 428.87h1.8v1.65h-1.8zM255.15 378.94h1.8v1.65h-1.8zM265.49 405.98h1.8v1.65h-1.8zM245.09 421.95h1.8v1.65h-1.8zM247.97 392.69h1.8v1.65h-1.8zM244.92 401.32h1.8v1.65h-1.8zM249.29 419.72h1.8v1.65h-1.8zM258.19 420.51h1.8v1.65h-1.8zM252.61 408.04h1.8v1.65h-1.8zM227.12 429.31h1.8v1.65h-1.8zM228.37 389.49h1.8v1.65h-1.8zM224.03 404.9h1.8v1.65h-1.8zM257.83 398.61h1.8v1.65h-1.8zM237.86 397.28h1.8v1.65h-1.8zM224.67 409.89h1.8v1.65h-1.8zM228.68 402.07h1.8v1.65h-1.8zM268.37 401.62h1.8v1.65h-1.8zM239.92 400.94h1.8v1.65h-1.8zM249.3 431.36h1.8v1.65h-1.8zM229.45 410.1h1.8v1.65h-1.8zM230.94 393.4h1.8v1.65h-1.8zM263.17 411.8h1.8v1.65h-1.8zM238.54 403.51h1.8v1.65h-1.8zM240.69 423.31h1.8v1.65h-1.8zM255.73 428.05h1.8v1.65h-1.8zM237.79 428.96h1.8v1.65h-1.8zM234.64 425.33h1.8v1.65h-1.8zM240.73 419.57h1.8v1.65h-1.8zM216.48 411.65h1.8v1.65h-1.8zM244.2 401.05h1.8v1.65h-1.8zM226.23 414.62h1.8v1.65h-1.8zM219.57 415.26h1.8v1.65h-1.8zM258.49 424.61h1.8v1.65h-1.8zM240.5 432.33h1.8v1.65h-1.8zM214.8 398.01h1.8v1.65h-1.8zM221.52 396.11h1.8v1.65h-1.8zM248.03 426.02h1.8v1.65h-1.8zM212.89 401.98h1.8v1.65h-1.8zM245.01 429.79h1.8v1.65h-1.8zM212.86 408.11h1.8v1.65h-1.8zM225.42 382.98h1.8v1.65h-1.8zM238.86 422.3h1.8v1.65h-1.8zM253.17 377.22h1.8v1.65h-1.8zM227.49 414.33h1.8v1.65h-1.8zM244.01 384.79h1.8v1.65h-1.8zM253.62 419.53h1.8v1.65h-1.8zM235.57 383.63h1.8v1.65h-1.8zM264.47 388.26h1.8v1.65h-1.8zM221.52 419.31h1.8v1.65h-1.8zM262.47 407.53h1.8v1.65h-1.8zM261.74 395.18h1.8v1.65h-1.8zM228.36 402.13h1.8v1.65h-1.8zM244.35 413.1h1.8v1.65h-1.8zM222.37 395.82h1.8v1.65h-1.8zM228.18 412.64h1.8v1.65h-1.8zM239.51 423.96h1.8v1.65h-1.8zM235 420.35h1.8v1.65h-1.8zM260.49 389.9h1.8v1.65h-1.8zM246.43 417.71h1.8v1.65h-1.8zM220.9 419.17h1.8v1.65h-1.8zM224.89 379.28h1.8v1.65h-1.8zM250.93 382.51h1.8v1.65h-1.8zM248.44 395.99h1.8v1.65h-1.8zM229.49 421.08h1.8v1.65h-1.8zM247.9 392.85h1.8v1.65h-1.8zM218.56 388.26h1.8v1.65h-1.8zM232.76 419.11h1.8v1.65h-1.8zM230.48 426.91h1.8v1.65h-1.8zM248.77 411.1h1.8v1.65h-1.8zM247.37 409.14h1.8v1.65h-1.8zM243.88 418.34h1.8v1.65h-1.8zM233.93 403.45h1.8v1.65h-1.8zM237.8 411.99h1.8v1.65h-1.8zM242.7 402.57h1.8v1.65h-1.8zM225.18 423.19h1.8v1.65h-1.8zM239.62 378.53h1.8v1.65h-1.8zM251.13 381.03h1.8v1.65h-1.8zM241.49 420.35h1.8v1.65h-1.8zM225.38 426.58h1.8v1.65h-1.8zM252.51 429.79h1.8v1.65h-1.8zM226.94 384.97h1.8v1.65h-1.8zM253.51 426.57h1.8v1.65h-1.8zM236.31 407.6h1.8v1.65h-1.8zM259.04 422.73h1.8v1.65h-1.8zM264.86 401.51h1.8v1.65h-1.8zM264.76 400.71h1.8v1.65h-1.8zM239.61 403.17h1.8v1.65h-1.8zM240.28 423.55h1.8v1.65h-1.8zM259.89 387.26h1.8v1.65h-1.8zM238.59 427.67h1.8v1.65h-1.8zM246.37 403.93h1.8v1.65h-1.8zM224.5 417.8h1.8v1.65h-1.8zM242.53 432.18h1.8v1.65h-1.8zM217.22 396.52h1.8v1.65h-1.8zM253.34 388.97h1.8v1.65h-1.8zM256.58 386.1h1.8v1.65h-1.8zM241.54 379.12h1.8v1.65h-1.8zM225.46 424.34h1.8v1.65h-1.8zM252.85 413.74h1.8v1.65h-1.8zM237.24 416.67h1.8v1.65h-1.8zM224.11 384.31h1.8v1.65h-1.8zM227.64 413.31h1.8v1.65h-1.8zM215.56 396.09h1.8v1.65h-1.8zM247.87 423.29h1.8v1.65h-1.8zM220.11 414.33h1.8v1.65h-1.8zM256.03 425.71h1.8v1.65h-1.8zM257.42 414.84h1.8v1.65h-1.8zM238.61 409.79h1.8v1.65h-1.8zM228.47 428.47h1.8v1.65h-1.8zM245.34 416.3h1.8v1.65h-1.8zM231.04 390.5h1.8v1.65h-1.8zM267.05 398.88h1.8v1.65h-1.8zM243.78 420.25h1.8v1.65h-1.8zM216.17 396.11h1.8v1.65h-1.8zM251.41 425.46h1.8v1.65h-1.8zM235.24 405.95h1.8v1.65h-1.8zM232.81 378.1h1.8v1.65h-1.8zM249.39 402.82h1.8v1.65h-1.8zM256.29 419.77h1.8v1.65h-1.8zM239.19 377.6h1.8v1.65h-1.8zM247.21 416.69h1.8v1.65h-1.8zM256.77 392.68h1.8v1.65h-1.8zM228.82 425.07h1.8v1.65h-1.8zM226.24 404.73h1.8v1.65h-1.8zM242.16 432.35h1.8v1.65h-1.8zM235.03 382.78h1.8v1.65h-1.8zM228.9 391.4h1.8v1.65h-1.8zM222.8 425.83h1.8v1.65h-1.8zM235.29 420.97h1.8v1.65h-1.8zM266.73 405.32h1.8v1.65h-1.8zM246.97 429.09h1.8v1.65h-1.8zM250.9 400.33h1.8v1.65h-1.8zM250.91 419.11h1.8v1.65h-1.8zM220.38 417.91h1.8v1.65h-1.8zM247.74 410.52h1.8v1.65h-1.8zM258.27 420.85h1.8v1.65h-1.8zM226.52 415.42h1.8v1.65h-1.8zM212.66 406.8h1.8v1.65h-1.8zM251.42 387.2h1.8v1.65h-1.8zM253.23 422.75h1.8v1.65h-1.8zM227.79 427.94h1.8v1.65h-1.8zM259.46 423.45h1.8v1.65h-1.8zM267.04 406.28h1.8v1.65h-1.8zM263.48 408.55h1.8v1.65h-1.8zM221.5 383.1h1.8v1.65h-1.8zM234.89 392.33h1.8v1.65h-1.8zM250.1 431.05h1.8v1.65h-1.8zM227.96 418.21h1.8v1.65h-1.8zM237.27 406.76h1.8v1.65h-1.8zM249.18 409.96h1.8v1.65h-1.8zM234.96 410.19h1.8v1.65h-1.8zM212.68 404.26h1.8v1.65h-1.8zM242.84 387.73h1.8v1.65h-1.8zM266.29 413.46h1.8v1.65h-1.8zM215.52 416.38h1.8v1.65h-1.8zM238.61 431.08h1.8v1.65h-1.8zM223.92 414.25h1.8v1.65h-1.8zM248.53 416.88h1.8v1.65h-1.8zM232.71 430.5h1.8v1.65h-1.8zM244.51 418.2h1.8v1.65h-1.8zM237.91 431.77h1.8v1.65h-1.8zM238.33 411.75h1.8v1.65h-1.8zM238.15 418.38h1.8v1.65h-1.8zM240.43 418.33h1.8v1.65h-1.8zM236.89 429.08h1.8v1.65h-1.8zM237.07 426.45h1.8v1.65h-1.8zM232.07 420.93h1.8v1.65h-1.8zM231.92 422.72h1.8v1.65h-1.8zM228.24 416.73h1.8v1.65h-1.8zM246.35 427.61h1.8v1.65h-1.8zM237.25 425.52h1.8v1.65h-1.8zM245.91 415.16h1.8v1.65h-1.8zM236.96 423.95h1.8v1.65h-1.8zM250 423.33h1.8v1.65h-1.8zM232.52 425.56h1.8v1.65h-1.8zM246.09 429.19h1.8v1.65h-1.8zM240.25 427.99h1.8v1.65h-1.8zM242.57 413.65h1.8v1.65h-1.8zM241.09 429.09h1.8v1.65h-1.8zM239.56 426.03h1.8v1.65h-1.8zM237.13 422.61h1.8v1.65h-1.8zM228.9 414.67h1.8v1.65h-1.8zM247.66 424.25h1.8v1.65h-1.8zM239.93 424.06h1.8v1.65h-1.8zM251.88 429.73h1.8v1.65h-1.8zM244.21 421.37h1.8v1.65h-1.8zM229.1 422.46h1.8v1.65h-1.8zM237.88 430.54h1.8v1.65h-1.8zM247.75 427.75h1.8v1.65h-1.8zM239.6 417.25h1.8v1.65h-1.8zM237.47 428.15h1.8v1.65h-1.8zM249.16 415.79h1.8v1.65h-1.8zM240.43 423.92h1.8v1.65h-1.8zM235.3 423.42h1.8v1.65h-1.8zM240.06 429.4h1.8v1.65h-1.8zM244.45 422.45h1.8v1.65h-1.8zM246.51 421.94h1.8v1.65h-1.8zM220.48 417.93h1.8v1.65h-1.8zM243.96 428.36h1.8v1.65h-1.8zM241.85 431.19h1.8v1.65h-1.8zM246.77 422.72h1.8v1.65h-1.8zM254.34 422.52h1.8v1.65h-1.8zM243.7 425.94h1.8v1.65h-1.8zM237.7 432.36h1.8v1.65h-1.8zM245.3 431h1.8v1.65h-1.8zM239.45 429.75h1.8v1.65h-1.8zM238.69 416.64h1.8v1.65h-1.8zM247.92 428.78h1.8v1.65h-1.8zM251.28 429.92h1.8v1.65h-1.8zM240.16 413.64h1.8v1.65h-1.8zM249.98 423.83h1.8v1.65h-1.8zM241.27 431.24h1.8v1.65h-1.8zM248.16 427.62h1.8v1.65h-1.8zM245.85 400.64h1.8v1.65h-1.8zM242.6 429.05h1.8v1.65h-1.8zM258.36 422.72h1.8v1.65h-1.8zM240.54 427.61h1.8v1.65h-1.8zM257.52 424.62h1.8v1.65h-1.8zM233.32 424.84h1.8v1.65h-1.8zM235.25 425.99h1.8v1.65h-1.8zM251.64 426.39h1.8v1.65h-1.8zM236.3 426.17h1.8v1.65h-1.8zM242.94 419.26h1.8v1.65h-1.8zM242.59 432.37h1.8v1.65h-1.8zM250.42 421.1h1.8v1.65h-1.8zM242.88 432.55h1.8v1.65h-1.8zM238.81 418.4h1.8v1.65h-1.8zM236.41 427.02h1.8v1.65h-1.8zM235.03 423.07h1.8v1.65h-1.8zM233.55 418.87h1.8v1.65h-1.8zM240.57 425.84h1.8v1.65h-1.8zM243.53 421.94h1.8v1.65h-1.8zM230.14 418.64h1.8v1.65h-1.8zM238.06 429.98h1.8v1.65h-1.8zM240.57 414.74h1.8v1.65h-1.8zM230.52 416.51h1.8v1.65h-1.8zM242.83 420.38h1.8v1.65h-1.8zM219.57 416.57h1.8v1.65h-1.8zM230.95 424.95h1.8v1.65h-1.8zM242.45 428.53h1.8v1.65h-1.8zM243.47 432.35h1.8v1.65h-1.8zM227.3 419.25h1.8v1.65h-1.8z" fill="#ff0000"/></g><g id="axes_2"> <g id="patch_6"> <path d="M 555.48 543.88 L 999.72 543.88 L 999.72 99.64 L 555.48 99.64 z " style="fill: #ffffff"/> </g> <g id="pcolor" shape-rendering="crispEdges"><path fill="#ffffff" d="M772.43 388.92h2.61v2.61h-2.61zM775.02 386.34h2.61v2.61h-2.61zM772.43 365.68h2.61v2.61h-2.61zM775.02 350.18h2.61v2.61h-2.61zM775.02 332.1h2.61v2.61h-2.61zM767.27 272.69h2.61v2.61h-2.61zM787.93 272.69h2.61v2.61h-2.61zM764.69 259.78h2.61v2.61h-2.61zM785.35 259.78h2.61v2.61h-2.61zM762.1 246.87h2.61v2.61h-2.61z"/><path fill="#fffff8" d="M775.02 404.42h2.61v2.61h-2.61zM769.85 401.83h2.61v2.61h-2.61zM775.02 388.92h2.61v2.61h-2.61zM772.43 386.34h2.61v2.61h-2.61zM769.85 381.17h2.61v2.61h-2.61zM780.18 376.01h2.61v2.61h-2.61zM777.6 365.68h2.61v2.61h-2.61zM775.02 363.09h2.61v2.61h-2.61zM777.6 360.51h2.61v2.61h-2.61zM777.6 357.93h2.61v2.61h-2.61zM775.02 347.6h2.61v2.61h-2.61zM777.6 337.26h2.61v2.61h-2.61zM782.77 308.85h2.61v2.61h-2.61zM767.27 301.11h2.61v2.61h-2.61zM769.85 290.77h2.61v2.61h-2.61zM780.18 290.77h2.61v2.61h-2.61zM785.35 270.11h2.61v2.61h-2.61zM785.35 264.95h2.61v2.61h-2.61zM764.69 257.2h2.61v2.61h-2.61zM764.69 246.87h2.61v2.61h-2.61zM790.51 239.12h2.61v2.61h-2.61z"/><path fill="#ffffed" d="M772.43 404.42h2.61v2.61h-2.61zM772.43 401.83h2.61v2.61h-2.61zM772.43 399.25h2.61v2.61h-2.61zM775.02 391.5h2.61v2.61h-2.61zM775.02 383.75h2.61v2.61h-2.61zM775.02 378.59h2.61v2.61h-2.61zM772.43 373.42h2.61v2.61h-2.61zM780.18 373.42h2.61v2.61h-2.61zM777.6 370.84h2.61v2.61h-2.61zM780.18 365.68h2.61v2.61h-2.61zM777.6 363.09h2.61v2.61h-2.61zM775.02 342.43h2.61v2.61h-2.61zM775.02 334.68h5.2v2.61h-5.2zM777.6 332.1h2.61v2.61h-2.61zM775.02 311.44h2.61v2.61h-2.61zM769.85 303.69h2.61v2.61h-2.61zM782.77 301.11h2.61v2.61h-2.61zM772.43 290.77h2.61v2.61h-2.61zM782.77 290.77h2.61v2.61h-2.61zM780.18 288.19h2.61v2.61h-2.61zM785.35 285.61h2.61v2.61h-2.61zM769.85 272.69h2.61v2.61h-2.61zM764.69 267.53h5.2v2.61h-5.2zM785.35 267.53h2.61v2.61h-2.61zM764.69 264.95h2.61v2.61h-2.61zM787.93 264.95h2.61v2.61h-2.61zM764.69 262.36h2.61v2.61h-2.61zM785.35 249.45h5.2v2.61h-5.2zM787.93 244.28h2.61v2.61h-2.61zM782.77 241.7h5.2v2.61h-5.2zM764.69 239.12h2.61v2.61h-2.61zM785.35 239.12h2.61v2.61h-2.61z"/><path fill="#ffffe6" d="M769.85 481.9h2.61v2.61h-2.61zM751.77 474.15h2.61v2.61h-2.61zM777.6 401.83h2.61v2.61h-2.61zM777.6 391.5h2.61v2.61h-2.61zM777.6 386.34h5.2v2.61h-5.2zM777.6 383.75h2.61v2.61h-2.61zM772.43 381.17h2.61v2.61h-2.61zM775.02 376.01h2.61v2.61h-2.61zM772.43 357.93h2.61v2.61h-2.61zM772.43 352.76h2.61v2.61h-2.61zM777.6 350.18h2.61v2.61h-2.61zM772.43 347.6h2.61v2.61h-2.61zM777.6 345.01h2.61v2.61h-2.61zM777.6 342.43h2.61v2.61h-2.61zM775.02 339.85h2.61v2.61h-2.61zM775.02 329.52h2.61v2.61h-2.61zM775.02 316.6h2.61v2.61h-2.61zM780.18 316.6h2.61v2.61h-2.61zM775.02 314.02h2.61v2.61h-2.61zM782.77 314.02h2.61v2.61h-2.61zM780.18 311.44h2.61v2.61h-2.61zM782.77 303.69h2.61v2.61h-2.61zM769.85 293.36h2.61v2.61h-2.61zM777.6 293.36h2.61v2.61h-2.61zM769.85 285.61h2.61v2.61h-2.61zM782.77 285.61h2.61v2.61h-2.61zM769.85 283.03h2.61v2.61h-2.61zM785.35 283.03h2.61v2.61h-2.61zM767.27 280.44h2.61v2.61h-2.61zM785.35 275.28h2.61v2.61h-2.61zM767.27 270.11h2.61v2.61h-2.61zM782.77 270.11h2.61v2.61h-2.61zM769.85 267.53h2.61v2.61h-2.61zM769.85 262.36h2.61v2.61h-2.61zM767.27 259.78h2.61v2.61h-2.61zM769.85 257.2h2.61v2.61h-2.61zM787.93 257.2h2.61v2.61h-2.61zM787.93 254.62h2.61v2.61h-2.61zM762.1 252.03h5.2v2.61h-5.2zM787.93 252.03h2.61v2.61h-2.61zM764.69 249.45h2.61v2.61h-2.61zM764.69 244.28h2.61v2.61h-2.61zM785.35 244.28h2.61v2.61h-2.61zM790.51 244.28h2.61v2.61h-2.61zM762.1 241.7h2.61v2.61h-2.61zM762.1 239.12h2.61v2.61h-2.61zM787.93 239.12h2.61v2.61h-2.61zM764.69 236.54h2.61v2.61h-2.61zM793.1 236.54h2.61v2.61h-2.61zM793.1 233.95h2.61v2.61h-2.61z"/><path fill="#ffffdc" d="M733.69 450.91h2.61v2.61h-2.61zM780.18 394.09h2.61v2.61h-2.61zM777.6 373.42h2.61v2.61h-2.61zM772.43 363.09h2.61v2.61h-2.61zM777.6 339.85h2.61v2.61h-2.61zM775.02 337.26h2.61v2.61h-2.61zM777.6 329.52h2.61v2.61h-2.61zM767.27 303.69h2.61v2.61h-2.61zM780.18 301.11h2.61v2.61h-2.61zM769.85 298.52h2.61v2.61h-2.61zM767.27 288.19h2.61v2.61h-2.61zM782.77 288.19h2.61v2.61h-2.61zM767.27 285.61h2.61v2.61h-2.61zM787.93 280.44h2.61v2.61h-2.61zM764.69 277.86h2.61v2.61h-2.61zM782.77 267.53h2.61v2.61h-2.61zM767.27 264.95h2.61v2.61h-2.61zM767.27 262.36h2.61v2.61h-2.61zM764.69 254.62h2.61v2.61h-2.61zM785.35 252.03h2.61v2.61h-2.61zM762.1 244.28h2.61v2.61h-2.61zM764.69 241.7h2.61v2.61h-2.61zM787.93 236.54h2.61v2.61h-2.61zM736.28 208.13h2.61v2.61h-2.61zM816.34 202.96h2.61v2.61h-2.61z"/><path fill="#ffffd2" d="M813.76 458.66h2.61v2.61h-2.61zM772.43 308.85h2.61v2.61h-2.61zM769.85 306.27h2.61v2.61h-2.61zM769.85 301.11h2.61v2.61h-2.61zM780.18 298.52h2.61v2.61h-2.61zM769.85 295.94h2.61v2.61h-2.61zM780.18 295.94h2.61v2.61h-2.61zM782.77 277.86h5.2v2.61h-5.2zM769.85 275.28h2.61v2.61h-2.61zM785.35 272.69h2.61v2.61h-2.61zM785.35 262.36h2.61v2.61h-2.61zM782.77 259.78h2.61v2.61h-2.61zM785.35 254.62h2.61v2.61h-2.61zM767.27 252.03h2.61v2.61h-2.61zM767.27 249.45h2.61v2.61h-2.61zM785.35 246.87h2.61v2.61h-2.61zM767.27 236.54h2.61v2.61h-2.61zM806.01 169.38h2.61v2.61h-2.61z"/><path fill="#ffffcc" d="M780.18 314.02h2.61v2.61h-2.61zM780.18 306.27h2.61v2.61h-2.61zM785.35 280.44h2.61v2.61h-2.61zM767.27 277.86h2.61v2.61h-2.61zM782.77 257.2h2.61v2.61h-2.61zM767.27 254.62h2.61v2.61h-2.61z"/><path fill="#fffdce" d="M803.43 166.8h2.61v2.61h-2.61z"/><path fill="#fffccf" d="M811.18 461.24h2.61v2.61h-2.61z"/><path fill="#fffad1" d="M772.43 295.94h2.61v2.61h-2.61zM769.85 288.19h2.61v2.61h-2.61zM782.77 275.28h2.61v2.61h-2.61zM782.77 272.69h2.61v2.61h-2.61zM769.85 264.95h2.61v2.61h-2.61zM767.27 246.87h2.61v2.61h-2.61zM767.27 244.28h2.61v2.61h-2.61zM767.27 241.7h2.61v2.61h-2.61z"/><path fill="#fff9d2" d="M772.43 481.9h2.61v2.61h-2.61zM777.6 311.44h2.61v2.61h-2.61zM780.18 308.85h2.61v2.61h-2.61zM780.18 303.69h2.61v2.61h-2.61zM772.43 293.36h2.61v2.61h-2.61zM780.18 285.61h2.61v2.61h-2.61zM772.43 283.03h2.61v2.61h-2.61zM782.77 283.03h2.61v2.61h-2.61zM769.85 280.44h2.61v2.61h-2.61zM769.85 277.86h2.61v2.61h-2.61zM772.43 272.69h2.61v2.61h-2.61zM782.77 264.95h2.61v2.61h-2.61zM782.77 262.36h2.61v2.61h-2.61zM769.85 259.78h2.61v2.61h-2.61zM769.85 254.62h2.61v2.61h-2.61zM782.77 254.62h2.61v2.61h-2.61zM782.77 252.03h2.61v2.61h-2.61zM769.85 249.45h2.61v2.61h-2.61zM782.77 249.45h2.61v2.61h-2.61zM782.77 246.87h2.61v2.61h-2.61zM782.77 244.28h2.61v2.61h-2.61zM767.27 239.12h2.61v2.61h-2.61zM785.35 236.54h2.61v2.61h-2.61zM798.26 231.37h2.61v2.61h-2.61zM816.34 187.46h2.61v2.61h-2.61z"/><path fill="#fff7d4" d="M808.59 417.33h2.61v2.61h-2.61zM772.43 306.27h2.61v2.61h-2.61zM772.43 303.69h2.61v2.61h-2.61zM772.43 301.11h2.61v2.61h-2.61zM772.43 298.52h2.61v2.61h-2.61zM777.6 295.94h2.61v2.61h-2.61zM777.6 290.77h2.61v2.61h-2.61zM772.43 288.19h2.61v2.61h-2.61zM780.18 283.03h2.61v2.61h-2.61zM772.43 280.44h2.61v2.61h-2.61zM782.77 280.44h2.61v2.61h-2.61zM780.18 277.86h2.61v2.61h-2.61zM772.43 275.28h2.61v2.61h-2.61zM769.85 270.11h2.61v2.61h-2.61zM780.18 267.53h2.61v2.61h-2.61zM772.43 257.2h2.61v2.61h-2.61zM780.18 257.2h2.61v2.61h-2.61zM772.43 254.62h2.61v2.61h-2.61zM769.85 252.03h2.61v2.61h-2.61zM769.85 246.87h2.61v2.61h-2.61zM769.85 244.28h2.61v2.61h-2.61zM769.85 241.7h2.61v2.61h-2.61zM780.18 241.7h2.61v2.61h-2.61zM782.77 239.12h2.61v2.61h-2.61zM769.85 236.54h2.61v2.61h-2.61zM816.34 208.13h2.61v2.61h-2.61z"/><path fill="#fff6d5" d="M767.27 401.83h2.61v2.61h-2.61zM777.6 316.6h2.61v2.61h-2.61zM777.6 298.52h2.61v2.61h-2.61zM777.6 288.19h2.61v2.61h-2.61zM772.43 285.61h2.61v2.61h-2.61zM780.18 280.44h2.61v2.61h-2.61zM772.43 277.86h2.61v2.61h-2.61zM780.18 272.69h2.61v2.61h-2.61zM772.43 270.11h2.61v2.61h-2.61zM780.18 270.11h2.61v2.61h-2.61zM772.43 267.53h2.61v2.61h-2.61zM772.43 264.95h2.61v2.61h-2.61zM780.18 264.95h2.61v2.61h-2.61zM772.43 262.36h2.61v2.61h-2.61zM780.18 262.36h2.61v2.61h-2.61zM780.18 259.78h2.61v2.61h-2.61zM780.18 254.62h2.61v2.61h-2.61zM780.18 252.03h2.61v2.61h-2.61zM772.43 249.45h2.61v2.61h-2.61zM780.18 249.45h2.61v2.61h-2.61zM780.18 244.28h2.61v2.61h-2.61zM769.85 239.12h2.61v2.61h-2.61zM780.18 239.12h2.61v2.61h-2.61zM782.77 236.54h2.61v2.61h-2.61z"/><path fill="#fff4d7" d="M775.02 321.77h2.61v2.61h-2.61zM775.02 319.19h2.61v2.61h-2.61zM777.6 314.02h2.61v2.61h-2.61zM777.6 306.27h2.61v2.61h-2.61zM777.6 301.11h2.61v2.61h-2.61zM775.02 290.77h2.61v2.61h-2.61zM775.02 288.19h2.61v2.61h-2.61zM777.6 285.61h2.61v2.61h-2.61zM775.02 283.03h5.2v2.61h-5.2zM777.6 275.28h5.2v2.61h-5.2zM775.02 272.69h2.61v2.61h-2.61zM777.6 270.11h2.61v2.61h-2.61zM777.6 262.36h2.61v2.61h-2.61zM772.43 259.78h2.61v2.61h-2.61zM775.02 257.2h2.61v2.61h-2.61zM772.43 252.03h2.61v2.61h-2.61zM772.43 246.87h2.61v2.61h-2.61zM780.18 246.87h2.61v2.61h-2.61zM772.43 244.28h2.61v2.61h-2.61zM772.43 241.7h2.61v2.61h-2.61zM772.43 236.54h2.61v2.61h-2.61zM780.18 236.54h2.61v2.61h-2.61zM803.43 226.2h2.61v2.61h-2.61z"/><path fill="#fff3d8" d="M775.02 401.83h2.61v2.61h-2.61zM777.6 308.85h2.61v2.61h-2.61zM777.6 303.69h2.61v2.61h-2.61zM775.02 295.94h2.61v2.61h-2.61zM775.02 293.36h2.61v2.61h-2.61zM775.02 285.61h2.61v2.61h-2.61zM775.02 280.44h5.2v2.61h-5.2zM775.02 277.86h5.2v2.61h-5.2zM775.02 275.28h2.61v2.61h-2.61zM777.6 272.69h2.61v2.61h-2.61zM775.02 270.11h2.61v2.61h-2.61zM777.6 267.53h2.61v2.61h-2.61zM775.02 264.95h2.61v2.61h-2.61zM775.02 262.36h2.61v2.61h-2.61zM775.02 259.78h5.2v2.61h-5.2zM777.6 257.2h2.61v2.61h-2.61zM777.6 252.03h2.61v2.61h-2.61zM775.02 249.45h5.2v2.61h-5.2zM777.6 246.87h2.61v2.61h-2.61zM777.6 244.28h2.61v2.61h-2.61zM777.6 241.7h2.61v2.61h-2.61zM772.43 239.12h7.78v2.61h-7.78zM775.02 236.54h2.61v2.61h-2.61z"/><path fill="#fff2d9" d="M775.02 267.53h2.61v2.61h-2.61zM777.6 264.95h2.61v2.61h-2.61zM775.02 254.62h5.2v2.61h-5.2zM775.02 252.03h2.61v2.61h-2.61zM775.02 246.87h2.61v2.61h-2.61zM775.02 244.28h2.61v2.61h-2.61zM775.02 241.7h2.61v2.61h-2.61zM777.6 236.54h2.61v2.61h-2.61z"/><path fill="#ffedde" d="M775.02 308.85h2.61v2.61h-2.61zM775.02 306.27h2.61v2.61h-2.61zM775.02 303.69h2.61v2.61h-2.61zM775.02 301.11h2.61v2.61h-2.61zM775.02 298.52h2.61v2.61h-2.61z"/><path fill="#ffecdf" d="M754.35 409.58h2.61v2.61h-2.61zM759.52 407h2.61v2.61h-2.61zM764.69 404.42h7.78v2.61h-7.78zM782.77 404.42h5.2v2.61h-5.2zM764.69 233.95h2.61v2.61h-2.61zM785.35 233.95h5.2v2.61h-5.2zM756.94 231.37h2.61v2.61h-2.61zM793.1 231.37h2.61v2.61h-2.61z"/><path fill="#ffeae1" d="M744.02 417.33h2.61v2.61h-2.61zM803.43 414.75h2.61v2.61h-2.61zM800.85 412.17h2.61v2.61h-2.61zM780.18 404.42h2.61v2.61h-2.61zM767.27 233.95h5.2v2.61h-5.2zM782.77 233.95h2.61v2.61h-2.61zM798.26 228.79h2.61v2.61h-2.61zM749.19 226.2h2.61v2.61h-2.61zM746.61 223.62h2.61v2.61h-2.61z"/><path fill="#ffe9e2" d="M813.76 427.66h2.61v2.61h-2.61zM738.86 425.08h2.61v2.61h-2.61zM741.44 422.5h2.61v2.61h-2.61zM811.18 422.5h2.61v2.61h-2.61zM808.59 419.91h2.61v2.61h-2.61zM806.01 417.33h2.61v2.61h-2.61zM751.77 412.17h2.61v2.61h-2.61zM790.51 407h2.61v2.61h-2.61zM777.6 404.42h2.61v2.61h-2.61zM780.18 233.95h2.61v2.61h-2.61zM759.52 231.37h2.61v2.61h-2.61zM754.35 228.79h2.61v2.61h-2.61zM800.85 226.2h2.61v2.61h-2.61zM811.18 215.87h2.61v2.61h-2.61zM738.86 213.29h2.61v2.61h-2.61zM813.76 210.71h2.61v2.61h-2.61z"/><path fill="#ffe7e4" d="M816.34 437.99h2.61v2.61h-2.61zM736.28 435.41h2.61v2.61h-2.61zM736.28 432.83h2.61v2.61h-2.61zM813.76 430.25h2.61v2.61h-2.61zM738.86 427.66h2.61v2.61h-2.61zM775.02 419.91h2.61v2.61h-2.61zM782.77 419.91h2.61v2.61h-2.61zM795.68 409.58h2.61v2.61h-2.61zM762.1 407h2.61v2.61h-2.61zM772.43 233.95h2.61v2.61h-2.61zM777.6 233.95h2.61v2.61h-2.61zM790.51 231.37h2.61v2.61h-2.61zM803.43 223.62h2.61v2.61h-2.61zM808.59 218.46h2.61v2.61h-2.61zM775.02 215.87h2.61v2.61h-2.61zM782.77 215.87h2.61v2.61h-2.61zM736.28 205.54h2.61v2.61h-2.61zM736.28 202.96h2.61v2.61h-2.61z"/><path fill="#ffe6e5" d="M816.34 445.74h2.61v2.61h-2.61zM816.34 443.16h2.61v2.61h-2.61zM816.34 440.58h2.61v2.61h-2.61zM811.18 425.08h2.61v2.61h-2.61zM744.02 419.91h2.61v2.61h-2.61zM777.6 419.91h2.61v2.61h-2.61zM749.19 414.75h2.61v2.61h-2.61zM756.94 409.58h2.61v2.61h-2.61zM764.69 407h2.61v2.61h-2.61zM787.93 407h2.61v2.61h-2.61zM775.02 233.95h2.61v2.61h-2.61zM762.1 231.37h2.61v2.61h-2.61zM795.68 228.79h2.61v2.61h-2.61zM806.01 221.04h2.61v2.61h-2.61zM741.44 215.87h2.61v2.61h-2.61zM777.6 215.87h2.61v2.61h-2.61zM813.76 208.13h2.61v2.61h-2.61zM816.34 200.38h2.61v2.61h-2.61zM816.34 197.79h2.61v2.61h-2.61zM816.34 195.21h2.61v2.61h-2.61zM816.34 192.63h2.61v2.61h-2.61z"/><path fill="#ffe4e7" d="M813.76 456.07h2.61v2.61h-2.61zM736.28 450.91h2.61v2.61h-2.61zM736.28 448.32h2.61v2.61h-2.61zM813.76 432.83h2.61v2.61h-2.61zM767.27 419.91h2.61v2.61h-2.61zM746.61 417.33h2.61v2.61h-2.61zM754.35 412.17h12.94v2.61h-12.94zM785.35 412.17h15.53v2.61h-15.53zM759.52 409.58h36.19v2.61h-36.19zM767.27 407h20.69v2.61h-20.69zM764.69 231.37h25.86v2.61h-25.86zM756.94 228.79h38.77v2.61h-38.77zM751.77 226.2h10.36v2.61h-10.36zM790.51 226.2h10.36v2.61h-10.36zM746.61 221.04h2.61v2.61h-2.61zM744.02 218.46h2.61v2.61h-2.61zM767.27 215.87h2.61v2.61h-2.61zM811.18 213.29h2.61v2.61h-2.61zM738.86 210.71h2.61v2.61h-2.61zM736.28 187.46h2.61v2.61h-2.61z"/><path fill="#ffe3e8" d="M741.44 461.24h2.61v2.61h-2.61zM736.28 443.16h2.61v2.61h-2.61zM736.28 440.58h2.61v2.61h-2.61zM736.28 437.99h2.61v2.61h-2.61zM738.86 430.25h2.61v2.61h-2.61zM741.44 425.08h2.61v2.61h-2.61zM744.02 422.5h2.61v2.61h-2.61zM806.01 422.5h5.2v2.61h-5.2zM746.61 419.91h18.11v2.61h-18.11zM787.93 419.91h20.69v2.61h-20.69zM749.19 417.33h56.85v2.61h-56.85zM751.77 414.75h51.69v2.61h-51.69zM767.27 412.17h18.11v2.61h-18.11zM762.1 226.2h28.44v2.61h-28.44zM749.19 223.62h54.27v2.61h-54.27zM749.19 221.04h56.85v2.61h-56.85zM746.61 218.46h12.94v2.61h-12.94zM795.68 218.46h12.94v2.61h-12.94zM744.02 215.87h2.61v2.61h-2.61zM808.59 215.87h2.61v2.61h-2.61zM813.76 205.54h2.61v2.61h-2.61zM736.28 200.38h2.61v2.61h-2.61zM736.28 197.79h2.61v2.61h-2.61zM736.28 192.63h2.61v2.61h-2.61zM736.28 190.05h2.61v2.61h-2.61zM813.76 184.88h2.61v2.61h-2.61zM738.86 182.3h2.61v2.61h-2.61zM738.86 179.71h2.61v2.61h-2.61zM741.44 177.13h2.61v2.61h-2.61zM808.59 174.55h2.61v2.61h-2.61z"/><path fill="#ffe1ea" d="M798.26 474.15h2.61v2.61h-2.61zM749.19 471.57h2.61v2.61h-2.61zM803.43 468.99h2.61v2.61h-2.61zM744.02 466.4h2.61v2.61h-2.61zM808.59 463.82h2.61v2.61h-2.61zM738.86 456.07h2.61v2.61h-2.61zM813.76 453.49h2.61v2.61h-2.61zM736.28 445.74h2.61v2.61h-2.61zM813.76 435.41h2.61v2.61h-2.61zM741.44 430.25h7.78v2.61h-7.78zM806.01 430.25h7.78v2.61h-7.78zM741.44 427.66h72.35v2.61h-72.35zM744.02 425.08h67.18v2.61h-67.18zM746.61 422.5h59.43v2.61h-59.43zM764.69 419.91h2.61v2.61h-2.61zM769.85 419.91h5.2v2.61h-5.2zM780.18 419.91h2.61v2.61h-2.61zM785.35 419.91h2.61v2.61h-2.61zM759.52 218.46h36.19v2.61h-36.19zM746.61 215.87h20.69v2.61h-20.69zM769.85 215.87h5.2v2.61h-5.2zM780.18 215.87h2.61v2.61h-2.61zM785.35 215.87h23.28v2.61h-23.28zM741.44 213.29h69.77v2.61h-69.77zM741.44 210.71h72.35v2.61h-72.35zM738.86 208.13h7.78v2.61h-7.78zM808.59 208.13h5.2v2.61h-5.2zM736.28 195.21h2.61v2.61h-2.61zM813.76 187.46h2.61v2.61h-2.61zM803.43 169.38h2.61v2.61h-2.61zM800.85 166.8h2.61v2.61h-2.61zM754.35 164.22h2.61v2.61h-2.61z"/><path fill="#ffe0eb" d="M767.27 479.32h2.61v2.61h-2.61zM782.77 479.32h5.2v2.61h-5.2zM759.52 476.74h2.61v2.61h-2.61zM793.1 476.74h2.61v2.61h-2.61zM754.35 474.15h2.61v2.61h-2.61zM800.85 471.57h2.61v2.61h-2.61zM806.01 466.4h2.61v2.61h-2.61zM811.18 458.66h2.61v2.61h-2.61zM738.86 440.58h2.61v2.61h-2.61zM811.18 440.58h5.2v2.61h-5.2zM738.86 437.99h15.53v2.61h-15.53zM800.85 437.99h15.53v2.61h-15.53zM738.86 435.41h74.93v2.61h-74.93zM738.86 432.83h74.93v2.61h-74.93zM749.19 430.25h56.85v2.61h-56.85zM746.61 208.13h62.02v2.61h-62.02zM738.86 205.54h74.93v2.61h-74.93zM738.86 202.96h77.51v2.61h-77.51zM738.86 200.38h10.36v2.61h-10.36zM803.43 200.38h12.94v2.61h-12.94zM738.86 197.79h2.61v2.61h-2.61zM813.76 197.79h2.61v2.61h-2.61zM813.76 190.05h2.61v2.61h-2.61zM738.86 184.88h2.61v2.61h-2.61zM811.18 179.71h2.61v2.61h-2.61zM744.02 174.55h2.61v2.61h-2.61zM806.01 171.97h2.61v2.61h-2.61zM759.52 161.63h2.61v2.61h-2.61zM767.27 159.05h5.2v2.61h-5.2zM777.6 159.05h7.78v2.61h-7.78z"/><path fill="#ffdeed" d="M772.43 479.32h2.61v2.61h-2.61zM777.6 479.32h2.61v2.61h-2.61zM744.02 463.82h2.61v2.61h-2.61zM738.86 453.49h2.61v2.61h-2.61zM738.86 450.91h2.61v2.61h-2.61zM813.76 450.91h2.61v2.61h-2.61zM738.86 448.32h10.36v2.61h-10.36zM806.01 448.32h10.36v2.61h-10.36zM738.86 445.74h77.51v2.61h-77.51zM738.86 443.16h77.51v2.61h-77.51zM741.44 440.58h69.77v2.61h-69.77zM754.35 437.99h46.52v2.61h-46.52zM749.19 200.38h54.27v2.61h-54.27zM741.44 197.79h72.35v2.61h-72.35zM738.86 195.21h77.51v2.61h-77.51zM738.86 192.63h77.51v2.61h-77.51zM738.86 190.05h7.78v2.61h-7.78zM808.59 190.05h5.2v2.61h-5.2zM741.44 179.71h2.61v2.61h-2.61zM746.61 171.97h2.61v2.61h-2.61zM751.77 166.8h2.61v2.61h-2.61zM795.68 164.22h2.61v2.61h-2.61zM762.1 161.63h2.61v2.61h-2.61zM790.51 161.63h2.61v2.61h-2.61zM772.43 159.05h5.2v2.61h-5.2z"/><path fill="#ffddee" d="M769.85 479.32h2.61v2.61h-2.61zM775.02 479.32h2.61v2.61h-2.61zM780.18 479.32h2.61v2.61h-2.61zM795.68 474.15h2.61v2.61h-2.61zM751.77 471.57h2.61v2.61h-2.61zM749.19 468.99h2.61v2.61h-2.61zM746.61 466.4h2.61v2.61h-2.61zM808.59 461.24h2.61v2.61h-2.61zM741.44 458.66h7.78v2.61h-7.78zM806.01 458.66h5.2v2.61h-5.2zM741.44 456.07h23.28v2.61h-23.28zM790.51 456.07h23.28v2.61h-23.28zM741.44 453.49h72.35v2.61h-72.35zM741.44 450.91h72.35v2.61h-72.35zM749.19 448.32h56.85v2.61h-56.85zM746.61 190.05h62.02v2.61h-62.02zM738.86 187.46h74.93v2.61h-74.93zM741.44 184.88h72.35v2.61h-72.35zM741.44 182.3h15.53v2.61h-15.53zM795.68 182.3h18.11v2.61h-18.11zM744.02 179.71h2.61v2.61h-2.61zM806.01 179.71h5.2v2.61h-5.2zM808.59 177.13h2.61v2.61h-2.61zM749.19 169.38h2.61v2.61h-2.61zM798.26 166.8h2.61v2.61h-2.61z"/><path fill="#ffdcef" d="M762.1 476.74h2.61v2.61h-2.61zM790.51 476.74h2.61v2.61h-2.61zM756.94 474.15h2.61v2.61h-2.61zM798.26 471.57h2.61v2.61h-2.61zM751.77 468.99h2.61v2.61h-2.61zM800.85 468.99h2.61v2.61h-2.61zM749.19 466.4h15.53v2.61h-15.53zM787.93 466.4h18.11v2.61h-18.11zM746.61 463.82h62.02v2.61h-62.02zM744.02 461.24h64.6v2.61h-64.6zM749.19 458.66h56.85v2.61h-56.85zM764.69 456.07h25.86v2.61h-25.86zM756.94 182.3h38.77v2.61h-38.77zM746.61 179.71h59.43v2.61h-59.43zM744.02 177.13h64.6v2.61h-64.6zM746.61 174.55h62.02v2.61h-62.02zM749.19 171.97h12.94v2.61h-12.94zM793.1 171.97h12.94v2.61h-12.94zM800.85 169.38h2.61v2.61h-2.61zM756.94 164.22h2.61v2.61h-2.61zM787.93 161.63h2.61v2.61h-2.61z"/><path fill="#fddaf1" d="M764.69 476.74h5.2v2.61h-5.2zM785.35 476.74h5.2v2.61h-5.2zM759.52 474.15h2.61v2.61h-2.61zM793.1 474.15h2.61v2.61h-2.61zM754.35 471.57h2.61v2.61h-2.61zM795.68 471.57h2.61v2.61h-2.61zM754.35 468.99h2.61v2.61h-2.61zM795.68 468.99h5.2v2.61h-5.2zM764.69 466.4h23.28v2.61h-23.28zM762.1 171.97h31.02v2.61h-31.02zM751.77 169.38h5.2v2.61h-5.2zM795.68 169.38h5.2v2.61h-5.2zM754.35 166.8h2.61v2.61h-2.61zM795.68 166.8h2.61v2.61h-2.61zM759.52 164.22h2.61v2.61h-2.61zM793.1 164.22h2.61v2.61h-2.61zM764.69 161.63h7.78v2.61h-7.78zM782.77 161.63h5.2v2.61h-5.2z"/><path fill="#fad8f3" d="M782.77 476.74h2.61v2.61h-2.61zM790.51 164.22h2.61v2.61h-2.61zM772.43 161.63h2.61v2.61h-2.61zM777.6 161.63h5.2v2.61h-5.2z"/><path fill="#f9d7f4" d="M769.85 476.74h5.2v2.61h-5.2zM780.18 476.74h2.61v2.61h-2.61zM790.51 474.15h2.61v2.61h-2.61zM756.94 166.8h2.61v2.61h-2.61zM762.1 164.22h2.61v2.61h-2.61zM775.02 161.63h2.61v2.61h-2.61z"/><path fill="#f6d6f5" d="M775.02 476.74h5.2v2.61h-5.2zM762.1 474.15h2.61v2.61h-2.61zM756.94 471.57h2.61v2.61h-2.61zM787.93 164.22h2.61v2.61h-2.61z"/><path fill="#f4d4f7" d="M787.93 474.15h2.61v2.61h-2.61zM793.1 166.8h2.61v2.61h-2.61zM764.69 164.22h2.61v2.61h-2.61z"/><path fill="#f2d3f8" d="M764.69 474.15h2.61v2.61h-2.61zM793.1 471.57h2.61v2.61h-2.61zM759.52 166.8h2.61v2.61h-2.61zM785.35 164.22h2.61v2.61h-2.61z"/><path fill="#efd1fa" d="M785.35 474.15h2.61v2.61h-2.61zM759.52 471.57h33.61v2.61h-33.61zM756.94 468.99h38.77v2.61h-38.77zM756.94 169.38h38.77v2.61h-38.77zM762.1 166.8h5.2v2.61h-5.2zM787.93 166.8h5.2v2.61h-5.2zM767.27 164.22h2.61v2.61h-2.61z"/><path fill="#edd0fb" d="M767.27 474.15h18.11v2.61h-18.11zM767.27 166.8h20.69v2.61h-20.69zM769.85 164.22h15.53v2.61h-15.53z"/></g><defs><pattern id="dots" patternUnits="userSpaceOnUse" x="555.08" y="99.25" width="2.58" height="2.58"><rect x="0" y="0" width="0.8" height="0.8" fill="#e0407f" fill-opacity="0.11"/></pattern></defs><ellipse cx="777.08" cy="198.22" rx="38.22" ry="36.15" fill="url(#dots)"/><ellipse cx="777.08" cy="443.23" rx="38.22" ry="36.15" fill="url(#dots)"/> <g id="matplotlib.axis_1"> <g id="xtick_16"> <g shape-rendering="crispEdges" id="line2d_19"> <defs> <path id="m1504cfccaf" d="M 0 0 L 0 3.5 " style="stroke: #000000; stroke-width: 0.72"/> </defs> <g> <use href="#m1504cfccaf" x="570.43" y="543.88" style="stroke: #000000; stroke-width: 0.8"/> </g> </g> <g id="text_22"> <text style="font-size: 10px; font-family: 'DejaVu Sans','Liberation Sans',sans-serif; text-anchor: middle" x="570.43" y="558.48" transform="rotate(-0 570.43 558.48)">−80</text> </g> </g> <g id="xtick_17"> <g shape-rendering="crispEdges" id="line2d_20"> <g> <use href="#m1504cfccaf" x="622.07" y="543.88" style="stroke: #000000; stroke-width: 0.8"/> </g> </g> <g id="text_23"> <text style="font-size: 10px; font-family: 'DejaVu Sans','Liberation Sans',sans-serif; text-anchor: middle" x="622.07" y="558.48" transform="rotate(-0 622.07 558.48)">−60</text> </g> </g> <g id="xtick_18"> <g shape-rendering="crispEdges" id="line2d_21"> <g> <use href="#m1504cfccaf" x="673.71" y="543.88" style="stroke: #000000; stroke-width: 0.8"/> </g> </g> <g id="text_24"> <text style="font-size: 10px; font-family: 'DejaVu Sans','Liberation Sans',sans-serif; text-anchor: middle" x="673.71" y="558.48" transform="rotate(-0 673.71 558.48)">−40</text> </g> </g> <g id="xtick_19"> <g shape-rendering="crispEdges" id="line2d_22"> <g> <use href="#m1504cfccaf" x="725.36" y="543.88" style="stroke: #000000; stroke-width: 0.8"/> </g> </g> <g id="text_25"> <text style="font-size: 10px; font-family: 'DejaVu Sans','Liberation Sans',sans-serif; text-anchor: middle" x="725.36" y="558.48" transform="rotate(-0 725.36 558.48)">−20</text> </g> </g> <g id="xtick_20"> <g shape-rendering="crispEdges" id="line2d_23"> <g> <use href="#m1504cfccaf" x="777.00" y="543.88" style="stroke: #000000; stroke-width: 0.8"/> </g> </g> <g id="text_26"> <text style="font-size: 10px; font-family: 'DejaVu Sans','Liberation Sans',sans-serif; text-anchor: middle" x="777.00" y="558.48" transform="rotate(-0 777.00 558.48)">0</text> </g> </g> <g id="xtick_21"> <g shape-rendering="crispEdges" id="line2d_24"> <g> <use href="#m1504cfccaf" x="828.64" y="543.88" style="stroke: #000000; stroke-width: 0.8"/> </g> </g> <g id="text_27"> <text style="font-size: 10px; font-family: 'DejaVu Sans','Liberation Sans',sans-serif; text-anchor: middle" x="828.64" y="558.48" transform="rotate(-0 828.64 558.48)">20</text> </g> </g> <g id="xtick_22"> <g shape-rendering="crispEdges" id="line2d_25"> <g> <use href="#m1504cfccaf" x="880.29" y="543.88" style="stroke: #000000; stroke-width: 0.8"/> </g> </g> <g id="text_28"> <text style="font-size: 10px; font-family: 'DejaVu Sans','Liberation Sans',sans-serif; text-anchor: middle" x="880.29" y="558.48" transform="rotate(-0 880.29 558.48)">40</text> </g> </g> <g id="xtick_23"> <g shape-rendering="crispEdges" id="line2d_26"> <g> <use href="#m1504cfccaf" x="931.93" y="543.88" style="stroke: #000000; stroke-width: 0.8"/> </g> </g> <g id="text_29"> <text style="font-size: 10px; font-family: 'DejaVu Sans','Liberation Sans',sans-serif; text-anchor: middle" x="931.93" y="558.48" transform="rotate(-0 931.93 558.48)">60</text> </g> </g> <g id="xtick_24"> <g shape-rendering="crispEdges" id="line2d_27"> <g> <use href="#m1504cfccaf" x="983.58" y="543.88" style="stroke: #000000; stroke-width: 0.8"/> </g> </g> <g id="text_30"> <text style="font-size: 10px; font-family: 'DejaVu Sans','Liberation Sans',sans-serif; text-anchor: middle" x="983.58" y="558.48" transform="rotate(-0 983.58 558.48)">80</text> </g> </g> <g id="text_31" transform="translate(-0.72 0.00)"> <text style="font-size: 10px; font-family: 'DejaVu Sans','Liberation Sans',sans-serif; text-anchor: middle" x="777.6" y="572.16" transform="rotate(-0 777.6 572.16)">Offset (pixels)</text> </g> </g> <g id="matplotlib.axis_2"> <g id="ytick_1"> <g shape-rendering="crispEdges" id="line2d_28"> <defs> <path id="m5d545ce8f8" d="M 0 0 L -3.5 0 " style="stroke: #000000; stroke-width: 0.72"/> </defs> <g> <use href="#m5d545ce8f8" x="555.48" y="527.90" style="stroke: #000000; stroke-width: 0.8"/> </g> </g> <g id="text_32"> <text style="font-size: 10px; font-family: 'DejaVu Sans','Liberation Sans',sans-serif; text-anchor: end" x="548.48" y="531.70" transform="rotate(-0 548.48 531.70)">−80</text> </g> </g> <g id="ytick_2"> <g shape-rendering="crispEdges" id="line2d_29"> <g> <use href="#m5d545ce8f8" x="555.48" y="476.27" style="stroke: #000000; stroke-width: 0.8"/> </g> </g> <g id="text_33"> <text style="font-size: 10px; font-family: 'DejaVu Sans','Liberation Sans',sans-serif; text-anchor: end" x="548.48" y="480.07" transform="rotate(-0 548.48 480.07)">−60</text> </g> </g> <g id="ytick_3"> <g shape-rendering="crispEdges" id="line2d_30"> <g> <use href="#m5d545ce8f8" x="555.48" y="424.63" style="stroke: #000000; stroke-width: 0.8"/> </g> </g> <g id="text_34"> <text style="font-size: 10px; font-family: 'DejaVu Sans','Liberation Sans',sans-serif; text-anchor: end" x="548.48" y="428.43" transform="rotate(-0 548.48 428.43)">−40</text> </g> </g> <g id="ytick_4"> <g shape-rendering="crispEdges" id="line2d_31"> <g> <use href="#m5d545ce8f8" x="555.48" y="373.00" style="stroke: #000000; stroke-width: 0.8"/> </g> </g> <g id="text_35"> <text style="font-size: 10px; font-family: 'DejaVu Sans','Liberation Sans',sans-serif; text-anchor: end" x="548.48" y="376.80" transform="rotate(-0 548.48 376.80)">−20</text> </g> </g> <g id="ytick_5"> <g shape-rendering="crispEdges" id="line2d_32"> <g> <use href="#m5d545ce8f8" x="555.48" y="321.36" style="stroke: #000000; stroke-width: 0.8"/> </g> </g> <g id="text_36"> <text style="font-size: 10px; font-family: 'DejaVu Sans','Liberation Sans',sans-serif; text-anchor: end" x="548.48" y="325.16" transform="rotate(-0 548.48 325.16)">0</text> </g> </g> <g id="ytick_6"> <g shape-rendering="crispEdges" id="line2d_33"> <g> <use href="#m5d545ce8f8" x="555.48" y="269.73" style="stroke: #000000; stroke-width: 0.8"/> </g> </g> <g id="text_37"> <text style="font-size: 10px; font-family: 'DejaVu Sans','Liberation Sans',sans-serif; text-anchor: end" x="548.48" y="273.53" transform="rotate(-0 548.48 273.53)">20</text> </g> </g> <g id="ytick_7"> <g shape-rendering="crispEdges" id="line2d_34"> <g> <use href="#m5d545ce8f8" x="555.48" y="218.09" style="stroke: #000000; stroke-width: 0.8"/> </g> </g> <g id="text_38"> <text style="font-size: 10px; font-family: 'DejaVu Sans','Liberation Sans',sans-serif; text-anchor: end" x="548.48" y="221.89" transform="rotate(-0 548.48 221.89)">40</text> </g> </g> <g id="ytick_8"> <g shape-rendering="crispEdges" id="line2d_35"> <g> <use href="#m5d545ce8f8" x="555.48" y="166.46" style="stroke: #000000; stroke-width: 0.8"/> </g> </g> <g id="text_39"> <text style="font-size: 10px; font-family: 'DejaVu Sans','Liberation Sans',sans-serif; text-anchor: end" x="548.48" y="170.26" transform="rotate(-0 548.48 170.26)">60</text> </g> </g> <g id="ytick_9"> <g shape-rendering="crispEdges" id="line2d_36"> <g> <use href="#m5d545ce8f8" x="555.48" y="114.82" style="stroke: #000000; stroke-width: 0.8"/> </g> </g> <g id="text_40"> <text style="font-size: 10px; font-family: 'DejaVu Sans','Liberation Sans',sans-serif; text-anchor: end" x="548.48" y="118.62" transform="rotate(-0 548.48 118.62)">80</text> </g> </g> <g id="text_41" transform="translate(-1.44 0.00)"> <text style="font-size: 10px; font-family: 'DejaVu Sans','Liberation Sans',sans-serif; text-anchor: middle" x="521.29" y="321.76" transform="rotate(-90 521.29 321.76)">Offset (pixels)</text> </g> </g> <g id="QuadContourSet_1"> <path d="M 772.44 484.48 L 775.01 482.06 L 777.43 482.06 M 777.76 482.06 L 785.49 482.05 M 759.67 479.47 L 764.68 479.49 L 767.26 482.05 L 769.85 483.93 L 771.81 484.48 M 788.11 479.49 L 793.09 479.46 L 795.67 476.89 L 798.26 476.88 L 808.73 466.54 M 749.18 474.29 L 752.34 476.73 L 754.35 476.88 L 756.76 476.91 M 811.12 463.87 L 811.17 463.77 L 813.75 460.86 M 813.89 458.52 L 813.91 450.90 L 816.46 448.32 L 816.46 443.27 M 734.21 452.96 L 734.21 453.48 L 736.27 453.61 L 738.69 456.07 L 738.71 458.65 L 741.27 461.23 L 741.30 463.82 L 743.86 466.40 L 743.88 468.98 L 744.02 469.12 L 746.60 469.15 L 749.02 471.56 L 749.04 474.00 M 736.14 443.29 L 736.14 450.77 M 816.46 443.04 L 816.45 440.57 L 813.90 437.99 L 813.88 435.54 M 736.16 435.52 L 736.14 443.02 M 813.88 435.28 L 813.75 430.13 L 811.29 427.66 L 811.17 424.97 L 808.69 422.49 L 808.59 419.88 L 806.11 419.80 M 803.52 417.23 L 803.42 417.23 L 800.84 414.65 L 798.26 414.62 L 795.67 412.05 L 793.09 412.03 L 790.51 409.47 L 787.93 409.46 L 785.34 406.91 L 780.18 406.89 L 776.44 404.41 M 754.26 412.16 L 746.60 419.78 L 743.92 419.91 L 743.90 422.49 L 738.75 427.66 L 738.72 432.82 L 736.16 435.29 M 767.23 404.41 L 762.10 409.47 L 759.43 409.58 L 756.93 412.04 L 754.44 412.07 M 773.73 403.13 L 773.74 404.41 L 775.01 405.58 L 775.92 406.99 L 775.01 407.79 L 772.43 407.67 L 771.56 406.99 L 769.85 405.39 L 768.19 404.41 M 778.76 319.18 L 779.40 316.60 L 778.51 314.01 L 780.67 311.43 L 780.18 310.34 L 779.33 308.85 L 780.89 306.27 L 780.18 305.38 L 779.12 303.68 L 778.96 298.52 L 777.60 297.51 L 776.43 295.93 L 778.44 293.35 L 778.58 290.77 L 780.18 288.94 L 781.01 288.19 L 783.49 285.60 L 784.16 283.02 L 782.76 281.76 L 781.58 280.44 L 781.98 279.85 M 783.64 257.47 L 783.87 257.19 L 783.69 254.61 L 783.37 252.03 L 783.61 249.44 L 783.56 246.86 L 782.76 246.12 L 781.04 244.28 L 783.62 241.70 L 785.34 239.80 L 786.18 239.11 L 787.93 238.39 L 788.01 236.62 M 756.93 234.04 L 762.10 234.06 L 764.59 236.53 L 764.68 238.26 L 767.26 238.63 L 768.47 239.11 L 767.26 240.74 L 766.73 241.70 L 766.78 244.28 L 766.72 246.86 L 766.87 249.44 L 767.26 250.13 L 767.76 250.70 M 770.54 270.97 L 769.85 271.74 L 768.83 272.69 L 769.85 273.51 L 771.74 275.27 L 771.09 277.86 L 769.85 279.59 L 768.75 280.44 L 769.15 283.02 L 771.74 285.60 L 771.27 288.19 L 769.85 290.29 L 769.24 290.77 L 769.85 291.15 L 772.43 291.75 L 773.84 293.35 L 772.43 295.26 L 771.66 295.93 L 771.83 298.52 L 771.28 301.10 L 771.10 303.68 L 771.66 306.27 L 771.08 308.85 L 772.43 310.04 L 773.07 311.43 L 775.01 313.12 L 776.80 314.01 L 776.27 316.60 L 776.47 319.18 L 775.01 320.52 M 792.42 235.86 L 793.09 235.72 L 793.18 233.95 L 795.67 231.49 L 798.24 233.96 M 798.27 233.93 L 798.35 231.36 L 800.84 228.88 L 803.46 228.78 L 803.53 226.20 L 811.28 218.45 L 811.30 215.87 L 816.34 210.73 M 816.37 210.67 L 816.34 210.67 L 813.89 208.12 L 816.34 204.94 L 816.45 202.95 L 816.46 195.08 M 816.35 190.06 L 816.34 190.02 L 811.34 184.87 L 811.32 182.29 L 808.76 179.71 L 808.73 177.26 M 808.73 176.99 L 808.59 176.99 L 806.15 174.54 L 806.01 172.30 L 805.66 171.96 L 803.29 169.38 L 800.84 169.23 L 798.26 169.21 L 795.67 166.64 L 793.27 166.62 M 759.37 164.06 L 759.37 164.21 L 756.93 166.62 L 754.35 166.65 L 738.72 182.29 L 738.70 187.46 L 736.14 190.04 L 736.16 208.12 L 736.27 210.15 L 738.73 213.29 L 738.85 215.97 L 746.47 223.62 L 746.60 226.30 L 749.18 228.88 L 751.64 228.91 M 790.67 164.05 L 785.53 164.03 M 772.27 161.47 L 767.26 161.48 L 764.68 164.03 L 759.66 164.06 M 777.44 161.48 L 772.59 161.47 M 782.91 161.48 L 777.75 161.48 L 777.75 161.48 " clip-path="url(#pdf202ce1c5)" style="fill: none; stroke: #ffee11; stroke-width: 1.5"/> </g> <g id="QuadContourSet_2"> <path d="M 777.69 481.99 L 780.18 482.00 L 782.76 481.98 L 785.34 481.98 L 785.43 481.98 M 759.61 479.40 L 762.10 479.42 L 764.68 479.43 L 767.18 481.90 L 767.26 481.98 L 769.85 483.14 L 772.43 483.60 L 775.01 482.00 L 777.50 481.99 M 788.05 479.43 L 790.51 479.42 L 793.09 479.40 L 793.18 479.31 L 795.67 476.83 L 798.26 476.81 L 798.34 476.73 L 800.84 474.23 L 800.92 474.15 L 803.42 471.65 L 803.51 471.56 L 806.01 469.07 L 806.09 468.98 L 808.59 466.48 L 808.67 466.48 M 749.18 474.23 L 751.77 475.40 L 753.18 476.73 L 754.35 476.82 L 756.82 476.84 M 809.99 464.99 L 810.16 463.82 L 811.17 462.72 L 812.50 461.23 L 813.75 459.78 M 813.82 458.58 L 813.83 456.07 L 813.85 453.48 L 813.85 450.90 L 816.34 448.38 L 816.40 448.32 L 816.39 445.74 L 816.39 443.21 M 735.24 451.93 L 735.25 453.48 L 736.27 453.55 L 738.76 456.07 L 738.77 458.65 L 738.85 458.73 L 741.34 461.23 L 741.36 463.82 L 741.44 463.89 L 743.92 466.40 L 743.94 468.98 L 744.02 469.06 L 746.60 469.09 L 749.08 471.56 L 749.10 474.07 M 736.20 443.22 L 736.20 445.74 L 736.19 448.32 L 736.21 450.84 M 816.39 443.10 L 816.39 440.57 L 816.34 440.52 L 813.84 437.99 L 813.82 435.47 M 736.22 435.45 L 736.22 437.99 L 736.20 440.57 L 736.20 443.08 M 813.82 435.34 L 813.81 432.82 L 813.80 430.24 L 813.75 430.20 L 811.23 427.66 L 811.21 425.07 L 811.17 425.04 L 808.63 422.49 L 808.59 421.27 L 807.29 419.91 L 806.05 419.87 M 803.46 417.29 L 803.42 417.29 L 800.87 414.74 L 800.84 414.71 L 798.26 414.68 L 795.72 412.16 L 795.67 412.11 L 793.09 412.10 L 790.55 409.58 L 790.51 409.54 L 787.93 409.52 L 785.37 406.99 L 785.34 406.97 L 782.76 406.97 L 780.18 406.96 L 777.60 406.28 L 776.96 406.99 L 775.01 408.70 L 772.43 408.64 L 770.33 406.99 L 769.85 406.54 L 767.26 405.95 L 764.68 406.97 L 764.66 406.99 L 762.10 409.53 L 759.52 409.55 L 759.49 409.58 L 756.93 412.10 L 754.38 412.13 M 754.32 412.16 L 751.77 414.70 L 751.73 414.74 L 749.18 417.27 L 749.13 417.33 L 746.60 419.84 L 744.02 419.87 L 743.99 419.91 L 743.96 422.49 L 741.44 425.04 L 741.40 425.07 L 738.85 427.62 L 738.81 427.66 L 738.81 430.24 L 738.78 432.82 L 736.27 435.36 L 736.22 435.36 M 756.93 233.97 L 759.52 233.99 L 762.10 234.00 L 764.66 236.53 L 764.68 236.99 L 767.26 237.28 L 769.85 237.76 L 772.43 238.28 L 775.01 238.44 L 777.60 238.64 L 780.18 238.27 L 782.76 237.93 L 785.34 237.38 L 787.93 237.02 L 787.95 236.55 M 791.36 234.80 L 793.09 234.46 L 793.12 233.95 L 795.67 231.42 L 798.26 232.31 L 798.29 231.36 L 800.84 228.82 L 802.39 228.78 L 803.42 227.88 L 803.47 226.20 L 806.01 223.67 L 806.06 223.62 L 808.59 221.08 L 808.64 221.03 L 811.17 218.49 L 811.21 218.45 L 811.23 215.87 L 813.75 213.33 L 813.80 213.29 L 815.30 210.70 L 813.83 208.12 L 814.96 205.54 L 816.34 203.85 L 816.39 202.95 L 816.39 200.37 L 816.39 197.79 L 816.40 195.21 L 816.40 195.15 M 815.44 190.94 L 815.38 190.04 L 813.83 187.46 L 813.75 187.38 L 811.27 184.87 L 811.26 182.29 L 811.17 182.21 L 808.69 179.71 L 808.66 177.20 M 808.66 177.05 L 808.59 177.05 L 806.09 174.54 L 806.01 173.27 L 804.66 171.96 L 803.42 170.60 L 802.21 169.38 L 800.84 169.30 L 798.26 169.27 L 795.77 166.80 L 795.67 166.70 L 793.21 166.68 M 759.43 164.13 L 759.43 164.21 L 756.93 166.69 L 754.35 166.71 L 754.27 166.80 L 751.77 169.28 L 751.67 169.38 L 749.18 171.86 L 749.08 171.96 L 746.60 174.45 L 746.51 174.54 L 744.02 177.04 L 743.93 177.13 L 741.44 179.64 L 741.36 179.71 L 738.85 182.22 L 738.78 182.29 L 738.79 184.87 L 738.77 187.46 L 736.27 189.98 L 736.21 190.04 L 736.20 192.62 L 736.20 195.21 L 736.19 197.79 L 736.20 200.37 L 736.20 202.95 L 736.22 205.54 L 736.22 208.12 L 736.27 208.99 L 737.68 210.70 L 738.79 213.29 L 738.81 215.87 L 738.85 215.91 L 741.38 218.45 L 741.44 218.51 L 743.96 221.03 L 744.02 221.10 L 746.54 223.62 L 746.57 226.20 L 746.60 226.23 L 749.15 228.78 L 749.18 228.81 L 751.71 228.84 M 790.61 164.12 L 790.51 164.12 L 787.93 164.11 L 785.46 164.09 M 772.33 161.53 L 769.85 161.54 L 767.26 161.54 L 767.18 161.63 L 764.68 164.10 L 762.10 164.12 L 759.60 164.13 M 777.51 161.54 L 775.01 161.54 L 772.53 161.53 M 782.85 161.54 L 782.76 161.54 L 780.18 161.54 L 777.68 161.54 M 775.01 311.83 L 776.31 311.43 L 776.10 308.85 L 776.39 306.27 L 776.21 303.68 L 775.96 301.10 L 775.01 299.79 L 774.14 301.10 L 774.15 303.68 L 774.20 306.27 L 774.16 308.85 L 774.55 311.43 L 775.01 311.83 z " clip-path="url(#pdf202ce1c5)" style="fill: none; stroke: #ffb44b; stroke-width: 1.5"/> </g> <g id="QuadContourSet_3"> <path d="M 777.63 481.93 L 780.18 481.93 L 782.76 481.92 L 785.34 481.92 L 785.37 481.92 M 759.54 479.34 L 762.10 479.36 L 764.68 479.37 L 767.24 481.90 L 767.26 481.92 L 769.85 482.34 L 772.43 482.49 L 775.01 481.93 L 777.56 481.93 M 787.98 479.37 L 790.51 479.36 L 793.09 479.33 L 793.11 479.31 L 795.67 476.77 L 796.95 476.76 M 749.18 474.16 L 751.77 474.61 L 754.03 476.73 L 754.35 476.75 L 756.88 476.78 M 808.87 466.12 L 809.19 463.82 L 811.17 461.68 L 811.57 461.23 L 813.75 458.71 M 813.76 458.65 L 813.77 456.07 L 813.78 453.48 L 813.78 450.90 L 815.95 448.32 L 815.80 445.74 L 815.64 443.15 L 815.48 440.57 L 813.77 437.99 L 813.76 435.41 M 736.27 450.90 L 736.27 450.97 L 736.34 453.48 L 738.82 456.07 L 738.84 458.65 L 738.85 458.67 L 741.40 461.23 L 741.43 463.82 L 741.44 463.83 L 743.99 466.40 L 744.01 468.98 L 744.02 468.99 L 746.60 469.02 L 749.15 471.56 L 749.17 474.13 M 736.26 443.16 L 736.26 445.74 L 736.26 448.32 L 736.27 450.90 M 813.76 435.40 L 813.75 434.99 L 812.69 432.82 L 812.26 430.24 L 811.17 428.24 L 810.53 427.66 L 809.29 425.07 L 808.59 424.40 L 806.63 422.49 L 806.01 421.80 L 805.58 421.40 M 782.94 411.28 L 782.76 411.27 L 780.18 411.16 L 777.60 411.10 L 775.01 411.08 L 772.43 411.13 L 769.85 411.22 L 767.26 411.37 L 764.68 411.82 L 762.10 412.10 L 759.52 412.16 L 759.51 412.16 L 756.93 413.92 L 754.35 414.60 L 754.12 414.74 L 751.77 416.87 L 750.95 417.33 L 749.18 418.85 L 746.60 419.91 L 746.45 419.91 L 745.17 422.49 L 744.02 423.52 L 743.23 425.07 L 741.44 427.18 L 740.93 427.66 L 740.25 430.24 L 738.85 431.93 L 738.84 432.82 L 737.44 435.41 L 737.23 437.99 L 736.27 439.63 L 736.26 440.57 L 736.26 443.15 M 814.24 192.13 L 814.10 190.04 L 813.76 187.46 L 813.75 187.45 L 811.21 184.87 L 811.19 182.29 L 811.17 182.27 L 808.63 179.71 L 808.60 177.14 M 798.22 169.29 L 795.71 166.80 L 795.67 166.76 L 793.15 166.74 M 759.49 164.19 L 759.49 164.21 L 756.93 166.75 L 754.35 166.78 L 754.33 166.80 L 751.77 169.35 L 751.74 169.38 L 749.18 171.92 L 749.15 171.96 L 746.60 174.51 L 746.57 174.54 L 744.02 177.10 L 743.99 177.13 L 741.44 179.70 L 741.43 179.71 L 738.85 182.29 L 738.85 182.29 L 738.85 184.87 L 738.83 187.46 L 736.31 190.04 L 736.27 190.30 L 736.27 192.62 L 736.26 195.21 L 736.26 197.79 L 736.26 200.37 L 736.26 202.95 L 736.27 203.78 L 737.23 205.54 L 737.41 208.12 L 738.64 210.70 L 738.85 213.04 L 739.07 213.29 L 740.48 215.87 L 741.44 217.39 L 742.58 218.45 L 744.02 220.65 L 744.47 221.03 L 746.60 223.61 L 746.61 223.62 L 748.87 226.20 L 749.18 226.49 L 751.77 227.70 L 753.26 228.78 L 753.71 228.89 M 778.80 232.89 L 780.18 232.86 L 782.76 232.74 L 785.34 232.57 L 787.93 232.34 L 790.51 231.53 L 793.09 231.39 L 793.33 231.36 L 795.67 229.87 L 798.26 228.95 L 798.48 228.78 L 800.84 226.60 L 801.41 226.20 L 803.42 224.37 L 804.54 223.62 L 806.01 222.32 L 806.96 221.03 L 808.59 219.31 L 809.21 218.45 L 810.67 215.87 L 811.17 215.41 L 812.30 213.29 L 812.84 210.70 L 813.75 209.19 L 813.76 208.12 L 814.07 205.54 L 815.51 202.95 L 815.67 200.37 L 815.83 197.79 L 815.98 195.21 L 815.92 194.79 M 790.54 164.18 L 790.51 164.18 L 787.93 164.17 L 785.40 164.16 M 772.40 161.59 L 769.85 161.60 L 767.26 161.61 L 767.24 161.63 L 764.68 164.16 L 762.10 164.18 L 759.54 164.19 M 777.57 161.60 L 775.01 161.60 L 772.46 161.59 M 782.78 161.61 L 782.76 161.61 L 780.18 161.60 L 777.62 161.60 M 767.26 422.95 L 766.72 422.49 L 767.26 421.84 L 767.80 422.49 L 767.26 422.95 z M 775.01 423.83 L 773.55 422.49 L 775.01 420.89 L 777.60 421.33 L 778.61 422.49 L 777.60 423.40 L 775.01 423.83 z M 782.76 423.98 L 781.16 422.49 L 782.76 420.75 L 784.37 422.49 L 782.76 423.98 z M 767.26 218.97 L 766.81 218.45 L 767.26 218.05 L 767.71 218.45 L 767.26 218.97 z M 775.01 219.89 L 773.69 218.45 L 775.01 217.22 L 777.60 217.64 L 778.48 218.45 L 777.60 219.44 L 775.01 219.89 z M 782.76 220.03 L 781.29 218.45 L 782.76 217.08 L 784.23 218.45 L 782.76 220.03 " clip-path="url(#pdf202ce1c5)" style="fill: none; stroke: #ff7a85; stroke-width: 1.5"/> </g> <g id="QuadContourSet_4"> <path d="M 794.80 474.38 L 795.03 474.15 L 795.10 471.56 L 793.09 469.61 L 790.51 469.59 L 787.93 469.58 L 785.34 469.57 L 782.76 469.56 L 780.18 469.56 L 777.60 469.56 L 775.01 469.56 L 772.43 469.56 L 769.85 469.56 L 767.26 469.57 L 764.68 469.57 L 762.10 469.59 L 759.52 469.60 L 756.93 469.62 L 754.94 471.56 L 755.43 474.15 L 756.93 475.52 L 759.52 476.33 L 760.39 476.73 L 762.10 477.81 L 764.68 478.91 L 767.26 479.03 L 768.65 479.31 L 769.85 479.70 L 770.62 479.80 M 780.83 173.99 L 782.76 173.98 L 785.34 173.98 L 787.93 173.97 L 790.51 173.95 L 793.09 173.94 L 795.12 171.96 L 794.87 169.38 L 793.09 167.50 L 790.51 166.99 L 790.04 166.80 L 787.93 165.62 L 785.34 164.60 L 782.76 164.49 L 780.18 164.27 L 779.56 164.21 L 777.60 163.99 L 775.01 163.92 L 772.43 164.11 L 771.96 164.21 L 769.85 164.47 L 767.26 164.54 L 764.68 164.94 L 762.10 166.47 L 761.13 166.80 L 759.52 167.31 L 756.93 168.74 L 755.98 169.38 L 754.92 171.96 L 755.62 172.64 " clip-path="url(#pdf202ce1c5)" style="fill: none; stroke: #e83ec1; stroke-width: 1.5"/> </g> <g id="line2d_37"> <path d="M 579.67 518.87 L 584.37 518.87 " clip-path="url(#pdf202ce1c5)" style="fill: none; stroke: #000000; stroke-width: 0.95"/> </g> <g id="line2d_38"> <path d="M 974.41 517.58 L 977.64 517.58 " clip-path="url(#pdf202ce1c5)" style="fill: none; stroke: #000000; stroke-width: 0.95"/> </g> <g id="patch_7"> <path d="M 555.48 543.88 L 555.48 99.64 " style="fill: none; stroke: #000000; stroke-width: 0.8; stroke-linejoin: miter; stroke-linecap: square"/> </g> <g id="patch_8"> <path d="M 999.72 543.88 L 999.72 99.64 " style="fill: none; stroke: #000000; stroke-width: 0.8; stroke-linejoin: miter; stroke-linecap: square"/> </g> <g id="patch_9"> <path d="M 555.48 543.88 L 999.72 543.88 " style="fill: none; stroke: #000000; stroke-width: 0.8; stroke-linejoin: miter; stroke-linecap: square"/> </g> <g id="patch_10"> <path d="M 555.48 99.64 L 999.72 99.64 " style="fill: none; stroke: #000000; stroke-width: 0.8; stroke-linejoin: miter; stroke-linecap: square"/> </g> <g id="text_42"> <text style="font-size: 10px; font-family: 'DejaVu Sans','Liberation Sans',sans-serif; text-anchor: start" x="565.26" y="531.26" transform="rotate(-0 565.26 531.26)">10 kpc</text> </g> <g id="text_43">  <g transform="translate(962.66 529.84)"> <text><tspan x="0" y="-0.40" style="font-style: oblique; font-size: 10px; font-family: 'DejaVu Sans','Liberation Sans',sans-serif">p</tspan><tspan x="6.34" y="1.23" style="font-size: 7px; font-family: 'DejaVu Sans','Liberation Sans',sans-serif">100%</tspan></text> </g> </g> <g id="text_44"> <g clip-path="url(#pdf202ce1c5)"> <text style="font-size: 8px; font-family: 'DejaVu Sans','Liberation Sans',sans-serif; fill: #ffee11" transform="translate(773.81 272.33) rotate(-97.68)">0.800</text> </g> </g> <g id="text_45"> <g clip-path="url(#pdf202ce1c5)"> <text style="font-size: 8px; font-family: 'DejaVu Sans','Liberation Sans',sans-serif; fill: #ffee11" transform="translate(780.28 257.23) rotate(-270.23)">0.800</text> </g> </g> <g id="text_46"> <g clip-path="url(#pdf202ce1c5)"> <text style="font-size: 8px; font-family: 'DejaVu Sans','Liberation Sans',sans-serif; fill: #ff7a85" transform="translate(754.24 232.90) rotate(-350.85)">2.400</text> </g> </g> <g id="text_47"> <g clip-path="url(#pdf202ce1c5)"> <text style="font-size: 8px; font-family: 'DejaVu Sans','Liberation Sans',sans-serif; fill: #ff7a85" transform="translate(797.90 170.69) rotate(-319.08)">2.400</text> </g> </g> <g id="text_48"> <g clip-path="url(#pdf202ce1c5)"> <text style="font-size: 8px; font-family: 'DejaVu Sans','Liberation Sans',sans-serif; fill: #ff7a85" transform="translate(783.85 411.31) rotate(-335.84)">2.400</text> </g> </g> <g id="text_49"> <g clip-path="url(#pdf202ce1c5)"> <text style="font-size: 8px; font-family: 'DejaVu Sans','Liberation Sans',sans-serif; fill: #ff7a85" transform="translate(799.92 478.20) rotate(-44.96)">2.400</text> </g> </g> <g id="text_50"> <g clip-path="url(#pdf202ce1c5)"> <text style="font-size: 8px; font-family: 'DejaVu Sans','Liberation Sans',sans-serif; fill: #e83ec1" transform="translate(756.48 176.02) rotate(-359.14)">3.200</text> </g> </g> <g id="text_51"> <g clip-path="url(#pdf202ce1c5)"> <text style="font-size: 8px; font-family: 'DejaVu Sans','Liberation Sans',sans-serif; fill: #e83ec1" transform="translate(772.62 483.79) rotate(-11.82)">3.200</text> </g> </g> </g> <g id="axes_3"> <g id="patch_11"> <path d="M 1003.32 543.88 L 1011.96 543.88 L 1011.96 99.64 L 1003.32 99.64 z " style="fill: #ffffff"/> </g> <defs><linearGradient id="cg" gradientUnits="userSpaceOnUse" x1="0" y1="543.89" x2="0" y2="99.65"><stop offset="0" stop-color="#ffffff"/><stop offset="0.02" stop-color="#ffffcd"/><stop offset="0.03" stop-color="#ffff9b"/><stop offset="0.05" stop-color="#ffff69"/><stop offset="0.06" stop-color="#ffff37"/><stop offset="0.08" stop-color="#ffff05"/><stop offset="0.09" stop-color="#fff807"/><stop offset="0.11" stop-color="#fff00f"/><stop offset="0.12" stop-color="#ffe817"/><stop offset="0.14" stop-color="#ffe01f"/><stop offset="0.16" stop-color="#ffd827"/><stop offset="0.17" stop-color="#ffd02f"/><stop offset="0.19" stop-color="#ffc837"/><stop offset="0.2" stop-color="#ffc03f"/><stop offset="0.22" stop-color="#ffb847"/><stop offset="0.23" stop-color="#ffb04f"/><stop offset="0.25" stop-color="#ffa857"/><stop offset="0.27" stop-color="#ffa05f"/><stop offset="0.28" stop-color="#ff9867"/><stop offset="0.3" stop-color="#ff906f"/><stop offset="0.31" stop-color="#ff8877"/><stop offset="0.33" stop-color="#ff807f"/><stop offset="0.34" stop-color="#ff7887"/><stop offset="0.36" stop-color="#ff708f"/><stop offset="0.38" stop-color="#ff6897"/><stop offset="0.39" stop-color="#ff609f"/><stop offset="0.41" stop-color="#ff58a7"/><stop offset="0.42" stop-color="#ff50af"/><stop offset="0.44" stop-color="#f848b7"/><stop offset="0.45" stop-color="#eb40bf"/><stop offset="0.47" stop-color="#df38c7"/><stop offset="0.48" stop-color="#d230cf"/><stop offset="0.5" stop-color="#c628d7"/><stop offset="0.52" stop-color="#b920df"/><stop offset="0.53" stop-color="#ad18e7"/><stop offset="0.55" stop-color="#a010ef"/><stop offset="0.56" stop-color="#9408f7"/><stop offset="0.58" stop-color="#8700ff"/><stop offset="0.59" stop-color="#7b00ff"/><stop offset="0.61" stop-color="#6e00ff"/><stop offset="0.62" stop-color="#6200ff"/><stop offset="0.64" stop-color="#5500ff"/><stop offset="0.66" stop-color="#4900ff"/><stop offset="0.67" stop-color="#3c00ff"/><stop offset="0.69" stop-color="#3000ff"/><stop offset="0.7" stop-color="#2300ff"/><stop offset="0.72" stop-color="#1700ff"/><stop offset="0.73" stop-color="#0a00ff"/><stop offset="0.75" stop-color="#0000fc"/><stop offset="0.77" stop-color="#0000ec"/><stop offset="0.78" stop-color="#0000dc"/><stop offset="0.8" stop-color="#0000cc"/><stop offset="0.81" stop-color="#0000bc"/><stop offset="0.83" stop-color="#0000ac"/><stop offset="0.84" stop-color="#00009c"/><stop offset="0.86" stop-color="#00008c"/><stop offset="0.88" stop-color="#00007c"/><stop offset="0.89" stop-color="#00006c"/><stop offset="0.91" stop-color="#00005c"/><stop offset="0.92" stop-color="#00004c"/><stop offset="0.94" stop-color="#00003c"/><stop offset="0.95" stop-color="#00002c"/><stop offset="0.97" stop-color="#00001c"/><stop offset="0.98" stop-color="#00000c"/><stop offset="1" stop-color="#000000"/></linearGradient></defs><rect x="1003.32" y="99.65" width="8.64" height="444.24" fill="url(#cg)" opacity="0.2"/><line x1="1007.64" y1="99.65" x2="1007.64" y2="543.89" stroke="url(#cg)" stroke-width="8.64" stroke-dasharray="0.72 1.02" stroke-dashoffset="0" opacity="0.2" shape-rendering="crispEdges"/> <g id="matplotlib.axis_3"/> <g id="matplotlib.axis_4"> <g id="ytick_10"> <g shape-rendering="crispEdges" id="line2d_39"> <defs> <path id="m33c4ce201d" d="M 0 0 L 3.5 0 " style="stroke: #000000; stroke-width: 0.72"/> </defs> <g> <use href="#m33c4ce201d" x="1011.96" y="543.88" style="stroke: #000000; stroke-width: 0.8"/> </g> </g> <g id="text_52"> <text style="font-size: 10px; font-family: 'DejaVu Sans','Liberation Sans',sans-serif; text-anchor: start" x="1018.96" y="547.68" transform="rotate(-0 1018.96 547.68)">0</text> </g> </g> <g id="ytick_11"> <g shape-rendering="crispEdges" id="line2d_40"> <g> <use href="#m33c4ce201d" x="1011.96" y="480.42" style="stroke: #000000; stroke-width: 0.8"/> </g> </g> <g id="text_53"> <text style="font-size: 10px; font-family: 'DejaVu Sans','Liberation Sans',sans-serif; text-anchor: start" x="1018.96" y="484.22" transform="rotate(-0 1018.96 484.22)">1</text> </g> </g> <g id="ytick_12"> <g shape-rendering="crispEdges" id="line2d_41"> <g> <use href="#m33c4ce201d" x="1011.96" y="416.96" style="stroke: #000000; stroke-width: 0.8"/> </g> </g> <g id="text_54"> <text style="font-size: 10px; font-family: 'DejaVu Sans','Liberation Sans',sans-serif; text-anchor: start" x="1018.96" y="420.76" transform="rotate(-0 1018.96 420.76)">2</text> </g> </g> <g id="ytick_13"> <g shape-rendering="crispEdges" id="line2d_42"> <g> <use href="#m33c4ce201d" x="1011.96" y="353.49" style="stroke: #000000; stroke-width: 0.8"/> </g> </g> <g id="text_55"> <text style="font-size: 10px; font-family: 'DejaVu Sans','Liberation Sans',sans-serif; text-anchor: start" x="1018.96" y="357.29" transform="rotate(-0 1018.96 357.29)">3</text> </g> </g> <g id="ytick_14"> <g shape-rendering="crispEdges" id="line2d_43"> <g> <use href="#m33c4ce201d" x="1011.96" y="290.03" style="stroke: #000000; stroke-width: 0.8"/> </g> </g> <g id="text_56"> <text style="font-size: 10px; font-family: 'DejaVu Sans','Liberation Sans',sans-serif; text-anchor: start" x="1018.96" y="293.83" transform="rotate(-0 1018.96 293.83)">4</text> </g> </g> <g id="ytick_15"> <g shape-rendering="crispEdges" id="line2d_44"> <g> <use href="#m33c4ce201d" x="1011.96" y="226.57" style="stroke: #000000; stroke-width: 0.8"/> </g> </g> <g id="text_57"> <text style="font-size: 10px; font-family: 'DejaVu Sans','Liberation Sans',sans-serif; text-anchor: start" x="1018.96" y="230.37" transform="rotate(-0 1018.96 230.37)">5</text> </g> </g> <g id="ytick_16"> <g shape-rendering="crispEdges" id="line2d_45"> <g> <use href="#m33c4ce201d" x="1011.96" y="163.11" style="stroke: #000000; stroke-width: 0.8"/> </g> </g> <g id="text_58"> <text style="font-size: 10px; font-family: 'DejaVu Sans','Liberation Sans',sans-serif; text-anchor: start" x="1018.96" y="166.91" transform="rotate(-0 1018.96 166.91)">6</text> </g> </g> <g id="ytick_17"> <g shape-rendering="crispEdges" id="line2d_46"> <g> <use href="#m33c4ce201d" x="1011.96" y="99.64" style="stroke: #000000; stroke-width: 0.8"/> </g> </g> <g id="text_59"> <text style="font-size: 10px; font-family: 'DejaVu Sans','Liberation Sans',sans-serif; text-anchor: start" x="1018.96" y="103.44" transform="rotate(-0 1018.96 103.44)">7</text> </g> </g> <g id="text_60" transform="translate(1.58 0.72)">  <g transform="translate(1036.92 395.91) rotate(-90)"> <text><tspan x="0" y="-0.40" style="font-style: oblique; font-size: 10px; font-family: 'DejaVu Sans','Liberation Sans',sans-serif">log</tspan><tspan x="15.24" y="1.23" style="font-size: 7px; font-family: 'DejaVu Sans','Liberation Sans',sans-serif">10</tspan><tspan x="27.60" y="-0.40" style="font-size: 10px; font-family: 'DejaVu Sans','Liberation Sans',sans-serif">Intensity (arbitrary unit)</tspan></text> </g> </g> </g> <g id="patch_12"> <path d="M 1003.32 543.88 L 1003.32 99.64 " style="fill: none; stroke: #000000; stroke-width: 0.8; stroke-linejoin: miter; stroke-linecap: square"/> </g> <g id="patch_13"> <path d="M 1011.96 543.88 L 1011.96 99.64 " style="fill: none; stroke: #000000; stroke-width: 0.8; stroke-linejoin: miter; stroke-linecap: square"/> </g> <g id="patch_14"> <path d="M 1003.32 543.88 L 1011.96 543.88 " style="fill: none; stroke: #000000; stroke-width: 0.8; stroke-linejoin: miter; stroke-linecap: square"/> </g> <g id="patch_15"> <path d="M 1003.32 99.64 L 1011.96 99.64 " style="fill: none; stroke: #000000; stroke-width: 0.8; stroke-linejoin: miter; stroke-linecap: square"/> </g> </g> <g id="title1"> <text textLength="441.14" lengthAdjust="spacing" style="font-stretch: condensed; font-size: 12.75px; font-family: 'DejaVu Sans','Liberation Sans',sans-serif; text-anchor: start" x="273.31" y="17.20" transform="rotate(-0 273.31 17.20)">Projected image of the jets for an ordered boosted synchrotron emission.</text> </g> <g id="title2"> <text textLength="797.90" lengthAdjust="spacing" style="font-stretch: condensed; font-size: 12.75px; font-family: 'DejaVu Sans','Liberation Sans',sans-serif; text-anchor: start" x="94.89" y="32.32" transform="rotate(-0 94.89 32.32)">With phi = 70deg, jet aperture angle = 10.0deg, nu = 5e+09 Hz, B = 1e-04 T, gamma_max = 1e+4.5, p = 3.15, gamma_bulk = 4.0.</text> </g> </g> <defs> <clipPath id="pdf202ce1c5"> <rect x="555.48" y="99.64" width="444.24" height="444.24"/> </clipPath> <clipPath id="pae75f1fc90"> <rect x="1003.32" y="99.64" width="8.64" height="444.24"/> </clipPath> </defs> </svg> 
</body></html>
